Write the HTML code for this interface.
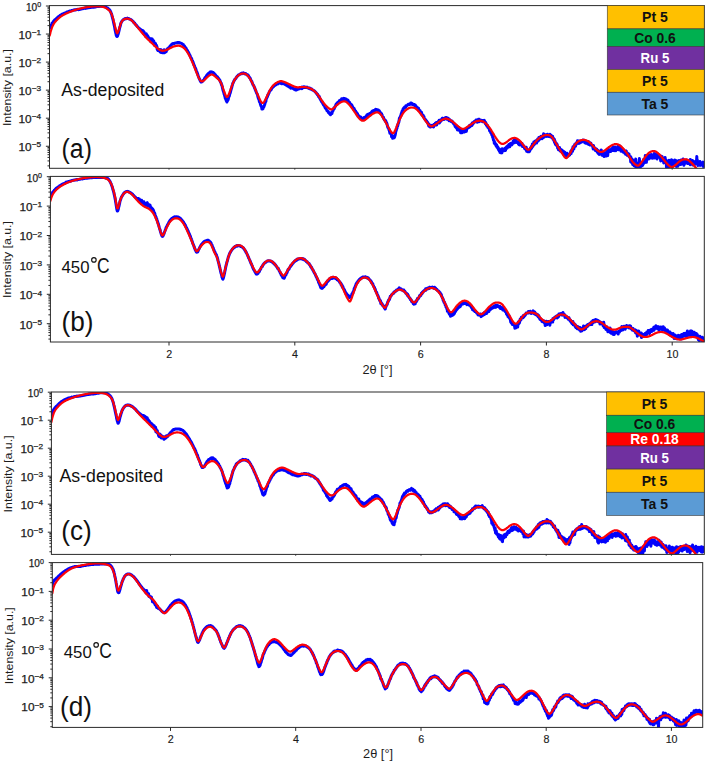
<!DOCTYPE html>
<html><head><meta charset="utf-8"><title>XRR</title>
<style>html,body{margin:0;padding:0;background:#fff;}svg{display:block;}text{font-family:"Liberation Sans",sans-serif;}</style></head>
<body>
<svg width="708" height="761" viewBox="0 0 708 761">
<rect x="0" y="0" width="708" height="761" fill="#ffffff"/>
<defs>
<clipPath id="cpa"><rect x="49.50" y="5.60" width="654.80" height="162.70"/></clipPath>
<clipPath id="cpb"><rect x="50.40" y="176.40" width="653.90" height="165.60"/></clipPath>
<clipPath id="cpc"><rect x="51.40" y="392.00" width="652.90" height="162.40"/></clipPath>
<clipPath id="cpd"><rect x="52.30" y="562.60" width="650.40" height="164.80"/></clipPath>
</defs>
<g clip-path="url(#cpa)" fill="none" stroke-linejoin="round" stroke-linecap="round">
<polyline points="49.7,28.0 50.0,27.4 50.3,26.7 50.5,26.1 50.8,25.7 51.1,25.2 51.4,24.7 51.7,24.2 51.9,23.5 52.2,23.1 52.5,22.8 52.8,22.5 53.1,22.1 53.3,21.6 53.6,21.3 53.9,21.1 54.2,20.5 54.5,20.3 54.7,19.9 55.0,19.8 55.3,19.5 55.6,19.4 55.9,19.0 56.1,18.9 56.4,18.6 56.7,18.3 57.0,17.8 57.3,17.7 57.5,17.5 57.8,17.3 58.1,16.9 58.4,16.7 58.7,16.4 58.9,16.2 59.2,16.2 59.5,15.8 59.8,15.7 60.1,15.6 60.3,15.2 60.6,15.1 60.9,14.9 61.2,14.8 61.5,14.5 61.7,14.4 62.0,14.4 62.3,14.0 62.6,14.1 62.9,13.9 63.1,13.7 63.4,13.8 63.7,13.5 64.0,13.2 64.3,13.2 64.5,13.1 64.8,12.9 65.1,12.9 65.4,12.7 65.7,12.7 65.9,12.6 66.2,12.3 66.5,12.3 66.8,12.1 67.1,12.1 67.3,11.9 67.6,11.8 67.9,11.8 68.2,11.8 68.5,11.7 68.7,11.4 69.0,11.3 69.3,11.4 69.6,11.0 69.9,11.1 70.1,11.1 70.4,11.1 70.7,11.0 71.0,10.8 71.3,10.7 71.5,10.6 71.8,10.7 72.1,10.5 72.4,10.4 72.7,10.4 72.9,10.3 73.2,10.2 73.5,10.0 73.8,10.1 74.1,10.0 74.3,10.1 74.6,9.9 74.9,9.8 75.2,9.9 75.5,9.7 75.7,9.8 76.0,9.7 76.3,9.7 76.6,9.5 76.9,9.6 77.1,9.4 77.4,9.3 77.7,9.5 78.0,9.4 78.3,9.5 78.5,9.6 78.8,9.3 79.1,9.3 79.4,9.4 79.7,9.4 79.9,9.3 80.2,9.2 80.5,9.3 80.8,9.2 81.1,9.0 81.3,9.0 81.6,8.9 81.9,8.8 82.2,8.8 82.5,8.7 82.7,8.8 83.0,8.6 83.3,8.6 83.6,8.4 83.9,8.4 84.1,8.2 84.4,8.2 84.7,8.3 85.0,8.0 85.3,8.3 85.5,7.9 85.8,8.2 86.1,7.9 86.4,8.1 86.7,7.9 86.9,7.7 87.2,8.0 87.5,7.9 87.8,7.7 88.1,7.7 88.3,7.6 88.6,7.5 88.9,7.7 89.2,7.5 89.5,7.5 89.7,7.4 90.0,7.4 90.3,7.3 90.6,7.5 90.9,7.3 91.1,7.4 91.4,7.3 91.7,7.2 92.0,7.2 92.3,7.2 92.5,7.2 92.8,7.1 93.1,7.2 93.4,7.0 93.7,7.0 93.9,7.2 94.2,7.0 94.5,6.9 94.8,7.1 95.1,7.1 95.3,6.8 95.6,6.9 95.9,6.8 96.2,6.6 96.5,6.8 96.7,6.6 97.0,6.6 97.3,6.5 97.6,6.5 97.9,6.4 98.1,6.4 98.4,6.3 98.7,6.2 99.0,6.4 99.3,6.2 99.5,6.2 99.8,6.2 100.1,6.1 100.4,6.1 100.7,6.2 100.9,6.1 101.2,6.1 101.5,6.1 101.8,6.2 102.1,6.1 102.3,6.1 102.6,6.0 102.9,6.0 103.2,6.2 103.5,6.3 103.7,6.2 104.0,6.3 104.3,6.4 104.6,6.5 104.9,6.6 105.1,6.6 105.4,6.9 105.7,6.8 106.0,7.2 106.3,7.3 106.5,7.5 106.8,7.8 107.1,8.0 107.4,7.9 107.7,8.1 107.9,8.5 108.2,8.6 108.5,8.9 108.8,9.3 109.1,9.3 109.3,9.5 109.6,10.0 109.9,10.3 110.2,10.8 110.5,11.4 110.7,12.0 111.0,12.6 111.3,13.6 111.6,14.3 111.9,15.2 112.1,16.4 112.4,17.4 112.7,18.5 113.0,19.6 113.3,20.8 113.5,22.0 113.8,23.4 114.1,24.8 114.4,26.0 114.7,27.5 114.9,28.9 115.2,30.5 115.5,31.6 115.8,33.2 116.1,34.4 116.3,35.5 116.6,36.0 116.9,36.6 117.2,36.6 117.5,36.1 117.7,35.4 118.0,34.5 118.3,33.7 118.6,32.5 118.9,31.2 119.1,30.3 119.4,29.0 119.7,27.7 120.0,26.8 120.3,25.9 120.5,24.8 120.8,23.5 121.1,22.7 121.4,22.3 121.7,21.7 121.9,21.2 122.2,20.8 122.5,20.5 122.8,20.2 123.1,20.0 123.3,19.7 123.6,19.4 123.9,19.4 124.2,19.1 124.5,19.2 124.7,18.8 125.0,18.9 125.3,18.8 125.6,18.6 125.9,18.8 126.1,18.7 126.4,18.5 126.7,18.6 127.0,18.5 127.3,18.2 127.5,18.5 127.8,18.5 128.1,18.6 128.4,18.5 128.7,18.7 128.9,18.5 129.2,19.0 129.5,19.0 129.8,19.0 130.1,19.3 130.3,19.2 130.6,19.4 130.9,19.4 131.2,19.9 131.5,20.1 131.7,20.3 132.0,20.5 132.3,20.7 132.6,21.0 132.9,21.3 133.1,21.6 133.4,21.9 133.7,22.4 134.0,22.6 134.3,22.8 134.5,23.1 134.8,23.4 135.1,24.0 135.4,24.2 135.7,24.5 135.9,24.8 136.2,25.0 136.5,25.5 136.8,25.9 137.1,26.1 137.3,26.5 137.6,26.8 137.9,27.2 138.2,27.3 138.5,27.7 138.7,27.9 139.0,28.3 139.3,28.3 139.6,28.7 139.9,29.0 140.1,29.1 140.4,29.3 140.7,29.6 141.0,29.8 141.3,29.9 141.5,30.4 141.8,31.1 142.1,30.6 142.4,30.9 142.7,30.7 142.9,31.5 143.2,30.9 143.5,31.3 143.8,33.3 144.1,31.9 144.3,33.9 144.6,34.7 144.9,33.9 145.2,34.5 145.5,36.2 145.7,34.4 146.0,34.3 146.3,33.8 146.6,35.5 146.9,37.3 147.1,37.0 147.4,35.4 147.7,35.8 148.0,36.4 148.3,37.5 148.5,37.3 148.8,37.9 149.1,38.3 149.4,38.0 149.7,38.5 149.9,39.0 150.2,39.0 150.5,40.4 150.8,41.5 151.1,40.5 151.3,40.2 151.6,38.7 151.9,41.1 152.2,39.0 152.5,39.8 152.7,42.8 153.0,42.5 153.3,41.9 153.6,40.6 153.9,42.2 154.1,42.1 154.4,43.7 154.7,45.6 155.0,43.8 155.3,43.4 155.5,43.6 155.8,45.3 156.1,45.7 156.4,45.3 156.7,47.1 156.9,46.4 157.2,49.3 157.5,49.8 157.8,50.4 158.1,49.2 158.3,50.5 158.6,50.0 158.9,50.0 159.2,50.2 159.5,49.4 159.7,49.4 160.0,51.9 160.3,51.0 160.6,51.5 160.9,52.4 161.1,49.7 161.4,50.8 161.7,51.8 162.0,52.1 162.3,51.3 162.5,52.8 162.8,52.0 163.1,50.5 163.4,52.3 163.7,52.5 163.9,52.1 164.2,49.8 164.5,52.8 164.8,52.0 165.1,52.4 165.3,50.9 165.6,50.2 165.9,50.0 166.2,51.7 166.5,50.0 166.7,50.5 167.0,49.3 167.3,49.3 167.6,48.6 167.9,48.6 168.1,48.5 168.4,48.0 168.7,47.9 169.0,47.5 169.3,47.1 169.5,46.8 169.8,46.5 170.1,46.3 170.4,45.9 170.7,45.6 170.9,45.3 171.2,44.9 171.5,44.6 171.8,44.4 172.1,44.3 172.3,43.9 172.6,44.0 172.9,43.8 173.2,43.6 173.5,43.7 173.7,43.5 174.0,43.6 174.3,43.3 174.6,43.3 174.9,43.2 175.1,43.0 175.4,43.1 175.7,43.0 176.0,43.0 176.3,42.9 176.5,42.7 176.8,42.8 177.1,42.8 177.4,42.9 177.7,42.6 177.9,42.7 178.2,42.5 178.5,42.8 178.8,42.6 179.1,42.6 179.3,42.8 179.6,43.0 179.9,42.7 180.2,42.9 180.5,43.0 180.7,43.0 181.0,43.3 181.3,43.3 181.6,43.4 181.9,43.7 182.1,43.7 182.4,44.1 182.7,44.2 183.0,44.4 183.3,44.6 183.5,45.3 183.8,45.4 184.1,45.8 184.4,46.1 184.7,46.4 184.9,46.8 185.2,47.4 185.5,47.4 185.8,47.8 186.1,48.3 186.3,48.7 186.6,49.4 186.9,49.9 187.2,50.2 187.5,50.6 187.7,51.3 188.0,52.0 188.3,52.0 188.6,52.9 188.9,53.2 189.1,54.0 189.4,54.3 189.7,54.9 190.0,55.3 190.3,56.0 190.5,56.9 190.8,57.4 191.1,57.8 191.4,58.3 191.7,58.8 191.9,59.7 192.2,60.3 192.5,61.0 192.8,61.6 193.1,62.2 193.3,63.0 193.6,63.7 193.9,64.6 194.2,65.4 194.5,65.8 194.7,66.4 195.0,67.3 195.3,67.9 195.6,68.6 195.9,69.4 196.1,70.0 196.4,71.0 196.7,71.5 197.0,72.3 197.3,73.1 197.5,73.8 197.8,74.6 198.1,75.5 198.4,76.3 198.7,77.2 198.9,77.9 199.2,78.3 199.5,79.3 199.8,79.6 200.1,80.4 200.3,81.0 200.6,81.1 200.9,82.0 201.2,82.1 201.5,82.0 201.7,81.9 202.0,81.7 202.3,81.4 202.6,81.3 202.9,80.9 203.1,80.7 203.4,80.1 203.7,80.0 204.0,79.6 204.3,79.1 204.5,78.5 204.8,78.1 205.1,77.6 205.4,77.6 205.7,77.1 205.9,76.7 206.2,76.2 206.5,75.6 206.8,75.2 207.1,75.0 207.3,74.7 207.6,74.4 207.9,73.9 208.2,74.0 208.5,73.9 208.7,73.6 209.0,73.3 209.3,72.7 209.6,73.0 209.9,72.6 210.1,72.0 210.4,72.4 210.7,71.9 211.0,71.9 211.3,71.9 211.5,72.2 211.8,71.9 212.1,72.1 212.4,72.5 212.7,72.6 212.9,72.3 213.2,72.7 213.5,72.7 213.8,73.1 214.1,73.5 214.3,73.8 214.6,74.1 214.9,74.5 215.2,74.5 215.5,75.0 215.7,75.4 216.0,75.7 216.3,76.1 216.6,76.3 216.9,76.4 217.1,76.9 217.4,76.9 217.7,77.2 218.0,78.0 218.3,78.2 218.5,78.7 218.8,78.6 219.1,79.3 219.4,79.9 219.7,80.1 219.9,80.3 220.2,81.2 220.5,82.1 220.8,82.6 221.1,83.0 221.3,84.0 221.6,85.0 221.9,85.1 222.2,86.7 222.5,87.9 222.7,88.9 223.0,90.2 223.3,91.1 223.6,91.9 223.9,93.0 224.1,94.1 224.4,94.7 224.7,95.8 225.0,97.0 225.3,98.3 225.5,98.5 225.8,99.3 226.1,100.1 226.4,101.1 226.7,101.1 226.9,102.0 227.2,100.9 227.5,100.8 227.8,100.2 228.1,99.9 228.3,99.2 228.6,97.5 228.9,96.8 229.2,96.3 229.5,95.1 229.7,93.9 230.0,93.6 230.3,92.5 230.6,91.5 230.9,90.2 231.1,89.6 231.4,88.3 231.7,87.6 232.0,86.2 232.3,85.2 232.5,84.6 232.8,83.4 233.1,83.0 233.4,82.3 233.7,81.4 233.9,81.1 234.2,80.5 234.5,80.2 234.8,79.4 235.1,79.0 235.3,78.9 235.6,78.7 235.9,78.3 236.2,77.5 236.5,77.2 236.7,77.1 237.0,76.5 237.3,76.0 237.6,76.0 237.9,75.8 238.1,75.3 238.4,74.9 238.7,74.7 239.0,74.9 239.3,74.4 239.5,74.4 239.8,74.3 240.1,74.2 240.4,73.9 240.7,73.9 240.9,73.5 241.2,73.5 241.5,73.3 241.8,73.6 242.1,73.3 242.3,73.1 242.6,73.2 242.9,73.2 243.2,73.3 243.5,72.9 243.7,73.0 244.0,73.2 244.3,73.7 244.6,73.5 244.9,73.4 245.1,73.6 245.4,74.0 245.7,73.6 246.0,73.8 246.3,74.2 246.5,74.3 246.8,74.5 247.1,74.5 247.4,75.2 247.7,75.5 247.9,75.0 248.2,75.9 248.5,75.7 248.8,76.6 249.1,76.8 249.3,77.4 249.6,77.8 249.9,78.1 250.2,78.3 250.5,79.2 250.7,79.5 251.0,80.2 251.3,80.7 251.6,81.3 251.9,81.4 252.1,82.6 252.4,83.2 252.7,84.0 253.0,84.8 253.3,85.0 253.5,85.2 253.8,86.1 254.1,86.6 254.4,87.4 254.7,88.2 254.9,88.4 255.2,89.6 255.5,89.8 255.8,91.0 256.1,91.6 256.3,92.2 256.6,93.0 256.9,93.5 257.2,94.2 257.5,94.6 257.7,95.8 258.0,97.1 258.3,98.1 258.6,98.8 258.9,99.5 259.1,100.0 259.4,101.7 259.7,102.0 260.0,102.1 260.3,103.7 260.5,104.7 260.8,105.3 261.1,106.2 261.4,106.5 261.7,107.5 261.9,109.1 262.2,108.6 262.5,108.9 262.8,108.9 263.1,108.5 263.3,107.2 263.6,107.0 263.9,106.8 264.2,105.8 264.5,105.0 264.7,104.7 265.0,103.1 265.3,102.5 265.6,101.5 265.9,101.3 266.1,99.3 266.4,98.8 266.7,98.0 267.0,97.5 267.3,96.8 267.5,96.5 267.8,95.0 268.1,95.1 268.4,94.2 268.7,93.5 268.9,93.3 269.2,92.4 269.5,91.5 269.8,91.5 270.1,90.7 270.3,90.4 270.6,90.2 270.9,89.8 271.2,89.7 271.5,88.9 271.7,88.1 272.0,88.0 272.3,87.6 272.6,87.2 272.9,87.3 273.1,86.7 273.4,86.1 273.7,86.5 274.0,86.0 274.3,85.9 274.5,85.6 274.8,85.5 275.1,85.2 275.4,85.2 275.7,84.9 275.9,84.7 276.2,84.5 276.5,83.9 276.8,84.1 277.1,83.9 277.3,83.9 277.6,83.4 277.9,84.0 278.2,83.5 278.5,83.1 278.7,82.9 279.0,83.2 279.3,83.1 279.6,82.9 279.9,83.1 280.1,82.9 280.4,83.1 280.7,82.8 281.0,83.0 281.3,83.2 281.5,83.6 281.8,82.9 282.1,83.1 282.4,83.1 282.7,83.6 282.9,83.2 283.2,83.5 283.5,83.7 283.8,83.6 284.1,83.7 284.3,84.0 284.6,83.7 284.9,84.0 285.2,84.5 285.5,84.6 285.7,84.7 286.0,84.5 286.3,84.9 286.6,85.4 286.9,85.5 287.1,85.5 287.4,85.4 287.7,86.0 288.0,85.8 288.3,85.8 288.5,85.8 288.8,86.8 289.1,86.7 289.4,87.1 289.7,86.8 289.9,87.3 290.2,87.1 290.5,87.3 290.8,88.1 291.1,87.8 291.3,87.6 291.6,87.9 291.9,88.1 292.2,87.9 292.5,88.2 292.7,87.9 293.0,88.4 293.3,88.6 293.6,88.8 293.9,89.2 294.1,89.1 294.4,89.3 294.7,88.9 295.0,89.5 295.3,89.9 295.5,89.6 295.8,89.6 296.1,89.6 296.4,90.0 296.7,89.2 296.9,89.4 297.2,89.4 297.5,89.4 297.8,89.0 298.1,89.2 298.3,88.9 298.6,88.9 298.9,88.7 299.2,88.3 299.5,88.5 299.7,88.6 300.0,88.0 300.3,88.0 300.6,88.1 300.9,87.6 301.1,87.8 301.4,87.3 301.7,87.8 302.0,88.6 302.3,87.8 302.5,87.1 302.8,87.2 303.1,87.0 303.4,87.0 303.7,87.4 303.9,86.7 304.2,87.3 304.5,87.1 304.8,87.5 305.1,87.2 305.3,87.0 305.6,87.3 305.9,87.5 306.2,87.4 306.5,87.5 306.7,87.3 307.0,87.0 307.3,87.8 307.6,87.8 307.9,87.8 308.1,87.8 308.4,88.2 308.7,87.9 309.0,87.9 309.3,88.1 309.5,88.6 309.8,88.0 310.1,88.8 310.4,88.4 310.7,88.4 310.9,89.2 311.2,88.9 311.5,88.8 311.8,89.2 312.1,89.7 312.3,89.9 312.6,89.7 312.9,90.1 313.2,90.3 313.5,90.2 313.7,90.7 314.0,90.8 314.3,90.9 314.6,91.1 314.9,91.5 315.1,91.8 315.4,91.9 315.7,92.2 316.0,92.9 316.3,93.0 316.5,93.5 316.8,93.9 317.1,94.0 317.4,94.9 317.7,94.3 317.9,95.2 318.2,95.3 318.5,96.4 318.8,96.9 319.1,96.2 319.3,97.0 319.6,98.0 319.9,98.6 320.2,99.1 320.5,99.3 320.7,100.0 321.0,100.6 321.3,100.8 321.6,101.7 321.9,101.1 322.1,102.6 322.4,102.5 322.7,103.7 323.0,103.7 323.3,103.9 323.5,104.9 323.8,104.8 324.1,105.3 324.4,105.5 324.7,106.6 324.9,107.2 325.2,107.9 325.5,107.9 325.8,108.8 326.1,108.8 326.3,109.2 326.6,109.9 326.9,110.5 327.2,110.4 327.5,110.8 327.7,111.2 328.0,111.7 328.3,111.6 328.6,112.8 328.9,112.6 329.1,113.3 329.4,113.0 329.7,113.9 330.0,114.2 330.3,113.7 330.5,114.7 330.8,113.7 331.1,114.1 331.4,113.5 331.7,112.4 331.9,113.6 332.2,112.1 332.5,111.5 332.8,111.1 333.1,110.4 333.3,109.3 333.6,109.5 333.9,108.1 334.2,108.7 334.5,107.7 334.7,107.1 335.0,106.8 335.3,106.4 335.6,106.0 335.9,104.5 336.1,104.4 336.4,103.7 336.7,103.7 337.0,104.4 337.3,103.1 337.5,103.4 337.8,102.4 338.1,102.7 338.4,102.2 338.7,102.0 338.9,101.9 339.2,102.1 339.5,100.5 339.8,101.0 340.1,100.4 340.3,100.7 340.6,100.2 340.9,100.3 341.2,99.8 341.5,100.2 341.7,98.8 342.0,99.1 342.3,99.4 342.6,98.9 342.9,98.7 343.1,98.8 343.4,98.4 343.7,98.9 344.0,99.6 344.3,99.2 344.5,98.5 344.8,98.6 345.1,98.8 345.4,99.4 345.7,98.9 345.9,99.1 346.2,99.7 346.5,99.9 346.8,99.7 347.1,99.7 347.3,99.8 347.6,100.4 347.9,100.1 348.2,101.4 348.5,101.3 348.7,102.0 349.0,102.8 349.3,102.9 349.6,102.4 349.9,103.5 350.1,104.0 350.4,103.7 350.7,104.0 351.0,105.0 351.3,104.5 351.5,106.1 351.8,105.0 352.1,105.9 352.4,106.6 352.7,107.0 352.9,107.6 353.2,108.1 353.5,108.3 353.8,109.2 354.1,108.3 354.3,109.6 354.6,109.7 354.9,110.5 355.2,110.9 355.5,110.9 355.7,111.4 356.0,112.4 356.3,112.7 356.6,112.6 356.9,114.2 357.1,114.8 357.4,113.4 357.7,114.6 358.0,116.1 358.3,115.6 358.5,115.7 358.8,115.9 359.1,116.0 359.4,116.5 359.7,116.7 359.9,117.8 360.2,117.2 360.5,117.4 360.8,117.2 361.1,118.0 361.3,117.7 361.6,118.1 361.9,118.8 362.2,118.6 362.5,118.6 362.7,118.6 363.0,118.4 363.3,118.2 363.6,118.0 363.9,118.5 364.1,117.4 364.4,118.5 364.7,117.7 365.0,117.1 365.3,117.0 365.5,116.8 365.8,117.0 366.1,116.3 366.4,117.0 366.7,115.8 366.9,114.9 367.2,115.4 367.5,114.5 367.8,115.2 368.1,115.5 368.3,115.0 368.6,113.9 368.9,113.9 369.2,114.8 369.5,113.9 369.7,113.6 370.0,113.8 370.3,115.1 370.6,113.5 370.9,112.8 371.1,112.6 371.4,112.6 371.7,111.8 372.0,111.4 372.3,111.7 372.5,111.1 372.8,111.3 373.1,111.2 373.4,112.1 373.7,110.5 373.9,110.7 374.2,110.5 374.5,110.7 374.8,110.8 375.1,110.0 375.3,109.8 375.6,109.3 375.9,109.6 376.2,110.2 376.5,110.0 376.7,109.6 377.0,109.9 377.3,110.2 377.6,110.5 377.9,110.2 378.1,110.5 378.4,110.0 378.7,110.5 379.0,112.0 379.3,110.6 379.5,111.7 379.8,112.2 380.1,112.3 380.4,112.5 380.7,113.3 380.9,113.7 381.2,114.1 381.5,113.6 381.8,114.8 382.1,114.9 382.3,115.5 382.6,116.3 382.9,116.9 383.2,117.5 383.5,117.3 383.7,118.4 384.0,119.1 384.3,119.5 384.6,120.1 384.9,119.8 385.1,120.3 385.4,121.4 385.7,120.7 386.0,122.0 386.3,122.3 386.5,123.2 386.8,123.1 387.1,124.3 387.4,125.6 387.7,126.9 387.9,127.7 388.2,127.7 388.5,128.4 388.8,128.7 389.1,130.2 389.3,130.5 389.6,131.8 389.9,133.3 390.2,132.7 390.5,132.3 390.7,133.4 391.0,133.6 391.3,134.3 391.6,136.8 391.9,136.4 392.1,135.5 392.4,137.6 392.7,138.3 393.0,137.2 393.3,137.1 393.5,137.4 393.8,137.8 394.1,137.8 394.4,137.4 394.7,136.7 394.9,135.8 395.2,135.0 395.5,133.5 395.8,131.0 396.1,130.9 396.3,130.2 396.6,128.8 396.9,128.6 397.2,126.8 397.5,125.4 397.7,125.9 398.0,124.5 398.3,123.3 398.6,122.8 398.9,121.9 399.1,120.6 399.4,118.2 399.7,118.3 400.0,117.6 400.3,116.5 400.5,116.2 400.8,115.9 401.1,114.3 401.4,113.2 401.7,113.8 401.9,111.9 402.2,110.8 402.5,110.7 402.8,110.1 403.1,109.0 403.3,109.2 403.6,108.3 403.9,107.8 404.2,107.9 404.5,107.8 404.7,106.9 405.0,107.0 405.3,106.6 405.6,107.4 405.9,105.8 406.1,106.4 406.4,105.6 406.7,105.4 407.0,105.5 407.3,105.4 407.5,105.4 407.8,104.8 408.1,104.3 408.4,104.2 408.7,104.5 408.9,104.4 409.2,104.5 409.5,104.1 409.8,104.2 410.1,104.3 410.3,103.7 410.6,103.1 410.9,103.1 411.2,103.0 411.5,104.1 411.7,103.2 412.0,104.0 412.3,103.8 412.6,104.4 412.9,104.3 413.1,104.0 413.4,104.2 413.7,104.4 414.0,104.7 414.3,104.6 414.5,105.0 414.8,105.9 415.1,104.9 415.4,105.9 415.7,105.7 415.9,106.5 416.2,107.0 416.5,107.0 416.8,107.7 417.1,107.1 417.3,108.5 417.6,108.1 417.9,108.8 418.2,109.0 418.5,108.1 418.7,109.2 419.0,109.9 419.3,110.8 419.6,110.6 419.9,111.0 420.1,110.6 420.4,112.2 420.7,112.7 421.0,112.3 421.3,112.6 421.5,112.3 421.8,113.8 422.1,115.1 422.4,114.7 422.7,115.4 422.9,115.6 423.2,115.4 423.5,117.0 423.8,116.3 424.1,117.3 424.3,118.0 424.6,118.8 424.9,119.1 425.2,119.5 425.5,119.5 425.7,119.7 426.0,120.9 426.3,120.9 426.6,121.1 426.9,121.6 427.1,122.4 427.4,122.1 427.7,122.8 428.0,123.1 428.3,124.4 428.5,124.9 428.8,126.1 429.1,124.3 429.4,125.0 429.7,126.1 429.9,125.7 430.2,125.7 430.5,127.1 430.8,126.0 431.1,125.5 431.3,125.5 431.6,126.5 431.9,126.5 432.2,125.4 432.5,125.5 432.7,126.3 433.0,126.2 433.3,125.4 433.6,127.0 433.9,125.8 434.1,124.2 434.4,124.9 434.7,125.2 435.0,124.4 435.3,123.3 435.5,124.2 435.8,124.6 436.1,124.8 436.4,122.4 436.7,125.0 436.9,122.6 437.2,123.6 437.5,123.5 437.8,123.2 438.1,122.5 438.3,121.5 438.6,122.3 438.9,121.4 439.2,120.2 439.5,122.9 439.7,121.5 440.0,121.9 440.3,120.2 440.6,121.3 440.9,121.2 441.1,121.0 441.4,119.9 441.7,119.1 442.0,119.5 442.3,118.3 442.5,118.4 442.8,119.2 443.1,118.4 443.4,118.7 443.7,118.6 443.9,119.6 444.2,119.2 444.5,118.4 444.8,119.0 445.1,117.9 445.3,118.1 445.6,118.7 445.9,117.6 446.2,118.0 446.5,117.5 446.7,118.3 447.0,119.1 447.3,118.0 447.6,118.6 447.9,118.2 448.1,118.3 448.4,118.4 448.7,120.0 449.0,120.6 449.3,119.8 449.5,119.4 449.8,120.4 450.1,120.1 450.4,120.9 450.7,120.9 450.9,121.1 451.2,121.5 451.5,121.2 451.8,121.5 452.1,121.0 452.3,122.0 452.6,121.8 452.9,122.8 453.2,122.6 453.5,123.5 453.7,124.0 454.0,123.3 454.3,124.0 454.6,124.2 454.9,125.6 455.1,126.5 455.4,126.3 455.7,125.9 456.0,127.4 456.3,125.9 456.5,128.1 456.8,127.1 457.1,126.1 457.4,129.9 457.7,129.5 457.9,128.2 458.2,129.3 458.5,129.3 458.8,129.8 459.1,129.0 459.3,129.8 459.6,130.8 459.9,130.8 460.2,131.6 460.5,131.0 460.7,132.8 461.0,130.8 461.3,131.6 461.6,130.2 461.9,130.8 462.1,132.7 462.4,131.2 462.7,132.3 463.0,131.9 463.3,131.2 463.5,131.6 463.8,131.4 464.1,131.3 464.4,132.0 464.7,131.7 464.9,130.6 465.2,130.1 465.5,130.7 465.8,130.1 466.1,130.6 466.3,131.4 466.6,129.9 466.9,129.0 467.2,128.6 467.5,127.9 467.7,127.6 468.0,127.2 468.3,127.3 468.6,126.9 468.9,127.4 469.1,126.4 469.4,126.2 469.7,125.3 470.0,126.8 470.3,125.9 470.5,126.4 470.8,125.5 471.1,125.7 471.4,124.4 471.7,124.7 471.9,125.6 472.2,123.0 472.5,124.2 472.8,124.2 473.1,123.2 473.3,123.2 473.6,123.2 473.9,121.9 474.2,122.3 474.5,121.3 474.7,121.2 475.0,121.0 475.3,121.1 475.6,121.2 475.9,121.2 476.1,120.1 476.4,121.8 476.7,121.3 477.0,120.2 477.3,122.2 477.5,120.4 477.8,120.7 478.1,120.5 478.4,119.4 478.7,119.8 478.9,121.8 479.2,119.2 479.5,120.8 479.8,120.4 480.1,120.2 480.3,121.0 480.6,120.3 480.9,120.4 481.2,121.2 481.5,120.3 481.7,120.3 482.0,120.7 482.3,120.5 482.6,121.7 482.9,120.4 483.1,121.6 483.4,120.5 483.7,121.8 484.0,121.0 484.3,120.3 484.5,121.9 484.8,121.5 485.1,122.2 485.4,123.7 485.7,122.5 485.9,123.0 486.2,124.8 486.5,124.5 486.8,125.8 487.1,125.5 487.3,125.2 487.6,126.1 487.9,127.4 488.2,127.7 488.5,127.6 488.7,128.1 489.0,128.5 489.3,128.7 489.6,130.9 489.9,130.1 490.1,129.9 490.4,131.0 490.7,132.6 491.0,133.2 491.3,133.3 491.5,133.6 491.8,134.9 492.1,134.2 492.4,135.2 492.7,137.6 492.9,137.3 493.2,138.8 493.5,140.2 493.8,140.5 494.1,140.6 494.3,143.3 494.6,142.7 494.9,142.4 495.2,144.2 495.5,144.6 495.7,144.0 496.0,145.7 496.3,146.1 496.6,144.7 496.9,147.1 497.1,147.3 497.4,147.6 497.7,146.6 498.0,148.4 498.3,149.1 498.5,149.6 498.8,148.4 499.1,150.8 499.4,148.9 499.7,150.3 499.9,152.4 500.2,150.2 500.5,150.6 500.8,152.7 501.1,151.1 501.3,151.3 501.6,152.0 501.9,152.9 502.2,148.8 502.5,150.4 502.7,150.0 503.0,149.7 503.3,149.8 503.6,149.6 503.9,150.7 504.1,149.0 504.4,149.9 504.7,149.9 505.0,148.3 505.3,149.1 505.5,150.6 505.8,148.8 506.1,147.5 506.4,147.9 506.7,146.7 506.9,147.7 507.2,148.1 507.5,146.0 507.8,146.3 508.1,147.4 508.3,145.5 508.6,145.9 508.9,144.4 509.2,144.3 509.5,144.4 509.7,146.8 510.0,144.0 510.3,143.6 510.6,143.4 510.9,143.6 511.1,144.2 511.4,143.5 511.7,145.1 512.0,143.2 512.3,144.2 512.5,143.0 512.8,143.1 513.1,141.1 513.4,142.2 513.7,142.2 513.9,141.9 514.2,140.1 514.5,142.8 514.8,141.6 515.1,141.6 515.3,141.6 515.6,141.7 515.9,139.4 516.2,140.9 516.5,141.2 516.7,142.4 517.0,142.4 517.3,142.0 517.6,141.9 517.9,141.8 518.1,142.7 518.4,144.0 518.7,142.1 519.0,144.7 519.3,144.2 519.5,143.2 519.8,144.9 520.1,142.6 520.4,142.5 520.7,143.2 520.9,144.2 521.2,144.5 521.5,144.6 521.8,145.4 522.1,143.4 522.3,146.4 522.6,144.7 522.9,145.7 523.2,146.2 523.5,145.7 523.7,145.7 524.0,146.3 524.3,147.6 524.6,148.5 524.9,148.7 525.1,147.3 525.4,147.8 525.7,147.9 526.0,149.7 526.3,147.2 526.5,151.2 526.8,149.4 527.1,149.2 527.4,150.7 527.7,151.8 527.9,150.9 528.2,151.8 528.5,150.6 528.8,151.4 529.1,151.7 529.3,149.9 529.6,151.4 529.9,149.7 530.2,149.3 530.5,147.9 530.7,148.2 531.0,149.0 531.3,146.4 531.6,148.2 531.9,147.5 532.1,147.0 532.4,144.0 532.7,145.8 533.0,146.2 533.3,144.4 533.5,144.9 533.8,142.1 534.1,144.7 534.4,143.1 534.7,144.2 534.9,141.3 535.2,143.3 535.5,142.1 535.8,142.7 536.1,140.8 536.3,140.8 536.6,143.1 536.9,140.0 537.2,139.9 537.5,140.0 537.7,139.1 538.0,140.7 538.3,140.9 538.6,138.6 538.9,137.5 539.1,139.8 539.4,139.5 539.7,139.0 540.0,139.1 540.3,137.3 540.5,137.6 540.8,136.5 541.1,136.3 541.4,138.0 541.7,136.5 541.9,138.7 542.2,136.8 542.5,136.1 542.8,137.1 543.1,137.8 543.3,136.6 543.6,133.8 543.9,136.3 544.2,137.0 544.5,135.5 544.7,135.2 545.0,136.5 545.3,135.8 545.6,134.8 545.9,135.3 546.1,135.0 546.4,135.7 546.7,135.6 547.0,136.4 547.3,136.0 547.5,134.3 547.8,135.8 548.1,136.2 548.4,135.9 548.7,136.4 548.9,135.2 549.2,135.0 549.5,136.5 549.8,135.0 550.1,134.3 550.3,136.9 550.6,135.7 550.9,136.2 551.2,135.5 551.5,135.8 551.7,136.2 552.0,137.1 552.3,138.0 552.6,136.2 552.9,139.1 553.1,137.8 553.4,138.3 553.7,140.2 554.0,139.9 554.3,139.1 554.5,142.5 554.8,140.6 555.1,142.0 555.4,144.4 555.7,144.0 555.9,142.7 556.2,144.6 556.5,143.4 556.8,145.7 557.1,144.3 557.3,145.2 557.6,148.0 557.9,146.8 558.2,147.1 558.5,149.8 558.7,148.3 559.0,147.5 559.3,149.5 559.6,147.6 559.9,150.5 560.1,150.9 560.4,149.2 560.7,149.4 561.0,150.6 561.3,150.7 561.5,149.8 561.8,151.9 562.1,150.5 562.4,151.2 562.7,151.5 562.9,151.9 563.2,152.9 563.5,151.3 563.8,153.8 564.1,153.1 564.3,152.8 564.6,152.1 564.9,152.4 565.2,154.9 565.5,153.2 565.7,154.7 566.0,156.1 566.3,154.8 566.6,156.6 566.9,154.3 567.1,153.3 567.4,156.1 567.7,155.1 568.0,156.1 568.3,154.5 568.5,155.9 568.8,155.3 569.1,154.9 569.4,154.4 569.7,155.0 569.9,153.7 570.2,153.2 570.5,153.7 570.8,151.3 571.1,153.6 571.3,150.8 571.6,151.6 571.9,149.9 572.2,149.2 572.5,151.3 572.7,148.2 573.0,146.7 573.3,146.8 573.6,146.8 573.9,149.0 574.1,146.5 574.4,146.9 574.7,144.5 575.0,145.5 575.3,145.5 575.5,146.3 575.8,143.6 576.1,144.6 576.4,144.0 576.7,142.5 576.9,143.2 577.2,142.8 577.5,140.7 577.8,143.2 578.1,143.0 578.3,141.9 578.6,141.0 578.9,143.4 579.2,142.2 579.5,142.8 579.7,143.0 580.0,141.2 580.3,142.3 580.6,141.2 580.9,141.3 581.1,141.2 581.4,141.2 581.7,142.1 582.0,141.1 582.3,140.8 582.5,140.7 582.8,141.2 583.1,140.1 583.4,140.4 583.7,140.8 583.9,140.4 584.2,140.8 584.5,140.4 584.8,142.8 585.1,142.2 585.3,141.5 585.6,141.1 585.9,143.2 586.2,141.7 586.5,141.4 586.7,141.9 587.0,142.0 587.3,143.1 587.6,142.0 587.9,144.1 588.1,141.5 588.4,143.1 588.7,141.7 589.0,144.6 589.3,142.8 589.5,143.3 589.8,144.4 590.1,145.0 590.4,143.0 590.7,144.0 590.9,143.3 591.2,145.1 591.5,145.2 591.8,145.3 592.1,145.2 592.3,145.9 592.6,145.8 592.9,147.5 593.2,148.9 593.5,145.5 593.7,147.8 594.0,147.8 594.3,149.1 594.6,147.8 594.9,148.9 595.1,148.2 595.4,150.5 595.7,150.1 596.0,150.0 596.3,150.9 596.5,150.4 596.8,149.1 597.1,151.9 597.4,151.7 597.7,151.4 597.9,153.0 598.2,153.5 598.5,150.8 598.8,151.3 599.1,154.4 599.3,154.4 599.6,151.8 599.9,152.0 600.2,152.2 600.5,152.6 600.7,151.4 601.0,153.6 601.3,149.9 601.6,152.3 601.9,155.2 602.1,153.2 602.4,154.1 602.7,155.1 603.0,155.4 603.3,153.9 603.5,154.4 603.8,153.3 604.1,156.6 604.4,155.2 604.7,152.8 604.9,154.3 605.2,155.0 605.5,154.5 605.8,156.1 606.1,155.3 606.3,152.6 606.6,153.0 606.9,151.3 607.2,153.1 607.5,152.7 607.7,155.7 608.0,152.3 608.3,149.4 608.6,151.0 608.9,151.8 609.1,149.9 609.4,150.2 609.7,150.7 610.0,151.4 610.3,150.6 610.5,149.6 610.8,151.4 611.1,149.7 611.4,149.6 611.7,148.5 611.9,149.0 612.2,150.6 612.5,147.9 612.8,149.5 613.1,150.3 613.3,147.0 613.6,149.6 613.9,148.0 614.2,150.7 614.5,150.4 614.7,149.4 615.0,147.1 615.3,147.8 615.6,149.9 615.9,150.6 616.1,148.9 616.4,149.9 616.7,147.8 617.0,148.2 617.3,148.3 617.5,148.8 617.8,146.6 618.1,149.3 618.4,149.7 618.7,147.0 618.9,146.8 619.2,148.8 619.5,147.7 619.8,145.9 620.1,149.5 620.3,148.8 620.6,148.2 620.9,151.2 621.2,149.1 621.5,148.3 621.7,149.4 622.0,148.2 622.3,148.7 622.6,150.2 622.9,149.3 623.1,149.6 623.4,152.3 623.7,151.5 624.0,151.7 624.3,151.6 624.5,151.8 624.8,153.2 625.1,151.6 625.4,154.2 625.7,151.0 625.9,152.1 626.2,150.9 626.5,152.5 626.8,153.8 627.1,155.3 627.3,153.0 627.6,154.3 627.9,154.2 628.2,154.1 628.5,153.9 628.7,156.1 629.0,154.0 629.3,157.0 629.6,157.3 629.9,156.7 630.1,156.6 630.4,156.5 630.7,161.9 631.0,157.3 631.3,162.3 631.5,161.2 631.8,160.1 632.1,159.1 632.4,163.0 632.7,164.4 632.9,160.1 633.2,161.3 633.5,163.8 633.8,162.8 634.1,165.8 634.3,161.5 634.6,163.5 634.9,160.5 635.2,166.5 635.5,161.6 635.7,159.0 636.0,162.8 636.3,163.0 636.6,166.9 636.9,162.9 637.1,163.6 637.4,164.8 637.7,166.7 638.0,163.6 638.3,165.9 638.5,165.1 638.8,163.7 639.1,164.6 639.4,158.5 639.7,162.9 639.9,167.0 640.2,162.0 640.5,166.9 640.8,166.5 641.1,164.5 641.3,163.2 641.6,164.2 641.9,165.5 642.2,165.7 642.5,164.5 642.7,165.4 643.0,162.2 643.3,163.2 643.6,159.6 643.9,163.3 644.1,161.8 644.4,160.5 644.7,162.7 645.0,161.5 645.3,155.5 645.5,159.7 645.8,157.0 646.1,160.5 646.4,162.3 646.7,157.4 646.9,158.0 647.2,157.3 647.5,157.9 647.8,158.2 648.1,158.9 648.3,155.5 648.6,159.1 648.9,155.3 649.2,157.0 649.5,158.1 649.7,157.4 650.0,155.0 650.3,155.3 650.6,155.6 650.9,156.2 651.1,157.9 651.4,154.4 651.7,156.9 652.0,157.2 652.3,157.0 652.5,156.8 652.8,158.3 653.1,156.8 653.4,157.3 653.7,156.9 653.9,157.5 654.2,153.5 654.5,158.0 654.8,155.9 655.1,155.9 655.3,155.0 655.6,153.9 655.9,156.1 656.2,155.8 656.5,157.5 656.7,154.7 657.0,158.9 657.3,157.2 657.6,156.5 657.9,155.9 658.1,155.9 658.4,155.5 658.7,156.4 659.0,157.3 659.3,157.1 659.5,155.4 659.8,157.2 660.1,156.4 660.4,158.2 660.7,160.9 660.9,159.2 661.2,157.9 661.5,156.2 661.8,156.7 662.1,156.5 662.3,160.5 662.6,158.4 662.9,159.9 663.2,159.1 663.5,160.5 663.7,162.9 664.0,159.7 664.3,160.5 664.6,160.0 664.9,161.9 665.1,157.5 665.4,160.1 665.7,159.8 666.0,160.0 666.3,163.5 666.5,167.3 666.8,161.1 667.1,164.7 667.4,163.6 667.7,161.3 667.9,162.8 668.2,163.0 668.5,162.3 668.8,167.1 669.1,160.2 669.3,164.4 669.6,164.3 669.9,162.7 670.2,164.0 670.5,165.4 670.7,164.0 671.0,164.4 671.3,164.8 671.6,159.7 671.9,165.8 672.1,167.2 672.4,165.0 672.7,165.2 673.0,160.8 673.3,163.2 673.5,162.0 673.8,162.4 674.1,165.3 674.4,162.0 674.7,163.2 674.9,159.9 675.2,163.1 675.5,163.5 675.8,162.0 676.1,161.9 676.3,166.5 676.6,160.8 676.9,161.0 677.2,161.4 677.5,164.8 677.7,166.3 678.0,163.1 678.3,161.2 678.6,161.6 678.9,164.1 679.1,160.6 679.4,164.7 679.7,164.6 680.0,162.2 680.3,163.1 680.5,163.2 680.8,164.5 681.1,160.0 681.4,163.8 681.7,160.2 681.9,160.4 682.2,161.9 682.5,161.3 682.8,160.0 683.1,159.0 683.3,160.2 683.6,164.3 683.9,165.3 684.2,163.1 684.5,164.1 684.7,161.2 685.0,162.1 685.3,162.6 685.6,160.2 685.9,160.3 686.1,162.1 686.4,161.3 686.7,160.0 687.0,162.5 687.3,161.4 687.5,163.6 687.8,161.8 688.1,161.4 688.4,162.1 688.7,161.7 688.9,160.9 689.2,161.4 689.5,163.6 689.8,163.5 690.1,164.7 690.3,159.5 690.6,161.8 690.9,161.7 691.2,162.8 691.5,161.7 691.7,161.6 692.0,163.9 692.3,162.9 692.6,160.6 692.9,165.1 693.1,164.5 693.4,161.8 693.7,164.4 694.0,161.6 694.3,165.0 694.5,162.7 694.8,161.7 695.1,162.6 695.4,161.9 695.7,163.6 695.9,163.6 696.2,163.3 696.5,162.2 696.8,156.6 697.1,163.3 697.3,159.8 697.6,163.7 697.9,165.4 698.2,163.8 698.5,162.6 698.7,163.0 699.0,163.1 699.3,162.3 699.6,162.2 699.9,161.5 700.1,165.4 700.4,163.3 700.7,165.1 701.0,163.0 701.3,163.6 701.5,163.2 701.8,164.3 702.1,165.0 702.4,163.9 702.7,162.2 702.9,162.0 703.2,166.4 703.5,162.9 703.8,162.8 704.1,165.9 704.3,165.2 704.6,164.1 704.9,162.3" stroke="#0303fc" stroke-width="3.0"/>
<polyline points="49.7,35.6 50.0,34.4 50.3,33.2 50.5,32.1 50.8,31.1 51.1,30.2 51.4,29.3 51.7,28.4 51.9,27.7 52.2,26.9 52.5,26.3 52.8,25.6 53.1,25.1 53.3,24.6 53.6,24.1 53.9,23.6 54.2,23.2 54.5,22.8 54.7,22.4 55.0,22.0 55.3,21.7 55.6,21.4 55.9,21.1 56.1,20.8 56.4,20.5 56.7,20.2 57.0,19.9 57.3,19.6 57.5,19.3 57.8,19.1 58.1,18.8 58.4,18.5 58.7,18.3 58.9,18.0 59.2,17.8 59.5,17.6 59.8,17.3 60.1,17.1 60.3,16.9 60.6,16.7 60.9,16.5 61.2,16.3 61.5,16.1 61.7,15.9 62.0,15.8 62.3,15.6 62.6,15.4 62.9,15.3 63.1,15.1 63.4,15.0 63.7,14.8 64.0,14.7 64.3,14.5 64.5,14.4 64.8,14.2 65.1,14.1 65.4,13.9 65.7,13.8 65.9,13.7 66.2,13.5 66.5,13.4 66.8,13.3 67.1,13.2 67.3,13.0 67.6,12.9 67.9,12.8 68.2,12.7 68.5,12.5 68.7,12.4 69.0,12.3 69.3,12.2 69.6,12.1 69.9,12.0 70.1,11.8 70.4,11.7 70.7,11.6 71.0,11.5 71.3,11.4 71.5,11.3 71.8,11.2 72.1,11.1 72.4,11.0 72.7,10.9 72.9,10.7 73.2,10.6 73.5,10.5 73.8,10.4 74.1,10.3 74.3,10.3 74.6,10.2 74.9,10.1 75.2,10.0 75.5,9.9 75.7,9.8 76.0,9.7 76.3,9.6 76.6,9.5 76.9,9.5 77.1,9.4 77.4,9.3 77.7,9.2 78.0,9.1 78.3,9.1 78.5,9.0 78.8,8.9 79.1,8.8 79.4,8.8 79.7,8.7 79.9,8.6 80.2,8.6 80.5,8.5 80.8,8.4 81.1,8.4 81.3,8.3 81.6,8.2 81.9,8.2 82.2,8.1 82.5,8.0 82.7,8.0 83.0,7.9 83.3,7.9 83.6,7.8 83.9,7.7 84.1,7.7 84.4,7.6 84.7,7.6 85.0,7.5 85.3,7.5 85.5,7.4 85.8,7.4 86.1,7.3 86.4,7.3 86.7,7.2 86.9,7.2 87.2,7.1 87.5,7.1 87.8,7.1 88.1,7.0 88.3,7.0 88.6,6.9 88.9,6.9 89.2,6.9 89.5,6.8 89.7,6.8 90.0,6.7 90.3,6.7 90.6,6.7 90.9,6.7 91.1,6.6 91.4,6.6 91.7,6.6 92.0,6.5 92.3,6.5 92.5,6.5 92.8,6.5 93.1,6.4 93.4,6.4 93.7,6.4 93.9,6.4 94.2,6.4 94.5,6.3 94.8,6.3 95.1,6.3 95.3,6.3 95.6,6.3 95.9,6.3 96.2,6.3 96.5,6.3 96.7,6.3 97.0,6.3 97.3,6.3 97.6,6.3 97.9,6.3 98.1,6.3 98.4,6.3 98.7,6.3 99.0,6.3 99.3,6.4 99.5,6.4 99.8,6.4 100.1,6.4 100.4,6.4 100.7,6.5 100.9,6.5 101.2,6.6 101.5,6.6 101.8,6.6 102.1,6.7 102.3,6.8 102.6,6.8 102.9,6.9 103.2,7.0 103.5,7.1 103.7,7.2 104.0,7.2 104.3,7.3 104.6,7.4 104.9,7.5 105.1,7.7 105.4,7.8 105.7,7.9 106.0,8.1 106.3,8.2 106.5,8.4 106.8,8.6 107.1,8.8 107.4,9.0 107.7,9.2 107.9,9.5 108.2,9.7 108.5,9.9 108.8,10.2 109.1,10.4 109.3,10.7 109.6,11.0 109.9,11.3 110.2,11.7 110.5,12.1 110.7,12.5 111.0,13.0 111.3,13.5 111.6,14.1 111.9,14.8 112.1,15.6 112.4,16.4 112.7,17.3 113.0,18.3 113.3,19.3 113.5,20.3 113.8,21.4 114.1,22.5 114.4,23.6 114.7,24.8 114.9,25.9 115.2,27.1 115.5,28.3 115.8,29.4 116.1,30.6 116.3,31.6 116.6,32.5 116.9,33.1 117.2,33.3 117.5,33.1 117.7,32.7 118.0,32.1 118.3,31.3 118.6,30.5 118.9,29.6 119.1,28.8 119.4,27.9 119.7,26.9 120.0,26.0 120.3,25.1 120.5,24.3 120.8,23.5 121.1,22.8 121.4,22.2 121.7,21.7 121.9,21.3 122.2,20.9 122.5,20.5 122.8,20.2 123.1,20.0 123.3,19.7 123.6,19.6 123.9,19.4 124.2,19.3 124.5,19.2 124.7,19.1 125.0,19.0 125.3,18.9 125.6,18.9 125.9,18.8 126.1,18.7 126.4,18.7 126.7,18.7 127.0,18.7 127.3,18.7 127.5,18.7 127.8,18.7 128.1,18.8 128.4,18.8 128.7,18.9 128.9,19.0 129.2,19.1 129.5,19.2 129.8,19.3 130.1,19.4 130.3,19.6 130.6,19.7 130.9,19.9 131.2,20.1 131.5,20.3 131.7,20.5 132.0,20.8 132.3,21.0 132.6,21.3 132.9,21.6 133.1,21.9 133.4,22.3 133.7,22.6 134.0,22.9 134.3,23.2 134.5,23.5 134.8,23.9 135.1,24.2 135.4,24.6 135.7,24.9 135.9,25.2 136.2,25.6 136.5,25.9 136.8,26.3 137.1,26.6 137.3,27.0 137.6,27.3 137.9,27.7 138.2,28.0 138.5,28.4 138.7,28.7 139.0,29.1 139.3,29.4 139.6,29.8 139.9,30.1 140.1,30.5 140.4,30.8 140.7,31.2 141.0,31.5 141.3,31.8 141.5,32.2 141.8,32.5 142.1,32.9 142.4,33.2 142.7,33.5 142.9,33.9 143.2,34.2 143.5,34.5 143.8,34.8 144.1,35.2 144.3,35.5 144.6,35.8 144.9,36.1 145.2,36.5 145.5,36.8 145.7,37.1 146.0,37.4 146.3,37.7 146.6,38.0 146.9,38.3 147.1,38.6 147.4,38.8 147.7,39.1 148.0,39.4 148.3,39.7 148.5,40.0 148.8,40.2 149.1,40.5 149.4,40.8 149.7,41.0 149.9,41.3 150.2,41.6 150.5,41.8 150.8,42.1 151.1,42.4 151.3,42.6 151.6,42.9 151.9,43.2 152.2,43.4 152.5,43.7 152.7,44.0 153.0,44.3 153.3,44.5 153.6,44.8 153.9,45.1 154.1,45.3 154.4,45.6 154.7,45.8 155.0,46.1 155.3,46.4 155.5,46.6 155.8,46.9 156.1,47.1 156.4,47.4 156.7,47.6 156.9,47.8 157.2,48.1 157.5,48.3 157.8,48.5 158.1,48.7 158.3,48.9 158.6,49.2 158.9,49.4 159.2,49.5 159.5,49.7 159.7,49.9 160.0,50.0 160.3,50.2 160.6,50.3 160.9,50.4 161.1,50.5 161.4,50.6 161.7,50.7 162.0,50.7 162.3,50.7 162.5,50.8 162.8,50.8 163.1,50.7 163.4,50.7 163.7,50.7 163.9,50.7 164.2,50.6 164.5,50.6 164.8,50.5 165.1,50.4 165.3,50.3 165.6,50.2 165.9,50.2 166.2,50.0 166.5,49.9 166.7,49.8 167.0,49.7 167.3,49.6 167.6,49.5 167.9,49.3 168.1,49.2 168.4,49.1 168.7,48.9 169.0,48.8 169.3,48.6 169.5,48.5 169.8,48.3 170.1,48.2 170.4,48.0 170.7,47.9 170.9,47.7 171.2,47.6 171.5,47.5 171.8,47.3 172.1,47.2 172.3,47.1 172.6,46.9 172.9,46.8 173.2,46.7 173.5,46.6 173.7,46.5 174.0,46.4 174.3,46.4 174.6,46.3 174.9,46.2 175.1,46.1 175.4,46.1 175.7,46.0 176.0,46.0 176.3,45.9 176.5,45.9 176.8,45.8 177.1,45.8 177.4,45.8 177.7,45.7 177.9,45.7 178.2,45.7 178.5,45.7 178.8,45.7 179.1,45.8 179.3,45.8 179.6,45.9 179.9,45.9 180.2,46.0 180.5,46.1 180.7,46.2 181.0,46.3 181.3,46.4 181.6,46.5 181.9,46.6 182.1,46.8 182.4,47.0 182.7,47.1 183.0,47.3 183.3,47.5 183.5,47.7 183.8,48.0 184.1,48.2 184.4,48.5 184.7,48.7 184.9,49.0 185.2,49.4 185.5,49.7 185.8,50.0 186.1,50.4 186.3,50.8 186.6,51.2 186.9,51.6 187.2,52.0 187.5,52.4 187.7,52.9 188.0,53.4 188.3,53.8 188.6,54.3 188.9,54.9 189.1,55.4 189.4,55.9 189.7,56.5 190.0,57.0 190.3,57.6 190.5,58.2 190.8,58.8 191.1,59.4 191.4,60.0 191.7,60.6 191.9,61.2 192.2,61.9 192.5,62.5 192.8,63.2 193.1,63.8 193.3,64.5 193.6,65.2 193.9,65.9 194.2,66.6 194.5,67.3 194.7,68.1 195.0,68.8 195.3,69.5 195.6,70.2 195.9,70.9 196.1,71.7 196.4,72.4 196.7,73.1 197.0,73.8 197.3,74.4 197.5,75.1 197.8,75.7 198.1,76.4 198.4,77.0 198.7,77.6 198.9,78.2 199.2,78.7 199.5,79.2 199.8,79.7 200.1,80.1 200.3,80.4 200.6,80.8 200.9,81.0 201.2,81.2 201.5,81.3 201.7,81.4 202.0,81.4 202.3,81.4 202.6,81.3 202.9,81.1 203.1,81.0 203.4,80.8 203.7,80.5 204.0,80.3 204.3,80.1 204.5,79.8 204.8,79.6 205.1,79.3 205.4,79.0 205.7,78.8 205.9,78.5 206.2,78.2 206.5,77.9 206.8,77.7 207.1,77.4 207.3,77.1 207.6,76.9 207.9,76.6 208.2,76.4 208.5,76.2 208.7,75.9 209.0,75.7 209.3,75.5 209.6,75.3 209.9,75.1 210.1,75.0 210.4,74.8 210.7,74.7 211.0,74.6 211.3,74.5 211.5,74.5 211.8,74.5 212.1,74.5 212.4,74.6 212.7,74.7 212.9,74.8 213.2,75.0 213.5,75.1 213.8,75.3 214.1,75.5 214.3,75.8 214.6,76.0 214.9,76.3 215.2,76.5 215.5,76.8 215.7,77.0 216.0,77.3 216.3,77.5 216.6,77.8 216.9,78.0 217.1,78.2 217.4,78.5 217.7,78.7 218.0,79.0 218.3,79.2 218.5,79.5 218.8,79.8 219.1,80.1 219.4,80.5 219.7,80.8 219.9,81.2 220.2,81.6 220.5,82.1 220.8,82.6 221.1,83.1 221.3,83.7 221.6,84.4 221.9,85.1 222.2,85.9 222.5,86.6 222.7,87.4 223.0,88.3 223.3,89.1 223.6,89.9 223.9,90.7 224.1,91.5 224.4,92.3 224.7,93.0 225.0,93.8 225.3,94.5 225.5,95.1 225.8,95.7 226.1,96.2 226.4,96.6 226.7,96.9 226.9,97.0 227.2,96.9 227.5,96.7 227.8,96.4 228.1,95.9 228.3,95.4 228.6,94.7 228.9,94.1 229.2,93.3 229.5,92.6 229.7,91.9 230.0,91.1 230.3,90.3 230.6,89.5 230.9,88.7 231.1,87.9 231.4,87.2 231.7,86.4 232.0,85.6 232.3,84.9 232.5,84.2 232.8,83.5 233.1,82.8 233.4,82.2 233.7,81.6 233.9,81.1 234.2,80.6 234.5,80.1 234.8,79.6 235.1,79.2 235.3,78.7 235.6,78.3 235.9,78.0 236.2,77.6 236.5,77.3 236.7,76.9 237.0,76.6 237.3,76.4 237.6,76.1 237.9,75.8 238.1,75.6 238.4,75.4 238.7,75.2 239.0,74.9 239.3,74.8 239.5,74.6 239.8,74.4 240.1,74.3 240.4,74.1 240.7,74.0 240.9,73.9 241.2,73.8 241.5,73.7 241.8,73.7 242.1,73.6 242.3,73.6 242.6,73.5 242.9,73.5 243.2,73.5 243.5,73.5 243.7,73.5 244.0,73.6 244.3,73.6 244.6,73.7 244.9,73.7 245.1,73.8 245.4,73.9 245.7,74.1 246.0,74.2 246.3,74.4 246.5,74.6 246.8,74.8 247.1,75.0 247.4,75.3 247.7,75.6 247.9,75.9 248.2,76.2 248.5,76.6 248.8,77.0 249.1,77.4 249.3,77.8 249.6,78.2 249.9,78.6 250.2,79.1 250.5,79.6 250.7,80.1 251.0,80.6 251.3,81.1 251.6,81.6 251.9,82.1 252.1,82.6 252.4,83.2 252.7,83.8 253.0,84.3 253.3,84.9 253.5,85.5 253.8,86.1 254.1,86.6 254.4,87.2 254.7,87.8 254.9,88.5 255.2,89.1 255.5,89.7 255.8,90.3 256.1,91.0 256.3,91.6 256.6,92.3 256.9,92.9 257.2,93.5 257.5,94.2 257.7,94.8 258.0,95.5 258.3,96.1 258.6,96.7 258.9,97.4 259.1,98.0 259.4,98.6 259.7,99.2 260.0,99.8 260.3,100.3 260.5,100.9 260.8,101.4 261.1,101.8 261.4,102.2 261.7,102.5 261.9,102.8 262.2,102.9 262.5,103.0 262.8,103.0 263.1,102.8 263.3,102.6 263.6,102.3 263.9,102.0 264.2,101.6 264.5,101.1 264.7,100.7 265.0,100.2 265.3,99.6 265.6,99.1 265.9,98.5 266.1,98.0 266.4,97.4 266.7,96.8 267.0,96.2 267.3,95.6 267.5,95.0 267.8,94.4 268.1,93.8 268.4,93.2 268.7,92.7 268.9,92.1 269.2,91.5 269.5,91.0 269.8,90.4 270.1,89.9 270.3,89.4 270.6,89.0 270.9,88.5 271.2,88.1 271.5,87.7 271.7,87.3 272.0,86.9 272.3,86.6 272.6,86.2 272.9,85.9 273.1,85.6 273.4,85.3 273.7,85.0 274.0,84.7 274.3,84.5 274.5,84.2 274.8,84.0 275.1,83.7 275.4,83.5 275.7,83.3 275.9,83.1 276.2,83.0 276.5,82.8 276.8,82.6 277.1,82.5 277.3,82.3 277.6,82.2 277.9,82.0 278.2,81.9 278.5,81.8 278.7,81.7 279.0,81.6 279.3,81.5 279.6,81.4 279.9,81.3 280.1,81.2 280.4,81.2 280.7,81.2 281.0,81.1 281.3,81.2 281.5,81.2 281.8,81.2 282.1,81.3 282.4,81.3 282.7,81.4 282.9,81.5 283.2,81.6 283.5,81.7 283.8,81.8 284.1,81.9 284.3,82.0 284.6,82.1 284.9,82.2 285.2,82.3 285.5,82.4 285.7,82.6 286.0,82.7 286.3,82.8 286.6,82.9 286.9,83.1 287.1,83.2 287.4,83.3 287.7,83.5 288.0,83.6 288.3,83.8 288.5,83.9 288.8,84.0 289.1,84.2 289.4,84.3 289.7,84.4 289.9,84.6 290.2,84.7 290.5,84.9 290.8,85.0 291.1,85.1 291.3,85.3 291.6,85.4 291.9,85.5 292.2,85.7 292.5,85.8 292.7,85.9 293.0,86.0 293.3,86.1 293.6,86.3 293.9,86.4 294.1,86.5 294.4,86.6 294.7,86.7 295.0,86.8 295.3,86.9 295.5,86.9 295.8,87.0 296.1,87.1 296.4,87.1 296.7,87.2 296.9,87.2 297.2,87.3 297.5,87.3 297.8,87.3 298.1,87.3 298.3,87.3 298.6,87.3 298.9,87.3 299.2,87.2 299.5,87.2 299.7,87.2 300.0,87.2 300.3,87.1 300.6,87.1 300.9,87.1 301.1,87.1 301.4,87.0 301.7,87.0 302.0,87.0 302.3,87.0 302.5,87.0 302.8,87.0 303.1,87.0 303.4,87.0 303.7,87.0 303.9,87.0 304.2,87.1 304.5,87.1 304.8,87.1 305.1,87.2 305.3,87.2 305.6,87.2 305.9,87.3 306.2,87.3 306.5,87.4 306.7,87.5 307.0,87.5 307.3,87.6 307.6,87.7 307.9,87.7 308.1,87.8 308.4,87.9 308.7,88.0 309.0,88.1 309.3,88.2 309.5,88.3 309.8,88.4 310.1,88.5 310.4,88.6 310.7,88.7 310.9,88.8 311.2,89.0 311.5,89.1 311.8,89.3 312.1,89.4 312.3,89.6 312.6,89.8 312.9,90.0 313.2,90.2 313.5,90.4 313.7,90.6 314.0,90.8 314.3,91.0 314.6,91.3 314.9,91.5 315.1,91.8 315.4,92.1 315.7,92.3 316.0,92.6 316.3,92.9 316.5,93.2 316.8,93.5 317.1,93.9 317.4,94.2 317.7,94.6 317.9,94.9 318.2,95.3 318.5,95.7 318.8,96.1 319.1,96.5 319.3,96.9 319.6,97.3 319.9,97.7 320.2,98.1 320.5,98.5 320.7,98.9 321.0,99.4 321.3,99.8 321.6,100.2 321.9,100.6 322.1,101.0 322.4,101.4 322.7,101.8 323.0,102.1 323.3,102.5 323.5,102.9 323.8,103.2 324.1,103.6 324.4,103.9 324.7,104.2 324.9,104.6 325.2,104.9 325.5,105.2 325.8,105.5 326.1,105.8 326.3,106.1 326.6,106.4 326.9,106.6 327.2,106.9 327.5,107.2 327.7,107.4 328.0,107.6 328.3,107.9 328.6,108.1 328.9,108.3 329.1,108.5 329.4,108.7 329.7,108.9 330.0,109.0 330.3,109.2 330.5,109.3 330.8,109.4 331.1,109.4 331.4,109.4 331.7,109.4 331.9,109.3 332.2,109.1 332.5,109.0 332.8,108.8 333.1,108.6 333.3,108.4 333.6,108.2 333.9,107.9 334.2,107.7 334.5,107.4 334.7,107.2 335.0,106.9 335.3,106.6 335.6,106.3 335.9,106.1 336.1,105.8 336.4,105.5 336.7,105.3 337.0,105.0 337.3,104.8 337.5,104.5 337.8,104.3 338.1,104.1 338.4,103.9 338.7,103.7 338.9,103.5 339.2,103.3 339.5,103.1 339.8,102.9 340.1,102.7 340.3,102.6 340.6,102.4 340.9,102.3 341.2,102.1 341.5,102.0 341.7,101.9 342.0,101.7 342.3,101.6 342.6,101.5 342.9,101.5 343.1,101.4 343.4,101.4 343.7,101.3 344.0,101.3 344.3,101.3 344.5,101.4 344.8,101.4 345.1,101.5 345.4,101.6 345.7,101.7 345.9,101.8 346.2,101.9 346.5,102.1 346.8,102.3 347.1,102.5 347.3,102.8 347.6,103.0 347.9,103.3 348.2,103.6 348.5,103.9 348.7,104.2 349.0,104.5 349.3,104.8 349.6,105.1 349.9,105.5 350.1,105.8 350.4,106.2 350.7,106.5 351.0,106.9 351.3,107.2 351.5,107.6 351.8,108.0 352.1,108.4 352.4,108.8 352.7,109.2 352.9,109.6 353.2,110.0 353.5,110.4 353.8,110.8 354.1,111.2 354.3,111.6 354.6,112.0 354.9,112.4 355.2,112.8 355.5,113.3 355.7,113.7 356.0,114.1 356.3,114.5 356.6,114.9 356.9,115.3 357.1,115.7 357.4,116.1 357.7,116.5 358.0,116.9 358.3,117.2 358.5,117.6 358.8,118.0 359.1,118.3 359.4,118.6 359.7,118.9 359.9,119.2 360.2,119.5 360.5,119.7 360.8,119.9 361.1,120.1 361.3,120.3 361.6,120.4 361.9,120.6 362.2,120.6 362.5,120.7 362.7,120.7 363.0,120.7 363.3,120.7 363.6,120.6 363.9,120.6 364.1,120.4 364.4,120.3 364.7,120.1 365.0,120.0 365.3,119.8 365.5,119.6 365.8,119.4 366.1,119.2 366.4,118.9 366.7,118.7 366.9,118.5 367.2,118.2 367.5,118.0 367.8,117.7 368.1,117.5 368.3,117.2 368.6,117.0 368.9,116.7 369.2,116.5 369.5,116.3 369.7,116.1 370.0,115.8 370.3,115.6 370.6,115.4 370.9,115.2 371.1,115.0 371.4,114.8 371.7,114.6 372.0,114.4 372.3,114.2 372.5,114.0 372.8,113.9 373.1,113.7 373.4,113.5 373.7,113.4 373.9,113.2 374.2,113.1 374.5,113.0 374.8,112.9 375.1,112.7 375.3,112.6 375.6,112.5 375.9,112.5 376.2,112.4 376.5,112.3 376.7,112.3 377.0,112.3 377.3,112.3 377.6,112.3 377.9,112.4 378.1,112.5 378.4,112.6 378.7,112.7 379.0,112.9 379.3,113.1 379.5,113.3 379.8,113.5 380.1,113.8 380.4,114.1 380.7,114.4 380.9,114.7 381.2,115.1 381.5,115.5 381.8,115.9 382.1,116.3 382.3,116.7 382.6,117.2 382.9,117.6 383.2,118.0 383.5,118.5 383.7,119.0 384.0,119.5 384.3,119.9 384.6,120.4 384.9,120.9 385.1,121.4 385.4,121.9 385.7,122.4 386.0,122.9 386.3,123.4 386.5,123.9 386.8,124.4 387.1,125.0 387.4,125.5 387.7,126.0 387.9,126.5 388.2,127.0 388.5,127.5 388.8,128.0 389.1,128.5 389.3,129.0 389.6,129.4 389.9,129.9 390.2,130.4 390.5,130.8 390.7,131.2 391.0,131.6 391.3,132.0 391.6,132.4 391.9,132.7 392.1,132.9 392.4,133.1 392.7,133.2 393.0,133.2 393.3,133.2 393.5,133.0 393.8,132.7 394.1,132.4 394.4,131.9 394.7,131.4 394.9,130.8 395.2,130.2 395.5,129.5 395.8,128.8 396.1,128.1 396.3,127.4 396.6,126.6 396.9,125.9 397.2,125.2 397.5,124.5 397.7,123.8 398.0,123.1 398.3,122.5 398.6,121.8 398.9,121.2 399.1,120.6 399.4,120.0 399.7,119.4 400.0,118.8 400.3,118.2 400.5,117.7 400.8,117.1 401.1,116.6 401.4,116.1 401.7,115.6 401.9,115.1 402.2,114.6 402.5,114.1 402.8,113.7 403.1,113.3 403.3,112.9 403.6,112.5 403.9,112.1 404.2,111.8 404.5,111.5 404.7,111.2 405.0,110.9 405.3,110.6 405.6,110.3 405.9,110.1 406.1,109.9 406.4,109.6 406.7,109.4 407.0,109.2 407.3,109.1 407.5,108.9 407.8,108.7 408.1,108.6 408.4,108.4 408.7,108.3 408.9,108.1 409.2,108.0 409.5,107.9 409.8,107.8 410.1,107.7 410.3,107.7 410.6,107.6 410.9,107.6 411.2,107.5 411.5,107.5 411.7,107.5 412.0,107.5 412.3,107.5 412.6,107.5 412.9,107.6 413.1,107.6 413.4,107.7 413.7,107.7 414.0,107.8 414.3,107.9 414.5,108.0 414.8,108.1 415.1,108.3 415.4,108.4 415.7,108.6 415.9,108.8 416.2,109.0 416.5,109.3 416.8,109.5 417.1,109.8 417.3,110.0 417.6,110.3 417.9,110.6 418.2,110.9 418.5,111.2 418.7,111.5 419.0,111.8 419.3,112.2 419.6,112.5 419.9,112.9 420.1,113.2 420.4,113.6 420.7,113.9 421.0,114.3 421.3,114.7 421.5,115.1 421.8,115.4 422.1,115.8 422.4,116.2 422.7,116.6 422.9,117.0 423.2,117.4 423.5,117.9 423.8,118.3 424.1,118.7 424.3,119.1 424.6,119.5 424.9,119.9 425.2,120.3 425.5,120.7 425.7,121.1 426.0,121.5 426.3,121.9 426.6,122.3 426.9,122.6 427.1,123.0 427.4,123.4 427.7,123.7 428.0,124.0 428.3,124.3 428.5,124.6 428.8,124.9 429.1,125.1 429.4,125.4 429.7,125.6 429.9,125.8 430.2,125.9 430.5,126.1 430.8,126.2 431.1,126.3 431.3,126.3 431.6,126.3 431.9,126.3 432.2,126.2 432.5,126.1 432.7,126.0 433.0,125.9 433.3,125.8 433.6,125.7 433.9,125.5 434.1,125.3 434.4,125.2 434.7,125.0 435.0,124.8 435.3,124.6 435.5,124.4 435.8,124.2 436.1,124.0 436.4,123.8 436.7,123.6 436.9,123.4 437.2,123.2 437.5,123.0 437.8,122.8 438.1,122.6 438.3,122.4 438.6,122.2 438.9,122.0 439.2,121.8 439.5,121.6 439.7,121.4 440.0,121.2 440.3,121.0 440.6,120.8 440.9,120.6 441.1,120.4 441.4,120.3 441.7,120.1 442.0,119.9 442.3,119.8 442.5,119.6 442.8,119.5 443.1,119.3 443.4,119.2 443.7,119.1 443.9,119.0 444.2,118.9 444.5,118.8 444.8,118.8 445.1,118.7 445.3,118.7 445.6,118.7 445.9,118.6 446.2,118.7 446.5,118.7 446.7,118.7 447.0,118.8 447.3,118.8 447.6,118.9 447.9,119.0 448.1,119.1 448.4,119.2 448.7,119.3 449.0,119.4 449.3,119.5 449.5,119.7 449.8,119.8 450.1,120.0 450.4,120.1 450.7,120.3 450.9,120.5 451.2,120.7 451.5,120.8 451.8,121.0 452.1,121.2 452.3,121.4 452.6,121.7 452.9,121.9 453.2,122.1 453.5,122.3 453.7,122.5 454.0,122.8 454.3,123.0 454.6,123.3 454.9,123.5 455.1,123.7 455.4,124.0 455.7,124.2 456.0,124.5 456.3,124.7 456.5,125.0 456.8,125.2 457.1,125.5 457.4,125.7 457.7,126.0 457.9,126.2 458.2,126.4 458.5,126.6 458.8,126.8 459.1,127.0 459.3,127.2 459.6,127.4 459.9,127.6 460.2,127.8 460.5,128.0 460.7,128.2 461.0,128.3 461.3,128.5 461.6,128.6 461.9,128.7 462.1,128.8 462.4,128.8 462.7,128.9 463.0,128.9 463.3,128.9 463.5,128.9 463.8,128.8 464.1,128.7 464.4,128.6 464.7,128.5 464.9,128.4 465.2,128.2 465.5,128.1 465.8,127.9 466.1,127.7 466.3,127.6 466.6,127.4 466.9,127.2 467.2,127.0 467.5,126.8 467.7,126.6 468.0,126.4 468.3,126.2 468.6,126.0 468.9,125.8 469.1,125.7 469.4,125.5 469.7,125.3 470.0,125.1 470.3,124.9 470.5,124.7 470.8,124.5 471.1,124.3 471.4,124.1 471.7,123.9 471.9,123.7 472.2,123.6 472.5,123.4 472.8,123.2 473.1,123.0 473.3,122.8 473.6,122.7 473.9,122.5 474.2,122.3 474.5,122.2 474.7,122.0 475.0,121.9 475.3,121.7 475.6,121.6 475.9,121.5 476.1,121.3 476.4,121.2 476.7,121.1 477.0,121.1 477.3,121.0 477.5,120.9 477.8,120.9 478.1,120.8 478.4,120.8 478.7,120.8 478.9,120.7 479.2,120.7 479.5,120.7 479.8,120.7 480.1,120.7 480.3,120.8 480.6,120.8 480.9,120.8 481.2,120.9 481.5,120.9 481.7,121.0 482.0,121.1 482.3,121.2 482.6,121.3 482.9,121.4 483.1,121.6 483.4,121.7 483.7,121.9 484.0,122.1 484.3,122.2 484.5,122.4 484.8,122.7 485.1,122.9 485.4,123.1 485.7,123.4 485.9,123.6 486.2,123.9 486.5,124.2 486.8,124.4 487.1,124.7 487.3,125.0 487.6,125.4 487.9,125.7 488.2,126.0 488.5,126.4 488.7,126.7 489.0,127.1 489.3,127.4 489.6,127.8 489.9,128.2 490.1,128.6 490.4,129.0 490.7,129.4 491.0,129.8 491.3,130.3 491.5,130.7 491.8,131.2 492.1,131.6 492.4,132.1 492.7,132.5 492.9,133.0 493.2,133.5 493.5,133.9 493.8,134.4 494.1,134.9 494.3,135.3 494.6,135.8 494.9,136.3 495.2,136.7 495.5,137.2 495.7,137.6 496.0,138.0 496.3,138.5 496.6,138.9 496.9,139.3 497.1,139.7 497.4,140.0 497.7,140.4 498.0,140.8 498.3,141.1 498.5,141.4 498.8,141.8 499.1,142.0 499.4,142.3 499.7,142.6 499.9,142.8 500.2,143.0 500.5,143.2 500.8,143.4 501.1,143.6 501.3,143.7 501.6,143.8 501.9,143.9 502.2,143.9 502.5,143.9 502.7,143.9 503.0,143.9 503.3,143.8 503.6,143.8 503.9,143.7 504.1,143.6 504.4,143.4 504.7,143.3 505.0,143.2 505.3,143.0 505.5,142.8 505.8,142.6 506.1,142.4 506.4,142.2 506.7,142.0 506.9,141.8 507.2,141.6 507.5,141.3 507.8,141.1 508.1,140.9 508.3,140.6 508.6,140.4 508.9,140.2 509.2,140.0 509.5,139.8 509.7,139.6 510.0,139.4 510.3,139.2 510.6,139.1 510.9,138.9 511.1,138.8 511.4,138.6 511.7,138.5 512.0,138.4 512.3,138.3 512.5,138.2 512.8,138.1 513.1,138.1 513.4,138.0 513.7,138.0 513.9,137.9 514.2,137.9 514.5,137.9 514.8,137.9 515.1,138.0 515.3,138.0 515.6,138.1 515.9,138.2 516.2,138.3 516.5,138.4 516.7,138.5 517.0,138.6 517.3,138.8 517.6,139.0 517.9,139.2 518.1,139.4 518.4,139.6 518.7,139.8 519.0,140.0 519.3,140.3 519.5,140.5 519.8,140.8 520.1,141.1 520.4,141.4 520.7,141.7 520.9,142.0 521.2,142.4 521.5,142.7 521.8,143.1 522.1,143.4 522.3,143.8 522.6,144.2 522.9,144.5 523.2,144.9 523.5,145.3 523.7,145.7 524.0,146.0 524.3,146.4 524.6,146.7 524.9,147.1 525.1,147.4 525.4,147.7 525.7,148.0 526.0,148.3 526.3,148.6 526.5,148.8 526.8,149.1 527.1,149.3 527.4,149.5 527.7,149.6 527.9,149.7 528.2,149.7 528.5,149.7 528.8,149.6 529.1,149.5 529.3,149.3 529.6,149.0 529.9,148.8 530.2,148.5 530.5,148.2 530.7,147.9 531.0,147.6 531.3,147.2 531.6,146.9 531.9,146.5 532.1,146.1 532.4,145.8 532.7,145.4 533.0,145.0 533.3,144.7 533.5,144.3 533.8,143.9 534.1,143.6 534.4,143.2 534.7,142.9 534.9,142.5 535.2,142.2 535.5,141.8 535.8,141.5 536.1,141.2 536.3,140.9 536.6,140.6 536.9,140.3 537.2,140.0 537.5,139.7 537.7,139.5 538.0,139.2 538.3,139.0 538.6,138.7 538.9,138.5 539.1,138.3 539.4,138.1 539.7,137.9 540.0,137.7 540.3,137.5 540.5,137.3 540.8,137.1 541.1,136.9 541.4,136.8 541.7,136.6 541.9,136.4 542.2,136.3 542.5,136.1 542.8,136.0 543.1,135.8 543.3,135.7 543.6,135.6 543.9,135.5 544.2,135.4 544.5,135.3 544.7,135.3 545.0,135.2 545.3,135.1 545.6,135.1 545.9,135.1 546.1,135.0 546.4,135.0 546.7,135.0 547.0,135.0 547.3,135.0 547.5,135.0 547.8,135.0 548.1,135.0 548.4,135.1 548.7,135.1 548.9,135.2 549.2,135.2 549.5,135.3 549.8,135.4 550.1,135.6 550.3,135.7 550.6,135.9 550.9,136.1 551.2,136.3 551.5,136.6 551.7,136.9 552.0,137.2 552.3,137.6 552.6,137.9 552.9,138.3 553.1,138.7 553.4,139.2 553.7,139.6 554.0,140.0 554.3,140.4 554.5,140.9 554.8,141.3 555.1,141.8 555.4,142.2 555.7,142.7 555.9,143.2 556.2,143.6 556.5,144.1 556.8,144.6 557.1,145.1 557.3,145.5 557.6,146.0 557.9,146.5 558.2,147.0 558.5,147.4 558.7,147.9 559.0,148.4 559.3,148.8 559.6,149.3 559.9,149.8 560.1,150.2 560.4,150.7 560.7,151.1 561.0,151.6 561.3,152.0 561.5,152.5 561.8,152.9 562.1,153.4 562.4,153.8 562.7,154.2 562.9,154.6 563.2,155.1 563.5,155.5 563.8,155.9 564.1,156.3 564.3,156.7 564.6,157.0 564.9,157.4 565.2,157.6 565.5,157.8 565.7,158.0 566.0,158.0 566.3,158.1 566.6,158.0 566.9,157.8 567.1,157.6 567.4,157.3 567.7,157.0 568.0,156.6 568.3,156.2 568.5,155.8 568.8,155.4 569.1,154.9 569.4,154.4 569.7,153.9 569.9,153.4 570.2,152.9 570.5,152.4 570.8,151.9 571.1,151.4 571.3,150.8 571.6,150.3 571.9,149.8 572.2,149.3 572.5,148.8 572.7,148.3 573.0,147.8 573.3,147.3 573.6,146.8 573.9,146.3 574.1,145.9 574.4,145.5 574.7,145.1 575.0,144.7 575.3,144.3 575.5,144.0 575.8,143.7 576.1,143.4 576.4,143.1 576.7,142.8 576.9,142.6 577.2,142.3 577.5,142.1 577.8,141.9 578.1,141.7 578.3,141.5 578.6,141.3 578.9,141.2 579.2,141.0 579.5,140.9 579.7,140.8 580.0,140.6 580.3,140.5 580.6,140.4 580.9,140.3 581.1,140.2 581.4,140.2 581.7,140.1 582.0,140.0 582.3,140.0 582.5,139.9 582.8,139.9 583.1,139.9 583.4,139.9 583.7,139.9 583.9,139.9 584.2,139.9 584.5,140.0 584.8,140.0 585.1,140.1 585.3,140.1 585.6,140.2 585.9,140.3 586.2,140.4 586.5,140.5 586.7,140.6 587.0,140.7 587.3,140.8 587.6,141.0 587.9,141.1 588.1,141.3 588.4,141.5 588.7,141.7 589.0,141.9 589.3,142.1 589.5,142.3 589.8,142.6 590.1,142.8 590.4,143.1 590.7,143.4 590.9,143.7 591.2,144.0 591.5,144.3 591.8,144.6 592.1,144.9 592.3,145.3 592.6,145.6 592.9,145.9 593.2,146.3 593.5,146.6 593.7,146.9 594.0,147.2 594.3,147.5 594.6,147.8 594.9,148.1 595.1,148.4 595.4,148.7 595.7,148.9 596.0,149.2 596.3,149.5 596.5,149.7 596.8,149.9 597.1,150.2 597.4,150.4 597.7,150.6 597.9,150.8 598.2,151.0 598.5,151.2 598.8,151.3 599.1,151.5 599.3,151.6 599.6,151.7 599.9,151.8 600.2,151.9 600.5,151.9 600.7,152.0 601.0,152.0 601.3,152.0 601.6,151.9 601.9,151.9 602.1,151.8 602.4,151.7 602.7,151.6 603.0,151.5 603.3,151.4 603.5,151.2 603.8,151.1 604.1,150.9 604.4,150.7 604.7,150.5 604.9,150.3 605.2,150.1 605.5,149.9 605.8,149.6 606.1,149.4 606.3,149.2 606.6,149.0 606.9,148.7 607.2,148.5 607.5,148.3 607.7,148.1 608.0,147.9 608.3,147.6 608.6,147.4 608.9,147.2 609.1,147.0 609.4,146.8 609.7,146.6 610.0,146.5 610.3,146.3 610.5,146.1 610.8,145.9 611.1,145.7 611.4,145.6 611.7,145.4 611.9,145.3 612.2,145.1 612.5,145.0 612.8,144.8 613.1,144.7 613.3,144.6 613.6,144.5 613.9,144.3 614.2,144.3 614.5,144.2 614.7,144.1 615.0,144.1 615.3,144.1 615.6,144.0 615.9,144.0 616.1,144.1 616.4,144.1 616.7,144.1 617.0,144.2 617.3,144.3 617.5,144.3 617.8,144.4 618.1,144.5 618.4,144.6 618.7,144.8 618.9,144.9 619.2,145.1 619.5,145.2 619.8,145.4 620.1,145.6 620.3,145.8 620.6,146.0 620.9,146.2 621.2,146.5 621.5,146.7 621.7,147.0 622.0,147.3 622.3,147.6 622.6,147.8 622.9,148.2 623.1,148.5 623.4,148.8 623.7,149.1 624.0,149.4 624.3,149.8 624.5,150.1 624.8,150.5 625.1,150.8 625.4,151.2 625.7,151.6 625.9,151.9 626.2,152.3 626.5,152.7 626.8,153.1 627.1,153.5 627.3,153.9 627.6,154.3 627.9,154.7 628.2,155.1 628.5,155.6 628.7,156.0 629.0,156.4 629.3,156.9 629.6,157.3 629.9,157.7 630.1,158.2 630.4,158.6 630.7,159.0 631.0,159.4 631.3,159.8 631.5,160.3 631.8,160.7 632.1,161.0 632.4,161.4 632.7,161.8 632.9,162.1 633.2,162.5 633.5,162.8 633.8,163.1 634.1,163.4 634.3,163.6 634.6,163.9 634.9,164.1 635.2,164.4 635.5,164.6 635.7,164.8 636.0,165.0 636.3,165.2 636.6,165.4 636.9,165.5 637.1,165.6 637.4,165.7 637.7,165.7 638.0,165.7 638.3,165.6 638.5,165.5 638.8,165.3 639.1,165.1 639.4,164.8 639.7,164.5 639.9,164.2 640.2,163.9 640.5,163.6 640.8,163.2 641.1,162.9 641.3,162.5 641.6,162.1 641.9,161.7 642.2,161.3 642.5,161.0 642.7,160.6 643.0,160.2 643.3,159.8 643.6,159.4 643.9,159.0 644.1,158.6 644.4,158.2 644.7,157.8 645.0,157.4 645.3,157.0 645.5,156.6 645.8,156.3 646.1,155.9 646.4,155.5 646.7,155.2 646.9,154.9 647.2,154.5 647.5,154.2 647.8,153.9 648.1,153.7 648.3,153.4 648.6,153.1 648.9,152.9 649.2,152.7 649.5,152.5 649.7,152.3 650.0,152.2 650.3,152.0 650.6,151.9 650.9,151.7 651.1,151.6 651.4,151.5 651.7,151.4 652.0,151.3 652.3,151.2 652.5,151.2 652.8,151.1 653.1,151.1 653.4,151.1 653.7,151.1 653.9,151.1 654.2,151.1 654.5,151.2 654.8,151.2 655.1,151.3 655.3,151.4 655.6,151.5 655.9,151.7 656.2,151.9 656.5,152.0 656.7,152.2 657.0,152.4 657.3,152.6 657.6,152.8 657.9,153.1 658.1,153.3 658.4,153.6 658.7,153.8 659.0,154.1 659.3,154.4 659.5,154.6 659.8,154.9 660.1,155.2 660.4,155.5 660.7,155.9 660.9,156.2 661.2,156.5 661.5,156.8 661.8,157.2 662.1,157.5 662.3,157.9 662.6,158.2 662.9,158.6 663.2,159.0 663.5,159.3 663.7,159.7 664.0,160.0 664.3,160.4 664.6,160.7 664.9,161.1 665.1,161.5 665.4,161.8 665.7,162.1 666.0,162.5 666.3,162.8 666.5,163.1 666.8,163.4 667.1,163.8 667.4,164.1 667.7,164.4 667.9,164.6 668.2,164.9 668.5,165.2 668.8,165.4 669.1,165.7 669.3,165.9 669.6,166.1 669.9,166.4 670.2,166.5 670.5,166.7 670.7,166.8 671.0,166.9 671.3,167.0 671.6,167.1 671.9,167.1 672.1,167.0 672.4,167.0 672.7,166.9 673.0,166.7 673.3,166.6 673.5,166.4 673.8,166.3 674.1,166.1 674.4,165.9 674.7,165.7 674.9,165.5 675.2,165.2 675.5,165.0 675.8,164.8 676.1,164.5 676.3,164.3 676.6,164.0 676.9,163.8 677.2,163.5 677.5,163.2 677.7,163.0 678.0,162.7 678.3,162.5 678.6,162.2 678.9,162.0 679.1,161.7 679.4,161.5 679.7,161.3 680.0,161.1 680.3,160.9 680.5,160.7 680.8,160.5 681.1,160.4 681.4,160.2 681.7,160.1 681.9,159.9 682.2,159.8 682.5,159.7 682.8,159.6 683.1,159.5 683.3,159.4 683.6,159.4 683.9,159.3 684.2,159.3 684.5,159.3 684.7,159.3 685.0,159.2 685.3,159.3 685.6,159.3 685.9,159.3 686.1,159.4 686.4,159.4 686.7,159.5 687.0,159.6 687.3,159.7 687.5,159.8 687.8,160.0 688.1,160.1 688.4,160.3 688.7,160.4 688.9,160.6 689.2,160.8 689.5,161.0 689.8,161.3 690.1,161.5 690.3,161.8 690.6,162.0 690.9,162.3 691.2,162.5 691.5,162.8 691.7,163.1 692.0,163.4 692.3,163.7 692.6,164.0 692.9,164.3 693.1,164.6 693.4,164.9 693.7,165.2 694.0,165.5 694.3,165.9 694.5,166.2 694.8,166.5 695.1,166.9 695.4,167.2 695.7,167.6 695.9,167.9 696.2,168.3 696.5,168.6 696.8,168.9 697.1,169.2 697.3,169.5 697.6,169.8 697.9,170.1 698.2,170.3 698.5,170.6 698.7,170.8 699.0,171.0 699.3,171.2 699.6,171.4 699.9,171.6 700.1,171.8 700.4,171.9 700.7,172.1 701.0,172.2 701.3,172.3 701.5,172.4 701.8,172.5 702.1,172.6 702.4,172.7 702.7,172.8 702.9,172.8 703.2,172.9 703.5,172.9 703.8,173.0 704.1,173.0 704.3,173.0 704.6,173.0 704.9,173.0" stroke="#fc0208" stroke-width="2.2"/>
</g>
<rect x="49.50" y="5.60" width="654.80" height="162.70" fill="none" stroke="#2a2a2a" stroke-width="1"/>
<text x="25.90" y="10.80" textLength="15.2" lengthAdjust="spacingAndGlyphs" font-size="10.9" fill="#1c1c1c" stroke="#1c1c1c" stroke-width="0.25" font-family='"Liberation Sans", sans-serif'>10<tspan dy="-3.6" font-size="7.6">0</tspan></text>
<text x="18.50" y="38.85" textLength="22.6" lengthAdjust="spacingAndGlyphs" font-size="10.9" fill="#1c1c1c" stroke="#1c1c1c" stroke-width="0.25" font-family='"Liberation Sans", sans-serif'>10<tspan dy="-3.6" font-size="7.6">−1</tspan></text>
<text x="18.50" y="66.90" textLength="22.6" lengthAdjust="spacingAndGlyphs" font-size="10.9" fill="#1c1c1c" stroke="#1c1c1c" stroke-width="0.25" font-family='"Liberation Sans", sans-serif'>10<tspan dy="-3.6" font-size="7.6">−2</tspan></text>
<text x="18.50" y="94.95" textLength="22.6" lengthAdjust="spacingAndGlyphs" font-size="10.9" fill="#1c1c1c" stroke="#1c1c1c" stroke-width="0.25" font-family='"Liberation Sans", sans-serif'>10<tspan dy="-3.6" font-size="7.6">−3</tspan></text>
<text x="18.50" y="123.00" textLength="22.6" lengthAdjust="spacingAndGlyphs" font-size="10.9" fill="#1c1c1c" stroke="#1c1c1c" stroke-width="0.25" font-family='"Liberation Sans", sans-serif'>10<tspan dy="-3.6" font-size="7.6">−4</tspan></text>
<text x="18.50" y="151.05" textLength="22.6" lengthAdjust="spacingAndGlyphs" font-size="10.9" fill="#1c1c1c" stroke="#1c1c1c" stroke-width="0.25" font-family='"Liberation Sans", sans-serif'>10<tspan dy="-3.6" font-size="7.6">−5</tspan></text>
<path d="M49.50 6.00h-3.6 M49.50 25.61h-2 M49.50 20.67h-2 M49.50 17.16h-2 M49.50 14.44h-2 M49.50 12.22h-2 M49.50 10.34h-2 M49.50 8.72h-2 M49.50 7.28h-2 M49.50 34.05h-3.6 M49.50 53.66h-2 M49.50 48.72h-2 M49.50 45.21h-2 M49.50 42.49h-2 M49.50 40.27h-2 M49.50 38.39h-2 M49.50 36.77h-2 M49.50 35.33h-2 M49.50 62.10h-3.6 M49.50 81.71h-2 M49.50 76.77h-2 M49.50 73.26h-2 M49.50 70.54h-2 M49.50 68.32h-2 M49.50 66.44h-2 M49.50 64.82h-2 M49.50 63.38h-2 M49.50 90.15h-3.6 M49.50 109.76h-2 M49.50 104.82h-2 M49.50 101.31h-2 M49.50 98.59h-2 M49.50 96.37h-2 M49.50 94.49h-2 M49.50 92.87h-2 M49.50 91.43h-2 M49.50 118.20h-3.6 M49.50 137.81h-2 M49.50 132.87h-2 M49.50 129.36h-2 M49.50 126.64h-2 M49.50 124.42h-2 M49.50 122.54h-2 M49.50 120.92h-2 M49.50 119.48h-2 M49.50 146.25h-3.6 M49.50 165.86h-2 M49.50 160.92h-2 M49.50 157.41h-2 M49.50 154.69h-2 M49.50 152.47h-2 M49.50 150.59h-2 M49.50 148.97h-2 M49.50 147.53h-2 M169.00 168.30v1.3 M294.80 168.30v1.3 M420.60 168.30v1.3 M546.40 168.30v1.3 M672.20 168.30v1.3" stroke="#2a2a2a" stroke-width="1" fill="none"/>
<text transform="translate(10.60 87.60) rotate(-90)" text-anchor="middle" font-size="11" fill="#1c1c1c" font-family='"Liberation Sans", sans-serif' textLength="77" lengthAdjust="spacingAndGlyphs">Intensity [a.u.]</text>
<g clip-path="url(#cpb)" fill="none" stroke-linejoin="round" stroke-linecap="round">
<polyline points="50.4,196.4 50.7,195.7 51.0,195.1 51.2,194.6 51.5,194.2 51.8,193.6 52.1,193.2 52.4,192.7 52.6,192.3 52.9,192.1 53.2,191.7 53.5,191.4 53.8,191.1 54.0,190.7 54.3,190.4 54.6,190.0 54.9,189.8 55.2,189.5 55.4,189.2 55.7,188.8 56.0,188.5 56.3,188.3 56.6,188.1 56.8,188.0 57.1,187.7 57.4,187.5 57.7,187.4 58.0,187.1 58.2,187.0 58.5,186.8 58.8,186.4 59.1,186.3 59.4,186.1 59.6,185.8 59.9,185.6 60.2,185.4 60.5,185.4 60.8,185.2 61.0,185.0 61.3,184.8 61.6,184.7 61.9,184.5 62.2,184.3 62.4,184.1 62.7,184.1 63.0,184.0 63.3,183.7 63.6,183.7 63.8,183.6 64.1,183.5 64.4,183.2 64.7,183.2 65.0,183.2 65.2,182.9 65.5,182.9 65.8,182.4 66.1,182.6 66.4,182.4 66.6,182.1 66.9,182.2 67.2,182.1 67.5,182.1 67.8,182.0 68.0,181.8 68.3,181.6 68.6,181.6 68.9,181.5 69.2,181.4 69.4,181.3 69.7,181.2 70.0,181.2 70.3,181.1 70.6,181.2 70.8,181.1 71.1,180.8 71.4,180.7 71.7,180.6 72.0,180.5 72.2,180.5 72.5,180.4 72.8,180.3 73.1,180.3 73.4,180.3 73.6,180.2 73.9,180.1 74.2,180.2 74.5,180.1 74.8,180.0 75.0,180.0 75.3,179.8 75.6,179.9 75.9,179.8 76.2,179.8 76.4,179.8 76.7,179.6 77.0,179.9 77.3,179.5 77.6,179.6 77.8,179.5 78.1,179.4 78.4,179.4 78.7,179.4 79.0,179.4 79.2,179.3 79.5,179.3 79.8,179.2 80.1,179.2 80.4,179.2 80.6,179.0 80.9,179.1 81.2,178.9 81.5,178.8 81.8,178.8 82.0,178.8 82.3,178.9 82.6,178.7 82.9,178.8 83.2,178.7 83.4,178.7 83.7,178.6 84.0,178.5 84.3,178.4 84.6,178.4 84.8,178.4 85.1,178.3 85.4,178.3 85.7,178.1 86.0,178.2 86.2,178.2 86.5,178.0 86.8,178.1 87.1,178.2 87.4,178.0 87.6,178.0 87.9,178.0 88.2,177.8 88.5,177.9 88.8,177.9 89.0,177.9 89.3,177.9 89.6,177.6 89.9,177.8 90.2,177.8 90.4,177.8 90.7,177.8 91.0,177.6 91.3,177.6 91.6,177.5 91.8,177.7 92.1,177.5 92.4,177.7 92.7,177.6 93.0,177.6 93.2,177.4 93.5,177.4 93.8,177.5 94.1,177.4 94.4,177.4 94.6,177.4 94.9,177.5 95.2,177.5 95.5,177.5 95.8,177.4 96.0,177.4 96.3,177.4 96.6,177.5 96.9,177.4 97.2,177.5 97.4,177.3 97.7,177.5 98.0,177.5 98.3,177.6 98.6,177.5 98.8,177.6 99.1,177.6 99.4,177.5 99.7,177.6 100.0,177.6 100.2,177.6 100.5,177.4 100.8,177.5 101.1,177.5 101.4,177.4 101.6,177.4 101.9,177.3 102.2,177.6 102.5,177.5 102.8,177.6 103.0,177.4 103.3,177.4 103.6,177.5 103.9,177.4 104.2,177.6 104.4,177.6 104.7,177.6 105.0,177.7 105.3,177.7 105.6,177.9 105.8,177.9 106.1,177.8 106.4,178.0 106.7,177.9 107.0,178.1 107.2,178.1 107.5,178.3 107.8,178.6 108.1,178.7 108.4,179.0 108.6,179.4 108.9,179.8 109.2,180.3 109.5,180.6 109.8,181.0 110.0,181.6 110.3,182.0 110.6,182.7 110.9,183.4 111.2,184.0 111.4,184.7 111.7,185.5 112.0,186.3 112.3,187.1 112.6,188.1 112.8,189.2 113.1,190.1 113.4,191.0 113.7,192.1 114.0,193.4 114.2,194.4 114.5,195.8 114.8,197.1 115.1,198.6 115.4,200.1 115.6,201.8 115.9,203.3 116.2,205.3 116.5,207.3 116.8,209.0 117.0,210.1 117.3,211.0 117.6,210.9 117.9,210.4 118.2,209.5 118.4,208.4 118.7,207.2 119.0,206.1 119.3,204.7 119.6,203.4 119.8,202.2 120.1,201.0 120.4,200.1 120.7,199.2 121.0,198.2 121.2,197.7 121.5,197.0 121.8,196.6 122.1,196.0 122.4,195.6 122.6,195.2 122.9,194.7 123.2,194.2 123.5,193.9 123.8,193.5 124.0,193.1 124.3,192.8 124.6,192.6 124.9,192.4 125.2,192.0 125.4,192.0 125.7,191.9 126.0,191.7 126.3,191.5 126.6,191.6 126.8,191.4 127.1,191.5 127.4,191.6 127.7,191.4 128.0,191.6 128.2,191.6 128.5,191.8 128.8,191.8 129.1,192.0 129.4,192.0 129.6,192.3 129.9,192.5 130.2,192.5 130.5,192.7 130.8,192.9 131.0,193.1 131.3,193.3 131.6,193.5 131.9,193.8 132.2,193.9 132.4,194.0 132.7,194.5 133.0,194.9 133.3,194.9 133.6,195.3 133.8,195.6 134.1,196.0 134.4,196.2 134.7,196.6 135.0,196.8 135.2,197.1 135.5,197.4 135.8,197.7 136.1,198.1 136.4,198.2 136.6,198.4 136.9,198.5 137.2,198.8 137.5,198.7 137.8,199.1 138.0,198.5 138.3,199.0 138.6,199.8 138.9,199.4 139.2,199.9 139.4,199.0 139.7,201.0 140.0,200.6 140.3,200.4 140.6,201.0 140.8,201.1 141.1,202.3 141.4,201.5 141.7,200.3 142.0,201.5 142.2,203.1 142.5,202.7 142.8,202.0 143.1,203.1 143.4,202.8 143.6,203.4 143.9,201.7 144.2,202.5 144.5,204.0 144.8,203.3 145.0,203.9 145.3,205.4 145.6,203.6 145.9,204.2 146.2,203.6 146.4,203.7 146.7,204.2 147.0,203.2 147.3,202.7 147.6,205.8 147.8,204.7 148.1,205.9 148.4,205.1 148.7,205.3 149.0,205.9 149.2,206.1 149.5,204.7 149.8,206.9 150.1,205.3 150.4,206.6 150.6,209.0 150.9,207.2 151.2,209.0 151.5,207.6 151.8,208.9 152.0,208.8 152.3,209.5 152.6,208.9 152.9,209.3 153.2,210.9 153.4,210.2 153.7,211.1 154.0,212.7 154.3,212.5 154.6,213.0 154.8,213.6 155.1,214.9 155.4,215.4 155.7,216.3 156.0,216.9 156.2,218.2 156.5,218.4 156.8,219.1 157.1,220.2 157.4,221.0 157.6,221.9 157.9,222.6 158.2,223.8 158.5,224.6 158.8,225.6 159.0,226.4 159.3,227.6 159.6,228.5 159.9,229.6 160.2,230.4 160.4,231.3 160.7,232.4 161.0,233.3 161.3,234.3 161.6,234.9 161.8,235.7 162.1,236.1 162.4,236.4 162.7,236.3 163.0,235.9 163.2,235.4 163.5,234.8 163.8,234.2 164.1,233.4 164.4,232.4 164.6,231.8 164.9,231.2 165.2,230.3 165.5,229.5 165.8,228.8 166.0,227.8 166.3,227.2 166.6,226.8 166.9,226.2 167.2,225.6 167.4,225.0 167.7,224.5 168.0,223.9 168.3,223.4 168.6,222.8 168.8,222.4 169.1,221.8 169.4,221.4 169.7,221.1 170.0,220.6 170.2,220.1 170.5,219.9 170.8,219.4 171.1,219.4 171.4,219.0 171.6,218.8 171.9,218.4 172.2,218.1 172.5,218.0 172.8,217.8 173.0,217.6 173.3,217.5 173.6,217.4 173.9,217.3 174.2,217.0 174.4,216.8 174.7,216.9 175.0,216.8 175.3,216.8 175.6,216.9 175.8,216.9 176.1,216.8 176.4,216.8 176.7,216.9 177.0,216.8 177.2,216.9 177.5,217.0 177.8,217.0 178.1,217.0 178.4,217.1 178.6,217.3 178.9,217.3 179.2,217.6 179.5,217.7 179.8,218.0 180.0,218.2 180.3,218.2 180.6,218.7 180.9,218.8 181.2,219.3 181.4,219.5 181.7,219.8 182.0,220.2 182.3,220.4 182.6,220.9 182.8,221.3 183.1,221.6 183.4,222.1 183.7,222.4 184.0,223.0 184.2,223.3 184.5,224.0 184.8,224.4 185.1,225.0 185.4,225.4 185.6,226.3 185.9,226.5 186.2,227.2 186.5,227.7 186.8,228.5 187.0,228.9 187.3,229.6 187.6,230.1 187.9,230.8 188.2,231.3 188.4,232.1 188.7,232.6 189.0,233.2 189.3,234.0 189.6,234.4 189.8,235.4 190.1,236.0 190.4,236.4 190.7,237.5 191.0,238.1 191.2,238.8 191.5,239.7 191.8,240.5 192.1,241.1 192.4,242.0 192.6,242.9 192.9,243.6 193.2,244.3 193.5,245.0 193.8,245.7 194.0,246.5 194.3,247.4 194.6,248.1 194.9,248.8 195.2,249.6 195.4,250.1 195.7,250.7 196.0,251.2 196.3,252.0 196.6,251.7 196.8,252.3 197.1,252.2 197.4,251.8 197.7,251.8 198.0,251.1 198.2,250.6 198.5,249.8 198.8,249.5 199.1,248.8 199.4,248.3 199.6,247.7 199.9,247.1 200.2,246.7 200.5,246.3 200.8,245.7 201.0,245.1 201.3,244.5 201.6,244.5 201.9,244.2 202.2,243.7 202.4,243.3 202.7,243.2 203.0,242.7 203.3,242.6 203.6,242.1 203.8,241.9 204.1,241.7 204.4,241.3 204.7,241.3 205.0,241.2 205.2,240.9 205.5,241.0 205.8,240.7 206.1,240.8 206.4,240.7 206.6,240.5 206.9,240.5 207.2,240.3 207.5,240.5 207.8,240.4 208.0,240.8 208.3,240.8 208.6,240.4 208.9,240.9 209.2,241.0 209.4,241.1 209.7,241.5 210.0,241.8 210.3,241.9 210.6,242.3 210.8,242.8 211.1,243.1 211.4,243.8 211.7,244.4 212.0,244.9 212.2,245.5 212.5,246.3 212.8,247.1 213.1,247.7 213.4,248.3 213.6,249.2 213.9,249.8 214.2,250.6 214.5,251.3 214.8,251.6 215.0,252.3 215.3,252.9 215.6,253.4 215.9,254.3 216.2,254.7 216.4,254.9 216.7,256.0 217.0,256.7 217.3,257.9 217.6,258.7 217.8,259.5 218.1,260.9 218.4,262.0 218.7,263.1 219.0,264.2 219.2,265.4 219.5,266.8 219.8,267.6 220.1,269.1 220.4,270.3 220.6,271.4 220.9,272.8 221.2,273.5 221.5,274.8 221.8,275.8 222.0,277.2 222.3,277.8 222.6,278.7 222.9,279.2 223.2,278.4 223.4,278.0 223.7,276.6 224.0,275.5 224.3,274.2 224.6,273.1 224.8,271.6 225.1,270.4 225.4,268.7 225.7,267.1 226.0,265.8 226.2,264.9 226.5,264.0 226.8,262.6 227.1,261.5 227.4,260.7 227.6,259.7 227.9,258.7 228.2,257.6 228.5,256.4 228.8,255.9 229.0,255.4 229.3,254.5 229.6,253.5 229.9,253.2 230.2,252.4 230.4,252.4 230.7,251.7 231.0,251.0 231.3,250.8 231.6,250.2 231.8,250.0 232.1,249.6 232.4,249.0 232.7,249.0 233.0,248.4 233.2,248.4 233.5,248.0 233.8,247.6 234.1,247.2 234.4,247.5 234.6,247.2 234.9,246.7 235.2,246.9 235.5,246.5 235.8,246.3 236.0,246.2 236.3,245.8 236.6,246.2 236.9,245.9 237.2,245.6 237.4,246.1 237.7,245.9 238.0,245.6 238.3,245.7 238.6,245.6 238.8,245.7 239.1,245.8 239.4,245.8 239.7,245.8 240.0,245.8 240.2,246.1 240.5,246.1 240.8,246.5 241.1,246.3 241.4,246.6 241.6,246.7 241.9,246.7 242.2,247.2 242.5,247.3 242.8,247.4 243.0,247.7 243.3,248.1 243.6,248.1 243.9,248.8 244.2,249.1 244.4,249.3 244.7,249.9 245.0,250.4 245.3,250.7 245.6,251.1 245.8,251.9 246.1,252.4 246.4,252.6 246.7,253.3 247.0,253.9 247.2,254.4 247.5,254.9 247.8,255.9 248.1,256.4 248.4,257.1 248.6,257.9 248.9,258.2 249.2,259.0 249.5,259.7 249.8,260.2 250.0,260.9 250.3,261.7 250.6,262.3 250.9,263.2 251.2,263.5 251.4,264.4 251.7,264.6 252.0,265.6 252.3,266.1 252.6,267.2 252.8,267.7 253.1,268.2 253.4,269.1 253.7,269.6 254.0,270.0 254.2,270.3 254.5,270.7 254.8,271.5 255.1,272.0 255.4,272.4 255.6,272.9 255.9,272.9 256.2,274.0 256.5,273.5 256.8,273.8 257.0,274.1 257.3,273.4 257.6,273.8 257.9,273.5 258.2,272.9 258.4,272.4 258.7,272.1 259.0,271.3 259.3,271.6 259.6,270.9 259.8,270.2 260.1,269.7 260.4,269.5 260.7,269.2 261.0,268.1 261.2,267.7 261.5,267.0 261.8,267.0 262.1,266.4 262.4,266.4 262.6,265.5 262.9,265.1 263.2,264.6 263.5,264.6 263.8,263.7 264.0,263.8 264.3,263.4 264.6,263.0 264.9,262.6 265.2,262.7 265.4,262.6 265.7,262.0 266.0,262.0 266.3,262.0 266.6,261.4 266.8,261.4 267.1,261.1 267.4,261.2 267.7,261.1 268.0,261.0 268.2,260.9 268.5,260.7 268.8,260.7 269.1,260.8 269.4,261.0 269.6,260.9 269.9,260.9 270.2,261.2 270.5,261.3 270.8,261.1 271.0,261.2 271.3,261.6 271.6,261.6 271.9,261.6 272.2,262.0 272.4,262.1 272.7,262.5 273.0,262.4 273.3,263.0 273.6,263.1 273.8,263.1 274.1,263.8 274.4,264.1 274.7,263.9 275.0,264.9 275.2,264.6 275.5,265.0 275.8,265.4 276.1,266.0 276.4,266.3 276.6,266.5 276.9,267.2 277.2,267.4 277.5,268.0 277.8,268.7 278.0,268.5 278.3,268.4 278.6,269.4 278.9,269.8 279.2,270.7 279.4,271.2 279.7,271.5 280.0,272.1 280.3,272.9 280.6,273.4 280.8,273.4 281.1,274.8 281.4,275.1 281.7,275.6 282.0,276.2 282.2,276.3 282.5,277.0 282.8,277.7 283.1,278.0 283.4,278.0 283.6,278.0 283.9,277.8 284.2,278.1 284.5,277.4 284.8,276.7 285.0,275.7 285.3,275.6 285.6,274.7 285.9,275.0 286.2,274.1 286.4,273.3 286.7,272.8 287.0,272.9 287.3,271.9 287.6,270.7 287.8,270.4 288.1,269.6 288.4,269.1 288.7,269.1 289.0,269.2 289.2,268.5 289.5,267.8 289.8,267.3 290.1,267.0 290.4,266.7 290.6,265.8 290.9,265.3 291.2,265.7 291.5,265.0 291.8,264.9 292.0,264.2 292.3,264.1 292.6,263.4 292.9,263.3 293.2,263.2 293.4,262.8 293.7,262.2 294.0,262.2 294.3,261.6 294.6,261.2 294.8,261.4 295.1,261.3 295.4,261.0 295.7,260.4 296.0,260.6 296.2,260.4 296.5,260.0 296.8,259.4 297.1,259.9 297.4,259.7 297.6,259.5 297.9,259.0 298.2,258.9 298.5,259.2 298.8,259.1 299.0,259.0 299.3,258.8 299.6,258.8 299.9,258.6 300.2,258.6 300.4,258.5 300.7,258.7 301.0,258.6 301.3,258.8 301.6,258.8 301.8,258.6 302.1,259.1 302.4,258.7 302.7,259.0 303.0,259.3 303.2,259.4 303.5,258.9 303.8,259.6 304.1,259.8 304.4,260.0 304.6,259.5 304.9,260.0 305.2,260.3 305.5,260.5 305.8,261.0 306.0,260.9 306.3,261.5 306.6,261.6 306.9,261.5 307.2,261.8 307.4,262.2 307.7,262.9 308.0,263.1 308.3,263.1 308.6,263.6 308.8,263.5 309.1,263.5 309.4,264.4 309.7,264.9 310.0,265.1 310.2,265.4 310.5,266.1 310.8,266.8 311.1,266.8 311.4,267.1 311.6,267.5 311.9,268.6 312.2,268.6 312.5,269.3 312.8,269.9 313.0,270.4 313.3,270.5 313.6,271.5 313.9,272.0 314.2,272.5 314.4,273.2 314.7,273.3 315.0,274.0 315.3,274.5 315.6,275.4 315.8,275.6 316.1,276.5 316.4,276.7 316.7,277.6 317.0,278.1 317.2,278.8 317.5,279.5 317.8,280.1 318.1,280.7 318.4,280.8 318.6,282.5 318.9,282.7 319.2,283.5 319.5,283.9 319.8,285.2 320.0,285.2 320.3,286.3 320.6,287.1 320.9,287.8 321.2,288.0 321.4,288.0 321.7,287.5 322.0,288.4 322.3,288.3 322.6,288.0 322.8,287.7 323.1,287.2 323.4,286.7 323.7,286.9 324.0,286.6 324.2,285.4 324.5,285.7 324.8,285.1 325.1,285.0 325.4,284.4 325.6,284.3 325.9,283.9 326.2,284.3 326.5,282.4 326.8,282.7 327.0,282.1 327.3,281.4 327.6,281.6 327.9,280.6 328.2,281.0 328.4,280.9 328.7,280.0 329.0,280.1 329.3,279.8 329.6,279.4 329.8,278.6 330.1,278.7 330.4,278.5 330.7,278.5 331.0,278.1 331.2,278.3 331.5,277.9 331.8,278.0 332.1,278.5 332.4,277.7 332.6,277.9 332.9,277.4 333.2,277.7 333.5,277.4 333.8,277.7 334.0,277.9 334.3,277.6 334.6,277.9 334.9,277.9 335.2,277.6 335.4,278.1 335.7,278.5 336.0,278.2 336.3,278.0 336.6,278.8 336.8,278.8 337.1,279.8 337.4,279.5 337.7,279.8 338.0,280.0 338.2,280.5 338.5,280.5 338.8,280.7 339.1,281.2 339.4,281.3 339.6,282.3 339.9,282.0 340.2,282.7 340.5,282.9 340.8,283.1 341.0,284.5 341.3,283.8 341.6,285.4 341.9,285.0 342.2,286.0 342.4,287.2 342.7,286.3 343.0,287.1 343.3,288.5 343.6,288.7 343.8,288.9 344.1,289.7 344.4,289.8 344.7,290.8 345.0,291.8 345.2,291.6 345.5,292.3 345.8,293.2 346.1,294.0 346.4,293.4 346.6,294.2 346.9,294.2 347.2,294.6 347.5,295.1 347.8,295.3 348.0,295.2 348.3,295.4 348.6,296.2 348.9,296.8 349.2,297.5 349.4,296.9 349.7,296.7 350.0,297.3 350.3,297.3 350.6,296.7 350.8,296.4 351.1,296.8 351.4,295.4 351.7,294.8 352.0,293.8 352.2,294.1 352.5,293.2 352.8,293.4 353.1,291.9 353.4,291.6 353.6,290.9 353.9,290.4 354.2,288.6 354.5,288.9 354.8,287.7 355.0,287.0 355.3,286.2 355.6,285.5 355.9,284.9 356.2,283.7 356.4,284.0 356.7,283.3 357.0,282.5 357.3,282.3 357.6,282.5 357.8,281.6 358.1,281.0 358.4,281.2 358.7,280.1 359.0,280.0 359.2,279.6 359.5,279.4 359.8,279.4 360.1,279.1 360.4,278.5 360.6,278.5 360.9,278.4 361.2,278.0 361.5,278.0 361.8,277.6 362.0,277.4 362.3,277.5 362.6,277.1 362.9,277.4 363.2,277.1 363.4,276.9 363.7,276.9 364.0,276.9 364.3,277.0 364.6,277.0 364.8,276.9 365.1,276.8 365.4,277.4 365.7,277.3 366.0,277.1 366.2,277.3 366.5,277.2 366.8,277.2 367.1,277.4 367.4,278.2 367.6,277.9 367.9,278.1 368.2,277.8 368.5,278.3 368.8,279.0 369.0,278.8 369.3,279.3 369.6,279.7 369.9,279.8 370.2,280.5 370.4,280.5 370.7,280.9 371.0,281.0 371.3,282.4 371.6,282.2 371.8,282.6 372.1,283.5 372.4,283.4 372.7,284.1 373.0,284.4 373.2,285.2 373.5,285.7 373.8,286.6 374.1,287.0 374.4,287.4 374.6,288.1 374.9,288.8 375.2,289.3 375.5,290.5 375.8,291.1 376.0,291.5 376.3,291.7 376.6,293.0 376.9,293.0 377.2,294.2 377.4,294.8 377.7,295.2 378.0,295.8 378.3,296.5 378.6,298.3 378.8,297.9 379.1,298.6 379.4,299.7 379.7,300.4 380.0,300.9 380.2,300.4 380.5,301.0 380.8,303.6 381.1,302.5 381.4,302.9 381.6,303.6 381.9,304.5 382.2,303.9 382.5,305.0 382.8,305.3 383.0,306.1 383.3,306.3 383.6,306.3 383.9,306.6 384.2,306.1 384.4,308.2 384.7,307.0 385.0,307.5 385.3,309.1 385.6,306.9 385.8,307.0 386.1,306.0 386.4,305.9 386.7,305.0 387.0,304.1 387.2,304.4 387.5,302.9 387.8,301.8 388.1,301.6 388.4,301.4 388.6,300.0 388.9,300.2 389.2,299.6 389.5,299.6 389.8,297.9 390.0,297.9 390.3,296.3 390.6,296.4 390.9,296.1 391.2,295.7 391.4,295.1 391.7,294.8 392.0,294.2 392.3,294.0 392.6,293.9 392.8,293.8 393.1,293.5 393.4,293.4 393.7,293.2 394.0,291.9 394.2,292.1 394.5,291.9 394.8,291.5 395.1,291.8 395.4,291.4 395.6,290.9 395.9,290.7 396.2,290.9 396.5,290.1 396.8,289.9 397.0,290.1 397.3,290.0 397.6,290.0 397.9,289.4 398.2,289.4 398.4,288.9 398.7,288.6 399.0,288.9 399.3,287.9 399.6,288.9 399.8,289.0 400.1,288.7 400.4,288.7 400.7,289.2 401.0,288.9 401.2,289.4 401.5,289.9 401.8,289.6 402.1,289.8 402.4,289.8 402.6,289.9 402.9,290.1 403.2,290.2 403.5,290.8 403.8,290.0 404.0,290.7 404.3,291.3 404.6,291.0 404.9,291.6 405.2,291.7 405.4,292.4 405.7,292.9 406.0,293.5 406.3,293.5 406.6,293.3 406.8,294.1 407.1,294.6 407.4,295.3 407.7,294.3 408.0,295.7 408.2,295.2 408.5,296.6 408.8,296.9 409.1,297.3 409.4,297.9 409.6,298.1 409.9,298.0 410.2,298.9 410.5,299.7 410.8,299.6 411.0,300.1 411.3,300.0 411.6,301.5 411.9,301.2 412.2,301.5 412.4,302.0 412.7,302.2 413.0,302.7 413.3,303.7 413.6,303.7 413.8,304.2 414.1,304.2 414.4,302.9 414.7,303.4 415.0,303.7 415.2,303.8 415.5,301.7 415.8,301.4 416.1,301.9 416.4,301.1 416.6,300.4 416.9,300.6 417.2,299.6 417.5,298.5 417.8,299.1 418.0,298.8 418.3,298.6 418.6,298.3 418.9,297.5 419.2,296.9 419.4,296.3 419.7,295.5 420.0,295.6 420.3,295.8 420.6,295.3 420.8,295.5 421.1,294.3 421.4,293.3 421.7,294.0 422.0,293.7 422.2,292.5 422.5,292.0 422.8,292.4 423.1,292.3 423.4,291.3 423.6,291.3 423.9,290.9 424.2,290.5 424.5,290.2 424.8,290.5 425.0,290.1 425.3,289.8 425.6,288.9 425.9,290.2 426.2,289.0 426.4,289.1 426.7,288.6 427.0,289.0 427.3,288.2 427.6,288.6 427.8,288.3 428.1,288.6 428.4,287.8 428.7,287.8 429.0,287.8 429.2,288.5 429.5,287.3 429.8,287.8 430.1,287.4 430.4,287.7 430.6,287.8 430.9,287.6 431.2,287.6 431.5,287.6 431.8,287.3 432.0,287.5 432.3,287.0 432.6,287.5 432.9,287.4 433.2,287.6 433.4,288.0 433.7,288.0 434.0,288.1 434.3,288.4 434.6,287.3 434.8,288.4 435.1,288.4 435.4,288.5 435.7,288.2 436.0,289.0 436.2,289.4 436.5,289.6 436.8,289.4 437.1,289.9 437.4,290.2 437.6,290.8 437.9,290.9 438.2,290.8 438.5,291.0 438.8,291.4 439.0,291.7 439.3,291.8 439.6,292.6 439.9,292.5 440.2,292.9 440.4,293.8 440.7,294.0 441.0,294.6 441.3,294.5 441.6,296.2 441.8,296.5 442.1,297.0 442.4,297.9 442.7,298.4 443.0,298.7 443.2,300.5 443.5,300.1 443.8,301.4 444.1,302.5 444.4,302.0 444.6,303.0 444.9,303.3 445.2,304.9 445.5,304.8 445.8,305.1 446.0,307.0 446.3,307.5 446.6,307.3 446.9,309.1 447.2,309.2 447.4,311.3 447.7,311.4 448.0,310.7 448.3,311.5 448.6,311.7 448.8,312.9 449.1,313.4 449.4,314.3 449.7,314.4 450.0,313.8 450.2,314.5 450.5,316.2 450.8,316.1 451.1,315.3 451.4,315.3 451.6,315.2 451.9,315.2 452.2,313.9 452.5,315.4 452.8,314.2 453.0,314.4 453.3,312.4 453.6,313.8 453.9,314.2 454.2,311.6 454.4,313.5 454.7,312.4 455.0,311.3 455.3,310.3 455.6,311.5 455.8,310.6 456.1,310.4 456.4,309.5 456.7,308.9 457.0,309.4 457.2,308.1 457.5,308.8 457.8,307.1 458.1,307.1 458.4,306.6 458.6,307.7 458.9,305.8 459.2,305.9 459.5,306.6 459.8,306.1 460.0,306.8 460.3,306.4 460.6,305.5 460.9,305.4 461.2,303.9 461.4,304.2 461.7,304.2 462.0,304.1 462.3,303.4 462.6,303.5 462.8,303.4 463.1,303.3 463.4,303.8 463.7,303.3 464.0,303.3 464.2,303.5 464.5,303.0 464.8,303.2 465.1,302.5 465.4,303.6 465.6,303.8 465.9,303.6 466.2,303.4 466.5,303.7 466.8,304.6 467.0,303.8 467.3,303.2 467.6,303.4 467.9,304.5 468.2,304.8 468.4,304.8 468.7,305.0 469.0,304.9 469.3,304.3 469.6,304.9 469.8,304.6 470.1,305.6 470.4,305.3 470.7,306.4 471.0,306.5 471.2,305.9 471.5,307.6 471.8,308.0 472.1,307.1 472.4,308.3 472.6,309.7 472.9,308.7 473.2,309.7 473.5,309.6 473.8,310.4 474.0,310.2 474.3,310.4 474.6,311.1 474.9,311.5 475.2,311.5 475.4,311.4 475.7,311.5 476.0,312.0 476.3,312.1 476.6,312.9 476.8,313.1 477.1,313.2 477.4,313.5 477.7,313.8 478.0,314.9 478.2,315.0 478.5,314.1 478.8,315.0 479.1,314.7 479.4,315.1 479.6,315.1 479.9,315.0 480.2,314.7 480.5,314.0 480.8,315.9 481.0,316.6 481.3,315.2 481.6,316.1 481.9,315.4 482.2,315.8 482.4,314.9 482.7,315.2 483.0,315.1 483.3,313.4 483.6,315.0 483.8,314.5 484.1,312.8 484.4,314.6 484.7,314.0 485.0,313.9 485.2,313.7 485.5,313.0 485.8,312.3 486.1,312.5 486.4,312.2 486.6,313.6 486.9,313.1 487.2,311.4 487.5,311.2 487.8,311.4 488.0,311.3 488.3,310.4 488.6,310.0 488.9,311.5 489.2,310.7 489.4,309.0 489.7,308.7 490.0,309.1 490.3,309.4 490.6,309.4 490.8,309.1 491.1,307.8 491.4,308.6 491.7,308.6 492.0,308.1 492.2,307.6 492.5,308.1 492.8,307.2 493.1,306.8 493.4,307.3 493.6,306.4 493.9,307.5 494.2,307.2 494.5,306.3 494.8,306.8 495.0,307.3 495.3,305.4 495.6,306.8 495.9,307.3 496.2,305.6 496.4,306.3 496.7,305.7 497.0,306.4 497.3,305.1 497.6,305.6 497.8,306.2 498.1,306.6 498.4,306.7 498.7,306.8 499.0,307.2 499.2,307.0 499.5,307.1 499.8,306.2 500.1,306.7 500.4,308.6 500.6,308.3 500.9,307.6 501.2,307.9 501.5,308.0 501.8,307.5 502.0,309.0 502.3,308.0 502.6,308.4 502.9,310.0 503.2,307.8 503.4,309.6 503.7,308.7 504.0,309.7 504.3,310.3 504.6,310.5 504.8,311.2 505.1,311.0 505.4,311.8 505.7,311.5 506.0,312.4 506.2,312.2 506.5,313.9 506.8,313.0 507.1,314.8 507.4,314.5 507.6,315.0 507.9,316.4 508.2,316.1 508.5,315.2 508.8,317.3 509.0,315.4 509.3,318.1 509.6,318.1 509.9,317.8 510.2,319.4 510.4,319.6 510.7,322.0 511.0,320.6 511.3,323.0 511.6,323.1 511.8,321.9 512.1,322.2 512.4,324.5 512.7,323.7 513.0,324.4 513.2,324.5 513.5,324.0 513.8,325.1 514.1,324.9 514.4,324.6 514.6,326.0 514.9,328.2 515.2,328.1 515.5,326.6 515.8,326.8 516.0,327.0 516.3,327.6 516.6,326.3 516.9,325.3 517.2,325.1 517.4,326.1 517.7,327.0 518.0,323.7 518.3,322.1 518.6,324.1 518.8,322.9 519.1,322.6 519.4,323.0 519.7,321.6 520.0,320.0 520.2,319.1 520.5,320.2 520.8,318.9 521.1,319.6 521.4,317.3 521.6,318.3 521.9,317.1 522.2,317.5 522.5,317.0 522.8,317.4 523.0,317.6 523.3,316.1 523.6,315.3 523.9,317.0 524.2,315.6 524.4,315.5 524.7,315.2 525.0,315.5 525.3,315.0 525.6,314.5 525.8,314.4 526.1,313.1 526.4,313.1 526.7,313.2 527.0,313.2 527.2,313.0 527.5,313.1 527.8,312.8 528.1,312.4 528.4,311.5 528.6,313.1 528.9,312.9 529.2,311.9 529.5,312.8 529.8,312.7 530.0,312.5 530.3,311.3 530.6,311.7 530.9,312.1 531.2,313.5 531.4,312.0 531.7,312.3 532.0,311.9 532.3,312.3 532.6,312.9 532.8,311.5 533.1,310.9 533.4,313.3 533.7,313.0 534.0,312.7 534.2,313.8 534.5,313.9 534.8,312.1 535.1,313.5 535.4,314.5 535.6,313.5 535.9,313.9 536.2,314.9 536.5,314.3 536.8,314.0 537.0,314.7 537.3,314.4 537.6,315.9 537.9,314.7 538.2,316.9 538.4,315.3 538.7,316.8 539.0,316.1 539.3,317.2 539.6,318.5 539.8,318.9 540.1,319.4 540.4,318.7 540.7,319.1 541.0,319.5 541.2,320.1 541.5,319.6 541.8,321.1 542.1,320.7 542.4,321.7 542.6,321.4 542.9,321.3 543.2,320.9 543.5,321.4 543.8,320.9 544.0,321.9 544.3,322.2 544.6,323.2 544.9,321.6 545.2,325.6 545.4,322.9 545.7,324.2 546.0,324.2 546.3,321.2 546.6,323.2 546.8,324.8 547.1,321.4 547.4,324.1 547.7,322.6 548.0,322.9 548.2,323.4 548.5,321.4 548.8,323.1 549.1,322.2 549.4,322.0 549.6,323.0 549.9,325.2 550.2,322.3 550.5,322.3 550.8,321.6 551.0,320.8 551.3,321.4 551.6,322.2 551.9,320.9 552.2,321.2 552.4,320.1 552.7,322.0 553.0,318.5 553.3,320.0 553.6,319.7 553.8,319.2 554.1,317.9 554.4,317.6 554.7,318.1 555.0,318.1 555.2,316.8 555.5,316.7 555.8,317.6 556.1,317.7 556.4,316.4 556.6,316.0 556.9,315.8 557.2,317.9 557.5,316.2 557.8,315.7 558.0,316.2 558.3,317.0 558.6,316.0 558.9,314.1 559.2,314.9 559.4,314.5 559.7,314.5 560.0,313.8 560.3,314.3 560.6,313.8 560.8,314.8 561.1,314.6 561.4,313.6 561.7,313.4 562.0,314.3 562.2,315.1 562.5,315.0 562.8,314.7 563.1,312.6 563.4,314.6 563.6,314.5 563.9,314.9 564.2,314.4 564.5,315.1 564.8,315.0 565.0,317.5 565.3,316.3 565.6,315.9 565.9,316.2 566.2,316.3 566.4,316.7 566.7,316.5 567.0,317.1 567.3,318.1 567.6,318.2 567.8,318.1 568.1,319.2 568.4,318.6 568.7,318.0 569.0,317.7 569.2,318.8 569.5,319.5 569.8,320.2 570.1,321.0 570.4,320.0 570.6,320.2 570.9,321.7 571.2,322.4 571.5,321.3 571.8,322.3 572.0,323.5 572.3,322.9 572.6,322.9 572.9,321.5 573.2,324.8 573.4,324.4 573.7,324.3 574.0,324.0 574.3,323.6 574.6,324.9 574.8,325.2 575.1,326.5 575.4,324.7 575.7,327.4 576.0,326.4 576.2,327.7 576.5,325.9 576.8,327.4 577.1,328.6 577.4,327.7 577.6,326.4 577.9,327.8 578.2,328.9 578.5,327.1 578.8,327.3 579.0,329.2 579.3,328.1 579.6,330.0 579.9,328.2 580.2,327.6 580.4,328.8 580.7,331.2 581.0,328.8 581.3,329.7 581.6,329.9 581.8,328.6 582.1,330.7 582.4,329.7 582.7,329.8 583.0,327.5 583.2,327.2 583.5,326.0 583.8,328.5 584.1,328.3 584.4,329.0 584.6,329.6 584.9,327.6 585.2,327.4 585.5,327.9 585.8,328.7 586.0,326.1 586.3,327.3 586.6,326.2 586.9,325.9 587.2,326.7 587.4,325.0 587.7,324.5 588.0,325.8 588.3,324.9 588.6,324.5 588.8,324.3 589.1,324.7 589.4,323.7 589.7,324.4 590.0,323.9 590.2,324.6 590.5,323.0 590.8,323.6 591.1,322.5 591.4,322.6 591.6,321.8 591.9,324.5 592.2,321.8 592.5,322.3 592.8,322.8 593.0,320.4 593.3,320.7 593.6,321.0 593.9,320.4 594.2,320.1 594.4,320.6 594.7,322.0 595.0,321.5 595.3,320.9 595.6,320.8 595.8,319.4 596.1,321.3 596.4,321.1 596.7,320.0 597.0,321.1 597.2,320.9 597.5,320.7 597.8,320.4 598.1,320.8 598.4,320.7 598.6,321.9 598.9,322.0 599.2,322.1 599.5,321.9 599.8,321.8 600.0,324.1 600.3,322.0 600.6,323.8 600.9,323.3 601.2,323.2 601.4,323.0 601.7,323.4 602.0,322.8 602.3,322.9 602.6,324.3 602.8,323.2 603.1,325.7 603.4,326.2 603.7,322.3 604.0,324.3 604.2,327.6 604.5,326.5 604.8,326.6 605.1,327.2 605.4,327.8 605.6,328.2 605.9,329.4 606.2,327.9 606.5,329.0 606.8,326.7 607.0,328.5 607.3,327.6 607.6,330.6 607.9,331.8 608.2,330.2 608.4,328.4 608.7,329.9 609.0,330.3 609.3,330.6 609.6,331.8 609.8,331.9 610.1,328.1 610.4,332.7 610.7,330.8 611.0,330.9 611.2,333.3 611.5,331.5 611.8,330.4 612.1,330.6 612.4,332.3 612.6,333.4 612.9,334.2 613.2,332.3 613.5,332.1 613.8,334.6 614.0,332.2 614.3,334.5 614.6,333.0 614.9,333.0 615.2,332.5 615.4,333.1 615.7,332.2 616.0,331.9 616.3,332.5 616.6,331.8 616.8,332.8 617.1,332.5 617.4,332.0 617.7,332.0 618.0,331.9 618.2,334.0 618.5,331.9 618.8,331.2 619.1,331.4 619.4,332.2 619.6,331.0 619.9,330.8 620.2,330.4 620.5,330.6 620.8,330.6 621.0,330.4 621.3,328.0 621.6,328.4 621.9,326.5 622.2,329.9 622.4,330.0 622.7,330.0 623.0,328.6 623.3,329.5 623.6,328.1 623.8,327.8 624.1,326.3 624.4,327.0 624.7,327.1 625.0,328.5 625.2,329.2 625.5,327.0 625.8,327.8 626.1,327.7 626.4,326.6 626.6,325.6 626.9,326.5 627.2,325.8 627.5,326.9 627.8,327.1 628.0,327.0 628.3,327.0 628.6,327.7 628.9,326.3 629.2,328.1 629.4,325.7 629.7,327.4 630.0,327.8 630.3,326.8 630.6,326.1 630.8,328.5 631.1,327.4 631.4,329.0 631.7,329.1 632.0,328.6 632.2,328.8 632.5,330.1 632.8,329.7 633.1,328.5 633.4,329.9 633.6,330.6 633.9,330.4 634.2,330.7 634.5,330.5 634.8,330.3 635.0,330.1 635.3,329.8 635.6,332.9 635.9,331.1 636.2,332.3 636.4,330.5 636.7,332.6 637.0,331.6 637.3,336.2 637.6,331.7 637.8,332.0 638.1,334.4 638.4,334.8 638.7,331.0 639.0,334.0 639.2,334.9 639.5,332.5 639.8,335.0 640.1,333.6 640.4,333.2 640.6,334.1 640.9,334.1 641.2,333.0 641.5,337.6 641.8,334.3 642.0,333.9 642.3,335.9 642.6,334.8 642.9,336.5 643.2,334.5 643.4,335.2 643.7,334.9 644.0,334.9 644.3,334.4 644.6,334.4 644.8,336.5 645.1,333.5 645.4,333.6 645.7,333.7 646.0,334.7 646.2,334.3 646.5,334.8 646.8,331.9 647.1,333.7 647.4,333.0 647.6,332.7 647.9,333.0 648.2,330.4 648.5,332.8 648.8,332.4 649.0,330.4 649.3,331.7 649.6,333.4 649.9,331.0 650.2,331.8 650.4,330.7 650.7,329.8 651.0,329.5 651.3,329.9 651.6,331.6 651.8,330.9 652.1,329.2 652.4,330.8 652.7,329.5 653.0,329.4 653.2,329.8 653.5,328.2 653.8,327.4 654.1,330.2 654.4,326.9 654.6,329.1 654.9,326.9 655.2,328.3 655.5,328.0 655.8,327.6 656.0,325.8 656.3,327.8 656.6,327.8 656.9,326.9 657.2,327.7 657.4,328.7 657.7,327.0 658.0,328.0 658.3,326.6 658.6,328.1 658.8,328.3 659.1,330.2 659.4,328.6 659.7,328.2 660.0,329.2 660.2,326.9 660.5,328.9 660.8,327.4 661.1,327.4 661.4,329.1 661.6,328.4 661.9,329.5 662.2,326.9 662.5,328.7 662.8,327.7 663.0,328.3 663.3,326.8 663.6,329.8 663.9,329.2 664.2,328.1 664.4,327.9 664.7,328.5 665.0,331.0 665.3,329.6 665.6,329.6 665.8,330.6 666.1,330.3 666.4,330.8 666.7,331.5 667.0,331.3 667.2,332.1 667.5,330.1 667.8,331.7 668.1,331.4 668.4,332.2 668.6,332.3 668.9,331.8 669.2,332.4 669.5,334.1 669.8,332.6 670.0,332.0 670.3,334.4 670.6,335.1 670.9,333.8 671.2,334.5 671.4,333.5 671.7,334.4 672.0,336.2 672.3,336.0 672.6,335.3 672.8,334.9 673.1,333.4 673.4,336.0 673.7,336.3 674.0,337.2 674.2,338.6 674.5,336.6 674.8,337.5 675.1,334.9 675.4,338.1 675.6,337.7 675.9,338.5 676.2,337.7 676.5,337.4 676.8,338.8 677.0,336.0 677.3,337.8 677.6,338.4 677.9,335.9 678.2,335.4 678.4,337.5 678.7,337.1 679.0,337.7 679.3,337.8 679.6,335.8 679.8,337.3 680.1,338.2 680.4,336.2 680.7,336.2 681.0,335.1 681.2,337.5 681.5,338.9 681.8,334.4 682.1,337.1 682.4,337.1 682.6,335.2 682.9,335.3 683.2,334.3 683.5,334.5 683.8,333.5 684.0,336.0 684.3,335.2 684.6,336.0 684.9,335.1 685.2,333.2 685.4,336.3 685.7,335.8 686.0,333.4 686.3,336.3 686.6,334.7 686.8,334.2 687.1,336.3 687.4,330.9 687.7,331.9 688.0,334.6 688.2,333.4 688.5,332.5 688.8,335.3 689.1,334.1 689.4,332.0 689.6,332.6 689.9,333.2 690.2,335.4 690.5,330.9 690.8,333.5 691.0,332.7 691.3,331.1 691.6,332.9 691.9,331.2 692.2,332.5 692.4,335.0 692.7,333.8 693.0,334.1 693.3,334.0 693.6,333.8 693.8,334.6 694.1,332.2 694.4,333.2 694.7,334.8 695.0,333.0 695.2,333.5 695.5,335.6 695.8,336.1 696.1,333.7 696.4,333.6 696.6,335.5 696.9,335.2 697.2,334.3 697.5,336.0 697.8,336.2 698.0,335.8 698.3,339.7 698.6,337.9 698.9,337.4 699.2,337.9 699.4,340.7 699.7,338.5 700.0,336.3 700.3,337.9 700.6,337.8 700.8,337.2 701.1,338.6 701.4,338.8 701.7,338.7 702.0,338.3 702.2,340.5 702.5,337.2 702.8,341.0 703.1,340.1 703.4,340.6" stroke="#0303fc" stroke-width="3.0"/>
<polyline points="50.4,200.9 50.7,199.8 51.0,198.9 51.2,198.0 51.5,197.2 51.8,196.5 52.1,195.8 52.4,195.2 52.6,194.7 52.9,194.1 53.2,193.7 53.5,193.2 53.8,192.8 54.0,192.4 54.3,192.1 54.6,191.7 54.9,191.3 55.2,191.0 55.4,190.7 55.7,190.4 56.0,190.1 56.3,189.8 56.6,189.5 56.8,189.3 57.1,189.0 57.4,188.8 57.7,188.6 58.0,188.3 58.2,188.1 58.5,187.9 58.8,187.7 59.1,187.4 59.4,187.2 59.6,187.0 59.9,186.8 60.2,186.6 60.5,186.4 60.8,186.2 61.0,186.1 61.3,185.9 61.6,185.7 61.9,185.6 62.2,185.4 62.4,185.2 62.7,185.1 63.0,184.9 63.3,184.8 63.6,184.6 63.8,184.4 64.1,184.3 64.4,184.1 64.7,184.0 65.0,183.9 65.2,183.7 65.5,183.6 65.8,183.4 66.1,183.3 66.4,183.2 66.6,183.0 66.9,182.9 67.2,182.8 67.5,182.7 67.8,182.5 68.0,182.4 68.3,182.3 68.6,182.2 68.9,182.1 69.2,182.0 69.4,181.9 69.7,181.8 70.0,181.7 70.3,181.6 70.6,181.5 70.8,181.4 71.1,181.3 71.4,181.2 71.7,181.1 72.0,181.0 72.2,180.9 72.5,180.8 72.8,180.7 73.1,180.6 73.4,180.5 73.6,180.4 73.9,180.4 74.2,180.3 74.5,180.2 74.8,180.1 75.0,180.1 75.3,180.0 75.6,179.9 75.9,179.8 76.2,179.8 76.4,179.7 76.7,179.6 77.0,179.5 77.3,179.5 77.6,179.4 77.8,179.3 78.1,179.3 78.4,179.2 78.7,179.1 79.0,179.1 79.2,179.0 79.5,179.0 79.8,178.9 80.1,178.8 80.4,178.8 80.6,178.7 80.9,178.7 81.2,178.6 81.5,178.5 81.8,178.5 82.0,178.4 82.3,178.4 82.6,178.3 82.9,178.3 83.2,178.2 83.4,178.2 83.7,178.1 84.0,178.1 84.3,178.1 84.6,178.0 84.8,178.0 85.1,177.9 85.4,177.9 85.7,177.8 86.0,177.8 86.2,177.8 86.5,177.7 86.8,177.7 87.1,177.7 87.4,177.6 87.6,177.6 87.9,177.6 88.2,177.5 88.5,177.5 88.8,177.5 89.0,177.4 89.3,177.4 89.6,177.4 89.9,177.4 90.2,177.3 90.4,177.3 90.7,177.3 91.0,177.3 91.3,177.2 91.6,177.2 91.8,177.2 92.1,177.2 92.4,177.2 92.7,177.1 93.0,177.1 93.2,177.1 93.5,177.1 93.8,177.1 94.1,177.1 94.4,177.1 94.6,177.1 94.9,177.0 95.2,177.0 95.5,177.0 95.8,177.0 96.0,177.0 96.3,177.0 96.6,177.0 96.9,177.0 97.2,177.0 97.4,177.1 97.7,177.1 98.0,177.1 98.3,177.1 98.6,177.1 98.8,177.1 99.1,177.1 99.4,177.1 99.7,177.2 100.0,177.2 100.2,177.2 100.5,177.2 100.8,177.3 101.1,177.3 101.4,177.3 101.6,177.4 101.9,177.4 102.2,177.4 102.5,177.5 102.8,177.6 103.0,177.6 103.3,177.7 103.6,177.8 103.9,177.8 104.2,177.9 104.4,178.0 104.7,178.1 105.0,178.2 105.3,178.3 105.6,178.4 105.8,178.5 106.1,178.6 106.4,178.7 106.7,178.8 107.0,178.9 107.2,179.1 107.5,179.3 107.8,179.5 108.1,179.7 108.4,179.9 108.6,180.2 108.9,180.5 109.2,180.8 109.5,181.1 109.8,181.5 110.0,181.9 110.3,182.3 110.6,182.8 110.9,183.3 111.2,183.9 111.4,184.5 111.7,185.1 112.0,185.9 112.3,186.6 112.6,187.4 112.8,188.3 113.1,189.1 113.4,190.1 113.7,191.1 114.0,192.1 114.2,193.2 114.5,194.4 114.8,195.7 115.1,197.0 115.4,198.4 115.6,199.9 115.9,201.5 116.2,203.3 116.5,205.2 116.8,206.8 117.0,207.9 117.3,208.4 117.6,208.5 117.9,208.2 118.2,207.5 118.4,206.6 118.7,205.6 119.0,204.6 119.3,203.5 119.6,202.4 119.8,201.3 120.1,200.4 120.4,199.7 120.7,198.9 121.0,198.3 121.2,197.7 121.5,197.1 121.8,196.6 122.1,196.1 122.4,195.7 122.6,195.2 122.9,194.8 123.2,194.4 123.5,194.0 123.8,193.7 124.0,193.4 124.3,193.1 124.6,192.8 124.9,192.6 125.2,192.4 125.4,192.2 125.7,192.1 126.0,192.0 126.3,191.9 126.6,191.9 126.8,191.8 127.1,191.8 127.4,191.9 127.7,191.9 128.0,192.0 128.2,192.1 128.5,192.2 128.8,192.3 129.1,192.5 129.4,192.6 129.6,192.8 129.9,192.9 130.2,193.1 130.5,193.3 130.8,193.5 131.0,193.7 131.3,193.9 131.6,194.2 131.9,194.4 132.2,194.7 132.4,194.9 132.7,195.2 133.0,195.5 133.3,195.8 133.6,196.1 133.8,196.4 134.1,196.7 134.4,197.1 134.7,197.4 135.0,197.7 135.2,198.0 135.5,198.4 135.8,198.7 136.1,199.0 136.4,199.3 136.6,199.7 136.9,200.0 137.2,200.3 137.5,200.6 137.8,200.9 138.0,201.3 138.3,201.6 138.6,201.8 138.9,202.1 139.2,202.4 139.4,202.7 139.7,203.0 140.0,203.2 140.3,203.5 140.6,203.7 140.8,204.0 141.1,204.2 141.4,204.5 141.7,204.7 142.0,204.9 142.2,205.2 142.5,205.4 142.8,205.6 143.1,205.8 143.4,206.0 143.6,206.2 143.9,206.4 144.2,206.5 144.5,206.7 144.8,206.8 145.0,207.0 145.3,207.1 145.6,207.2 145.9,207.4 146.2,207.5 146.4,207.6 146.7,207.7 147.0,207.9 147.3,208.0 147.6,208.1 147.8,208.2 148.1,208.4 148.4,208.5 148.7,208.7 149.0,208.9 149.2,209.1 149.5,209.3 149.8,209.5 150.1,209.7 150.4,210.0 150.6,210.2 150.9,210.5 151.2,210.8 151.5,211.1 151.8,211.4 152.0,211.7 152.3,212.1 152.6,212.4 152.9,212.8 153.2,213.2 153.4,213.7 153.7,214.1 154.0,214.6 154.3,215.1 154.6,215.7 154.8,216.2 155.1,216.8 155.4,217.4 155.7,218.0 156.0,218.7 156.2,219.3 156.5,220.0 156.8,220.7 157.1,221.5 157.4,222.2 157.6,223.0 157.9,223.8 158.2,224.6 158.5,225.4 158.8,226.3 159.0,227.1 159.3,228.0 159.6,228.8 159.9,229.6 160.2,230.5 160.4,231.3 160.7,232.2 161.0,233.0 161.3,233.8 161.6,234.5 161.8,235.0 162.1,235.3 162.4,235.5 162.7,235.4 163.0,235.2 163.2,234.9 163.5,234.4 163.8,233.9 164.1,233.3 164.4,232.7 164.6,232.1 164.9,231.4 165.2,230.8 165.5,230.2 165.8,229.6 166.0,229.0 166.3,228.4 166.6,227.8 166.9,227.2 167.2,226.7 167.4,226.1 167.7,225.6 168.0,225.1 168.3,224.6 168.6,224.1 168.8,223.6 169.1,223.2 169.4,222.7 169.7,222.3 170.0,222.0 170.2,221.6 170.5,221.3 170.8,221.0 171.1,220.7 171.4,220.4 171.6,220.2 171.9,219.9 172.2,219.7 172.5,219.5 172.8,219.3 173.0,219.1 173.3,219.0 173.6,218.8 173.9,218.7 174.2,218.6 174.4,218.5 174.7,218.4 175.0,218.4 175.3,218.3 175.6,218.3 175.8,218.3 176.1,218.2 176.4,218.3 176.7,218.3 177.0,218.3 177.2,218.3 177.5,218.4 177.8,218.5 178.1,218.6 178.4,218.7 178.6,218.8 178.9,218.9 179.2,219.1 179.5,219.2 179.8,219.4 180.0,219.6 180.3,219.9 180.6,220.1 180.9,220.4 181.2,220.7 181.4,221.0 181.7,221.3 182.0,221.6 182.3,222.0 182.6,222.4 182.8,222.7 183.1,223.2 183.4,223.6 183.7,224.0 184.0,224.5 184.2,224.9 184.5,225.4 184.8,225.9 185.1,226.4 185.4,227.0 185.6,227.5 185.9,228.1 186.2,228.6 186.5,229.2 186.8,229.8 187.0,230.4 187.3,231.0 187.6,231.7 187.9,232.3 188.2,232.9 188.4,233.5 188.7,234.1 189.0,234.8 189.3,235.4 189.6,236.1 189.8,236.7 190.1,237.4 190.4,238.0 190.7,238.7 191.0,239.3 191.2,240.0 191.5,240.6 191.8,241.3 192.1,242.0 192.4,242.7 192.6,243.3 192.9,244.0 193.2,244.7 193.5,245.3 193.8,246.0 194.0,246.6 194.3,247.3 194.6,247.9 194.9,248.5 195.2,249.1 195.4,249.7 195.7,250.2 196.0,250.6 196.3,251.0 196.6,251.2 196.8,251.3 197.1,251.2 197.4,251.0 197.7,250.7 198.0,250.4 198.2,250.1 198.5,249.7 198.8,249.3 199.1,248.9 199.4,248.5 199.6,248.0 199.9,247.6 200.2,247.2 200.5,246.8 200.8,246.5 201.0,246.1 201.3,245.8 201.6,245.4 201.9,245.1 202.2,244.8 202.4,244.5 202.7,244.2 203.0,243.9 203.3,243.7 203.6,243.4 203.8,243.2 204.1,243.0 204.4,242.8 204.7,242.6 205.0,242.4 205.2,242.3 205.5,242.2 205.8,242.1 206.1,242.1 206.4,242.0 206.6,242.0 206.9,242.0 207.2,242.0 207.5,242.0 207.8,242.0 208.0,242.1 208.3,242.1 208.6,242.2 208.9,242.4 209.2,242.5 209.4,242.7 209.7,242.9 210.0,243.2 210.3,243.5 210.6,243.9 210.8,244.3 211.1,244.8 211.4,245.3 211.7,245.9 212.0,246.5 212.2,247.1 212.5,247.8 212.8,248.5 213.1,249.2 213.4,249.9 213.6,250.6 213.9,251.3 214.2,252.0 214.5,252.6 214.8,253.2 215.0,253.8 215.3,254.3 215.6,254.8 215.9,255.2 216.2,255.6 216.4,256.1 216.7,256.8 217.0,257.5 217.3,258.4 217.6,259.3 217.8,260.2 218.1,261.2 218.4,262.2 218.7,263.2 219.0,264.2 219.2,265.3 219.5,266.3 219.8,267.4 220.1,268.4 220.4,269.5 220.6,270.5 220.9,271.5 221.2,272.4 221.5,273.4 221.8,274.3 222.0,275.1 222.3,275.9 222.6,276.4 222.9,276.7 223.2,276.4 223.4,275.8 223.7,274.9 224.0,273.9 224.3,272.8 224.6,271.7 224.8,270.5 225.1,269.3 225.4,268.1 225.7,267.0 226.0,265.8 226.2,264.7 226.5,263.7 226.8,262.6 227.1,261.6 227.4,260.6 227.6,259.6 227.9,258.6 228.2,257.7 228.5,256.8 228.8,255.9 229.0,255.1 229.3,254.4 229.6,253.7 229.9,253.1 230.2,252.5 230.4,252.0 230.7,251.5 231.0,251.0 231.3,250.5 231.6,250.1 231.8,249.7 232.1,249.3 232.4,249.0 232.7,248.6 233.0,248.3 233.2,248.0 233.5,247.7 233.8,247.4 234.1,247.2 234.4,246.9 234.6,246.7 234.9,246.5 235.2,246.3 235.5,246.2 235.8,246.0 236.0,245.9 236.3,245.7 236.6,245.6 236.9,245.5 237.2,245.5 237.4,245.4 237.7,245.3 238.0,245.3 238.3,245.3 238.6,245.3 238.8,245.3 239.1,245.3 239.4,245.3 239.7,245.4 240.0,245.4 240.2,245.5 240.5,245.6 240.8,245.8 241.1,245.9 241.4,246.1 241.6,246.2 241.9,246.4 242.2,246.6 242.5,246.9 242.8,247.1 243.0,247.4 243.3,247.7 243.6,248.0 243.9,248.3 244.2,248.7 244.4,249.1 244.7,249.5 245.0,249.9 245.3,250.4 245.6,250.9 245.8,251.4 246.1,252.0 246.4,252.6 246.7,253.1 247.0,253.8 247.2,254.4 247.5,255.0 247.8,255.6 248.1,256.3 248.4,257.0 248.6,257.6 248.9,258.3 249.2,258.9 249.5,259.6 249.8,260.2 250.0,260.9 250.3,261.5 250.6,262.2 250.9,262.8 251.2,263.4 251.4,264.0 251.7,264.6 252.0,265.2 252.3,265.8 252.6,266.3 252.8,266.9 253.1,267.4 253.4,268.0 253.7,268.5 254.0,269.0 254.2,269.5 254.5,270.0 254.8,270.5 255.1,271.0 255.4,271.4 255.6,271.7 255.9,272.0 256.2,272.3 256.5,272.4 256.8,272.5 257.0,272.5 257.3,272.4 257.6,272.3 257.9,272.1 258.2,271.8 258.4,271.5 258.7,271.2 259.0,270.9 259.3,270.5 259.6,270.1 259.8,269.7 260.1,269.3 260.4,268.9 260.7,268.5 261.0,268.1 261.2,267.6 261.5,267.2 261.8,266.8 262.1,266.3 262.4,265.9 262.6,265.5 262.9,265.1 263.2,264.7 263.5,264.3 263.8,263.9 264.0,263.6 264.3,263.2 264.6,262.9 264.9,262.6 265.2,262.3 265.4,262.0 265.7,261.8 266.0,261.6 266.3,261.4 266.6,261.2 266.8,261.1 267.1,260.9 267.4,260.8 267.7,260.7 268.0,260.6 268.2,260.6 268.5,260.5 268.8,260.5 269.1,260.5 269.4,260.5 269.6,260.5 269.9,260.6 270.2,260.6 270.5,260.7 270.8,260.8 271.0,260.9 271.3,261.1 271.6,261.2 271.9,261.4 272.2,261.6 272.4,261.8 272.7,262.0 273.0,262.3 273.3,262.5 273.6,262.8 273.8,263.1 274.1,263.4 274.4,263.7 274.7,264.0 275.0,264.3 275.2,264.7 275.5,265.0 275.8,265.4 276.1,265.7 276.4,266.1 276.6,266.5 276.9,266.8 277.2,267.2 277.5,267.6 277.8,268.0 278.0,268.4 278.3,268.9 278.6,269.3 278.9,269.7 279.2,270.2 279.4,270.6 279.7,271.1 280.0,271.5 280.3,272.0 280.6,272.4 280.8,272.9 281.1,273.3 281.4,273.7 281.7,274.1 282.0,274.4 282.2,274.8 282.5,275.1 282.8,275.4 283.1,275.6 283.4,275.7 283.6,275.7 283.9,275.6 284.2,275.3 284.5,275.0 284.8,274.7 285.0,274.3 285.3,274.0 285.6,273.5 285.9,273.1 286.2,272.6 286.4,272.2 286.7,271.7 287.0,271.2 287.3,270.8 287.6,270.3 287.8,269.9 288.1,269.4 288.4,269.0 288.7,268.5 289.0,268.1 289.2,267.7 289.5,267.3 289.8,266.8 290.1,266.4 290.4,266.0 290.6,265.6 290.9,265.2 291.2,264.8 291.5,264.4 291.8,264.1 292.0,263.7 292.3,263.3 292.6,263.0 292.9,262.7 293.2,262.4 293.4,262.1 293.7,261.8 294.0,261.5 294.3,261.2 294.6,261.0 294.8,260.8 295.1,260.5 295.4,260.3 295.7,260.1 296.0,259.9 296.2,259.7 296.5,259.5 296.8,259.4 297.1,259.2 297.4,259.0 297.6,258.9 297.9,258.8 298.2,258.7 298.5,258.5 298.8,258.5 299.0,258.4 299.3,258.3 299.6,258.3 299.9,258.2 300.2,258.2 300.4,258.2 300.7,258.2 301.0,258.2 301.3,258.2 301.6,258.3 301.8,258.3 302.1,258.4 302.4,258.5 302.7,258.6 303.0,258.7 303.2,258.8 303.5,259.0 303.8,259.1 304.1,259.3 304.4,259.4 304.6,259.6 304.9,259.8 305.2,260.0 305.5,260.3 305.8,260.5 306.0,260.8 306.3,261.0 306.6,261.3 306.9,261.5 307.2,261.8 307.4,262.1 307.7,262.4 308.0,262.7 308.3,263.0 308.6,263.3 308.8,263.7 309.1,264.0 309.4,264.4 309.7,264.7 310.0,265.1 310.2,265.5 310.5,265.9 310.8,266.3 311.1,266.8 311.4,267.2 311.6,267.6 311.9,268.1 312.2,268.6 312.5,269.0 312.8,269.5 313.0,270.0 313.3,270.5 313.6,271.0 313.9,271.5 314.2,272.0 314.4,272.5 314.7,273.0 315.0,273.6 315.3,274.1 315.6,274.6 315.8,275.2 316.1,275.7 316.4,276.3 316.7,276.9 317.0,277.4 317.2,278.0 317.5,278.6 317.8,279.1 318.1,279.7 318.4,280.3 318.6,280.8 318.9,281.4 319.2,281.9 319.5,282.5 319.8,283.0 320.0,283.5 320.3,284.0 320.6,284.4 320.9,284.8 321.2,285.2 321.4,285.5 321.7,285.7 322.0,285.8 322.3,285.8 322.6,285.7 322.8,285.6 323.1,285.4 323.4,285.2 323.7,284.9 324.0,284.6 324.2,284.3 324.5,284.0 324.8,283.7 325.1,283.3 325.4,283.0 325.6,282.6 325.9,282.3 326.2,282.0 326.5,281.6 326.8,281.3 327.0,281.0 327.3,280.7 327.6,280.3 327.9,280.0 328.2,279.7 328.4,279.4 328.7,279.2 329.0,278.9 329.3,278.6 329.6,278.4 329.8,278.1 330.1,277.9 330.4,277.7 330.7,277.5 331.0,277.4 331.2,277.3 331.5,277.2 331.8,277.1 332.1,277.0 332.4,277.0 332.6,277.0 332.9,276.9 333.2,276.9 333.5,277.0 333.8,277.0 334.0,277.0 334.3,277.0 334.6,277.1 334.9,277.1 335.2,277.2 335.4,277.3 335.7,277.4 336.0,277.6 336.3,277.7 336.6,277.9 336.8,278.1 337.1,278.3 337.4,278.6 337.7,278.8 338.0,279.1 338.2,279.5 338.5,279.9 338.8,280.3 339.1,280.7 339.4,281.1 339.6,281.6 339.9,282.1 340.2,282.6 340.5,283.1 340.8,283.6 341.0,284.2 341.3,284.8 341.6,285.4 341.9,286.0 342.2,286.6 342.4,287.2 342.7,287.9 343.0,288.5 343.3,289.2 343.6,289.9 343.8,290.5 344.1,291.2 344.4,291.9 344.7,292.5 345.0,293.2 345.2,293.8 345.5,294.5 345.8,295.1 346.1,295.7 346.4,296.3 346.6,296.9 346.9,297.4 347.2,297.9 347.5,298.4 347.8,298.9 348.0,299.4 348.3,299.8 348.6,300.3 348.9,300.7 349.2,301.1 349.4,301.4 349.7,301.5 350.0,301.5 350.3,301.2 350.6,300.7 350.8,300.2 351.1,299.5 351.4,298.8 351.7,298.1 352.0,297.3 352.2,296.5 352.5,295.7 352.8,294.9 353.1,294.0 353.4,293.2 353.6,292.4 353.9,291.6 354.2,290.9 354.5,290.1 354.8,289.3 355.0,288.6 355.3,287.9 355.6,287.1 355.9,286.5 356.2,285.8 356.4,285.1 356.7,284.5 357.0,283.9 357.3,283.4 357.6,282.9 357.8,282.5 358.1,282.0 358.4,281.7 358.7,281.3 359.0,281.0 359.2,280.6 359.5,280.4 359.8,280.1 360.1,279.8 360.4,279.6 360.6,279.3 360.9,279.1 361.2,278.9 361.5,278.7 361.8,278.5 362.0,278.3 362.3,278.2 362.6,278.1 362.9,277.9 363.2,277.8 363.4,277.7 363.7,277.7 364.0,277.6 364.3,277.5 364.6,277.5 364.8,277.5 365.1,277.5 365.4,277.5 365.7,277.6 366.0,277.6 366.2,277.7 366.5,277.7 366.8,277.9 367.1,278.0 367.4,278.1 367.6,278.3 367.9,278.5 368.2,278.7 368.5,278.9 368.8,279.2 369.0,279.5 369.3,279.8 369.6,280.1 369.9,280.5 370.2,280.9 370.4,281.3 370.7,281.7 371.0,282.1 371.3,282.6 371.6,283.1 371.8,283.5 372.1,284.0 372.4,284.5 372.7,285.1 373.0,285.6 373.2,286.1 373.5,286.7 373.8,287.3 374.1,287.9 374.4,288.5 374.6,289.1 374.9,289.7 375.2,290.3 375.5,290.9 375.8,291.6 376.0,292.2 376.3,292.9 376.6,293.5 376.9,294.2 377.2,294.8 377.4,295.5 377.7,296.1 378.0,296.7 378.3,297.4 378.6,298.0 378.8,298.6 379.1,299.2 379.4,299.8 379.7,300.4 380.0,300.9 380.2,301.4 380.5,302.0 380.8,302.5 381.1,302.9 381.4,303.4 381.6,303.9 381.9,304.3 382.2,304.7 382.5,305.1 382.8,305.6 383.0,306.0 383.3,306.3 383.6,306.7 383.9,307.1 384.2,307.4 384.4,307.7 384.7,307.8 385.0,307.7 385.3,307.5 385.6,307.1 385.8,306.6 386.1,306.1 386.4,305.5 386.7,304.9 387.0,304.3 387.2,303.7 387.5,303.0 387.8,302.4 388.1,301.7 388.4,301.1 388.6,300.5 388.9,299.9 389.2,299.3 389.5,298.7 389.8,298.1 390.0,297.6 390.3,297.0 390.6,296.5 390.9,296.0 391.2,295.6 391.4,295.2 391.7,294.8 392.0,294.4 392.3,294.1 392.6,293.8 392.8,293.5 393.1,293.3 393.4,293.0 393.7,292.8 394.0,292.5 394.2,292.3 394.5,292.1 394.8,291.8 395.1,291.6 395.4,291.4 395.6,291.2 395.9,291.0 396.2,290.8 396.5,290.6 396.8,290.5 397.0,290.3 397.3,290.2 397.6,290.1 397.9,290.0 398.2,289.9 398.4,289.8 398.7,289.7 399.0,289.7 399.3,289.7 399.6,289.7 399.8,289.7 400.1,289.7 400.4,289.7 400.7,289.8 401.0,289.8 401.2,289.9 401.5,290.0 401.8,290.1 402.1,290.2 402.4,290.4 402.6,290.5 402.9,290.7 403.2,290.8 403.5,291.0 403.8,291.2 404.0,291.4 404.3,291.6 404.6,291.9 404.9,292.1 405.2,292.4 405.4,292.7 405.7,293.0 406.0,293.3 406.3,293.6 406.6,294.0 406.8,294.3 407.1,294.6 407.4,295.0 407.7,295.3 408.0,295.7 408.2,296.1 408.5,296.4 408.8,296.8 409.1,297.2 409.4,297.6 409.6,297.9 409.9,298.3 410.2,298.7 410.5,299.1 410.8,299.4 411.0,299.8 411.3,300.2 411.6,300.6 411.9,301.0 412.2,301.3 412.4,301.6 412.7,301.9 413.0,302.1 413.3,302.3 413.6,302.4 413.8,302.5 414.1,302.5 414.4,302.4 414.7,302.3 415.0,302.1 415.2,301.9 415.5,301.6 415.8,301.3 416.1,301.0 416.4,300.6 416.6,300.3 416.9,299.9 417.2,299.5 417.5,299.1 417.8,298.7 418.0,298.4 418.3,298.0 418.6,297.6 418.9,297.3 419.2,296.9 419.4,296.5 419.7,296.1 420.0,295.8 420.3,295.4 420.6,295.1 420.8,294.7 421.1,294.4 421.4,294.0 421.7,293.7 422.0,293.4 422.2,293.1 422.5,292.7 422.8,292.4 423.1,292.2 423.4,291.9 423.6,291.6 423.9,291.4 424.2,291.1 424.5,290.9 424.8,290.6 425.0,290.4 425.3,290.2 425.6,290.0 425.9,289.8 426.2,289.6 426.4,289.5 426.7,289.3 427.0,289.1 427.3,289.0 427.6,288.8 427.8,288.7 428.1,288.6 428.4,288.5 428.7,288.4 429.0,288.3 429.2,288.2 429.5,288.2 429.8,288.1 430.1,288.1 430.4,288.0 430.6,288.0 430.9,288.0 431.2,288.0 431.5,288.0 431.8,288.0 432.0,288.0 432.3,288.1 432.6,288.1 432.9,288.2 433.2,288.3 433.4,288.3 433.7,288.4 434.0,288.5 434.3,288.6 434.6,288.8 434.8,288.9 435.1,289.1 435.4,289.2 435.7,289.4 436.0,289.6 436.2,289.8 436.5,290.0 436.8,290.2 437.1,290.5 437.4,290.7 437.6,291.0 437.9,291.3 438.2,291.6 438.5,291.9 438.8,292.2 439.0,292.6 439.3,292.9 439.6,293.3 439.9,293.7 440.2,294.1 440.4,294.5 440.7,295.0 441.0,295.4 441.3,295.9 441.6,296.4 441.8,296.8 442.1,297.4 442.4,297.9 442.7,298.4 443.0,299.0 443.2,299.5 443.5,300.1 443.8,300.7 444.1,301.3 444.4,301.8 444.6,302.4 444.9,303.0 445.2,303.6 445.5,304.2 445.8,304.8 446.0,305.3 446.3,305.9 446.6,306.4 446.9,307.0 447.2,307.5 447.4,308.1 447.7,308.6 448.0,309.1 448.3,309.5 448.6,310.0 448.8,310.4 449.1,310.8 449.4,311.2 449.7,311.5 450.0,311.8 450.2,312.0 450.5,312.2 450.8,312.3 451.1,312.3 451.4,312.2 451.6,312.1 451.9,312.0 452.2,311.8 452.5,311.5 452.8,311.2 453.0,310.9 453.3,310.6 453.6,310.2 453.9,309.9 454.2,309.5 454.4,309.1 454.7,308.7 455.0,308.3 455.3,307.9 455.6,307.5 455.8,307.1 456.1,306.7 456.4,306.4 456.7,306.0 457.0,305.7 457.2,305.4 457.5,305.1 457.8,304.8 458.1,304.5 458.4,304.2 458.6,303.9 458.9,303.7 459.2,303.4 459.5,303.2 459.8,302.9 460.0,302.7 460.3,302.5 460.6,302.3 460.9,302.1 461.2,301.9 461.4,301.7 461.7,301.6 462.0,301.4 462.3,301.3 462.6,301.1 462.8,301.0 463.1,300.9 463.4,300.9 463.7,300.8 464.0,300.8 464.2,300.7 464.5,300.7 464.8,300.7 465.1,300.7 465.4,300.8 465.6,300.8 465.9,300.9 466.2,301.0 466.5,301.1 466.8,301.2 467.0,301.3 467.3,301.4 467.6,301.6 467.9,301.8 468.2,301.9 468.4,302.1 468.7,302.4 469.0,302.6 469.3,302.8 469.6,303.1 469.8,303.3 470.1,303.6 470.4,303.9 470.7,304.2 471.0,304.5 471.2,304.9 471.5,305.2 471.8,305.6 472.1,305.9 472.4,306.3 472.6,306.6 472.9,307.0 473.2,307.4 473.5,307.7 473.8,308.1 474.0,308.5 474.3,308.8 474.6,309.2 474.9,309.5 475.2,309.9 475.4,310.2 475.7,310.6 476.0,310.9 476.3,311.2 476.6,311.5 476.8,311.8 477.1,312.1 477.4,312.4 477.7,312.7 478.0,312.9 478.2,313.2 478.5,313.4 478.8,313.6 479.1,313.7 479.4,313.9 479.6,314.0 479.9,314.2 480.2,314.2 480.5,314.3 480.8,314.3 481.0,314.3 481.3,314.2 481.6,314.2 481.9,314.0 482.2,313.9 482.4,313.7 482.7,313.6 483.0,313.4 483.3,313.1 483.6,312.9 483.8,312.6 484.1,312.4 484.4,312.1 484.7,311.8 485.0,311.5 485.2,311.2 485.5,310.9 485.8,310.6 486.1,310.3 486.4,309.9 486.6,309.6 486.9,309.3 487.2,309.0 487.5,308.6 487.8,308.3 488.0,308.0 488.3,307.7 488.6,307.4 488.9,307.1 489.2,306.8 489.4,306.6 489.7,306.3 490.0,306.1 490.3,305.8 490.6,305.6 490.8,305.3 491.1,305.1 491.4,304.9 491.7,304.7 492.0,304.5 492.2,304.3 492.5,304.1 492.8,303.9 493.1,303.8 493.4,303.6 493.6,303.4 493.9,303.3 494.2,303.2 494.5,303.0 494.8,302.9 495.0,302.8 495.3,302.7 495.6,302.7 495.9,302.6 496.2,302.6 496.4,302.5 496.7,302.5 497.0,302.5 497.3,302.5 497.6,302.5 497.8,302.5 498.1,302.5 498.4,302.6 498.7,302.6 499.0,302.7 499.2,302.7 499.5,302.8 499.8,302.9 500.1,303.0 500.4,303.1 500.6,303.3 500.9,303.4 501.2,303.6 501.5,303.8 501.8,304.0 502.0,304.3 502.3,304.5 502.6,304.8 502.9,305.1 503.2,305.5 503.4,305.8 503.7,306.2 504.0,306.6 504.3,307.0 504.6,307.3 504.8,307.8 505.1,308.2 505.4,308.6 505.7,309.0 506.0,309.5 506.2,309.9 506.5,310.4 506.8,310.9 507.1,311.4 507.4,311.8 507.6,312.3 507.9,312.8 508.2,313.3 508.5,313.8 508.8,314.3 509.0,314.8 509.3,315.3 509.6,315.8 509.9,316.3 510.2,316.8 510.4,317.3 510.7,317.9 511.0,318.3 511.3,318.8 511.6,319.3 511.8,319.8 512.1,320.3 512.4,320.7 512.7,321.1 513.0,321.6 513.2,322.0 513.5,322.3 513.8,322.7 514.1,322.9 514.4,323.2 514.6,323.4 514.9,323.6 515.2,323.7 515.5,323.7 515.8,323.7 516.0,323.7 516.3,323.6 516.6,323.5 516.9,323.3 517.2,323.1 517.4,322.9 517.7,322.6 518.0,322.4 518.3,322.1 518.6,321.8 518.8,321.4 519.1,321.1 519.4,320.8 519.7,320.4 520.0,320.0 520.2,319.7 520.5,319.3 520.8,318.9 521.1,318.5 521.4,318.2 521.6,317.8 521.9,317.4 522.2,317.0 522.5,316.7 522.8,316.3 523.0,316.0 523.3,315.7 523.6,315.4 523.9,315.1 524.2,314.9 524.4,314.6 524.7,314.4 525.0,314.2 525.3,314.0 525.6,313.8 525.8,313.6 526.1,313.4 526.4,313.3 526.7,313.2 527.0,313.0 527.2,312.9 527.5,312.8 527.8,312.7 528.1,312.7 528.4,312.6 528.6,312.5 528.9,312.5 529.2,312.5 529.5,312.5 529.8,312.5 530.0,312.5 530.3,312.5 530.6,312.5 530.9,312.5 531.2,312.5 531.4,312.5 531.7,312.6 532.0,312.6 532.3,312.6 532.6,312.7 532.8,312.7 533.1,312.8 533.4,312.8 533.7,312.9 534.0,312.9 534.2,313.0 534.5,313.1 534.8,313.2 535.1,313.3 535.4,313.4 535.6,313.6 535.9,313.7 536.2,313.9 536.5,314.0 536.8,314.2 537.0,314.5 537.3,314.7 537.6,314.9 537.9,315.2 538.2,315.4 538.4,315.7 538.7,316.0 539.0,316.3 539.3,316.6 539.6,316.9 539.8,317.2 540.1,317.5 540.4,317.7 540.7,318.0 541.0,318.3 541.2,318.6 541.5,318.9 541.8,319.1 542.1,319.4 542.4,319.6 542.6,319.8 542.9,320.0 543.2,320.3 543.5,320.5 543.8,320.7 544.0,320.9 544.3,321.1 544.6,321.2 544.9,321.4 545.2,321.5 545.4,321.7 545.7,321.8 546.0,321.9 546.3,321.9 546.6,322.0 546.8,322.0 547.1,322.0 547.4,322.0 547.7,321.9 548.0,321.9 548.2,321.8 548.5,321.7 548.8,321.6 549.1,321.5 549.4,321.4 549.6,321.2 549.9,321.1 550.2,320.9 550.5,320.7 550.8,320.5 551.0,320.4 551.3,320.2 551.6,320.0 551.9,319.8 552.2,319.6 552.4,319.4 552.7,319.2 553.0,318.9 553.3,318.7 553.6,318.5 553.8,318.3 554.1,318.0 554.4,317.8 554.7,317.6 555.0,317.4 555.2,317.2 555.5,316.9 555.8,316.7 556.1,316.5 556.4,316.3 556.6,316.1 556.9,316.0 557.2,315.8 557.5,315.6 557.8,315.5 558.0,315.3 558.3,315.2 558.6,315.1 558.9,315.0 559.2,314.9 559.4,314.8 559.7,314.7 560.0,314.6 560.3,314.6 560.6,314.5 560.8,314.5 561.1,314.5 561.4,314.5 561.7,314.5 562.0,314.5 562.2,314.5 562.5,314.5 562.8,314.6 563.1,314.6 563.4,314.7 563.6,314.7 563.9,314.8 564.2,314.9 564.5,315.0 564.8,315.1 565.0,315.3 565.3,315.4 565.6,315.6 565.9,315.7 566.2,315.9 566.4,316.1 566.7,316.3 567.0,316.5 567.3,316.8 567.6,317.0 567.8,317.3 568.1,317.5 568.4,317.8 568.7,318.1 569.0,318.3 569.2,318.6 569.5,318.9 569.8,319.2 570.1,319.4 570.4,319.7 570.6,320.0 570.9,320.3 571.2,320.6 571.5,320.9 571.8,321.2 572.0,321.5 572.3,321.7 572.6,322.0 572.9,322.3 573.2,322.6 573.4,322.9 573.7,323.2 574.0,323.5 574.3,323.8 574.6,324.1 574.8,324.4 575.1,324.7 575.4,325.0 575.7,325.3 576.0,325.6 576.2,325.9 576.5,326.1 576.8,326.4 577.1,326.7 577.4,327.0 577.6,327.2 577.9,327.5 578.2,327.7 578.5,328.0 578.8,328.2 579.0,328.4 579.3,328.6 579.6,328.8 579.9,329.0 580.2,329.1 580.4,329.2 580.7,329.3 581.0,329.3 581.3,329.4 581.6,329.4 581.8,329.3 582.1,329.3 582.4,329.2 582.7,329.1 583.0,329.0 583.2,328.9 583.5,328.7 583.8,328.6 584.1,328.4 584.4,328.2 584.6,328.0 584.9,327.8 585.2,327.6 585.5,327.4 585.8,327.2 586.0,327.0 586.3,326.7 586.6,326.5 586.9,326.3 587.2,326.1 587.4,325.8 587.7,325.6 588.0,325.3 588.3,325.1 588.6,324.9 588.8,324.6 589.1,324.4 589.4,324.2 589.7,324.0 590.0,323.7 590.2,323.5 590.5,323.3 590.8,323.1 591.1,322.9 591.4,322.8 591.6,322.6 591.9,322.4 592.2,322.3 592.5,322.2 592.8,322.0 593.0,321.9 593.3,321.8 593.6,321.7 593.9,321.6 594.2,321.5 594.4,321.5 594.7,321.4 595.0,321.4 595.3,321.3 595.6,321.3 595.8,321.3 596.1,321.2 596.4,321.2 596.7,321.2 597.0,321.3 597.2,321.3 597.5,321.3 597.8,321.3 598.1,321.4 598.4,321.5 598.6,321.5 598.9,321.6 599.2,321.7 599.5,321.8 599.8,321.9 600.0,322.0 600.3,322.1 600.6,322.3 600.9,322.4 601.2,322.6 601.4,322.8 601.7,322.9 602.0,323.1 602.3,323.3 602.6,323.5 602.8,323.7 603.1,323.9 603.4,324.1 603.7,324.3 604.0,324.6 604.2,324.8 604.5,325.0 604.8,325.2 605.1,325.4 605.4,325.6 605.6,325.8 605.9,326.1 606.2,326.3 606.5,326.5 606.8,326.7 607.0,326.9 607.3,327.0 607.6,327.2 607.9,327.4 608.2,327.6 608.4,327.8 608.7,327.9 609.0,328.1 609.3,328.2 609.6,328.4 609.8,328.5 610.1,328.7 610.4,328.8 610.7,328.9 611.0,329.0 611.2,329.2 611.5,329.3 611.8,329.4 612.1,329.5 612.4,329.5 612.6,329.6 612.9,329.7 613.2,329.7 613.5,329.7 613.8,329.7 614.0,329.8 614.3,329.7 614.6,329.7 614.9,329.7 615.2,329.7 615.4,329.6 615.7,329.6 616.0,329.5 616.3,329.4 616.6,329.3 616.8,329.2 617.1,329.1 617.4,329.0 617.7,328.9 618.0,328.8 618.2,328.7 618.5,328.5 618.8,328.4 619.1,328.3 619.4,328.1 619.6,328.0 619.9,327.9 620.2,327.8 620.5,327.7 620.8,327.6 621.0,327.5 621.3,327.4 621.6,327.3 621.9,327.2 622.2,327.2 622.4,327.1 622.7,327.1 623.0,327.0 623.3,327.0 623.6,326.9 623.8,326.9 624.1,326.8 624.4,326.8 624.7,326.8 625.0,326.8 625.2,326.8 625.5,326.8 625.8,326.8 626.1,326.8 626.4,326.8 626.6,326.8 626.9,326.8 627.2,326.8 627.5,326.8 627.8,326.8 628.0,326.9 628.3,326.9 628.6,327.0 628.9,327.1 629.2,327.1 629.4,327.2 629.7,327.3 630.0,327.5 630.3,327.6 630.6,327.7 630.8,327.9 631.1,328.1 631.4,328.3 631.7,328.5 632.0,328.7 632.2,328.9 632.5,329.1 632.8,329.3 633.1,329.5 633.4,329.8 633.6,330.0 633.9,330.2 634.2,330.5 634.5,330.7 634.8,331.0 635.0,331.2 635.3,331.4 635.6,331.7 635.9,331.9 636.2,332.1 636.4,332.4 636.7,332.6 637.0,332.8 637.3,333.0 637.6,333.3 637.8,333.5 638.1,333.7 638.4,333.9 638.7,334.1 639.0,334.3 639.2,334.6 639.5,334.8 639.8,335.0 640.1,335.1 640.4,335.3 640.6,335.5 640.9,335.7 641.2,335.9 641.5,336.0 641.8,336.2 642.0,336.3 642.3,336.4 642.6,336.5 642.9,336.6 643.2,336.7 643.4,336.8 643.7,336.9 644.0,336.9 644.3,337.0 644.6,337.0 644.8,337.0 645.1,337.0 645.4,337.0 645.7,337.0 646.0,337.0 646.2,337.0 646.5,336.9 646.8,336.9 647.1,336.8 647.4,336.8 647.6,336.7 647.9,336.6 648.2,336.6 648.5,336.5 648.8,336.4 649.0,336.3 649.3,336.2 649.6,336.1 649.9,336.0 650.2,335.9 650.4,335.7 650.7,335.6 651.0,335.5 651.3,335.4 651.6,335.2 651.8,335.1 652.1,335.0 652.4,334.8 652.7,334.7 653.0,334.5 653.2,334.4 653.5,334.2 653.8,334.1 654.1,333.9 654.4,333.8 654.6,333.6 654.9,333.5 655.2,333.4 655.5,333.2 655.8,333.1 656.0,333.0 656.3,332.9 656.6,332.8 656.9,332.7 657.2,332.6 657.4,332.5 657.7,332.4 658.0,332.3 658.3,332.3 658.6,332.2 658.8,332.2 659.1,332.1 659.4,332.1 659.7,332.1 660.0,332.0 660.2,332.0 660.5,332.0 660.8,332.0 661.1,332.0 661.4,332.0 661.6,332.0 661.9,332.0 662.2,332.1 662.5,332.1 662.8,332.2 663.0,332.2 663.3,332.3 663.6,332.3 663.9,332.4 664.2,332.5 664.4,332.6 664.7,332.7 665.0,332.8 665.3,332.9 665.6,333.0 665.8,333.2 666.1,333.3 666.4,333.5 666.7,333.6 667.0,333.8 667.2,333.9 667.5,334.1 667.8,334.3 668.1,334.4 668.4,334.6 668.6,334.8 668.9,335.0 669.2,335.1 669.5,335.3 669.8,335.5 670.0,335.7 670.3,335.8 670.6,336.0 670.9,336.2 671.2,336.3 671.4,336.5 671.7,336.7 672.0,336.8 672.3,337.0 672.6,337.1 672.8,337.3 673.1,337.4 673.4,337.6 673.7,337.7 674.0,337.8 674.2,338.0 674.5,338.1 674.8,338.2 675.1,338.4 675.4,338.5 675.6,338.6 675.9,338.7 676.2,338.8 676.5,338.9 676.8,339.0 677.0,339.1 677.3,339.2 677.6,339.3 677.9,339.3 678.2,339.4 678.4,339.4 678.7,339.5 679.0,339.5 679.3,339.6 679.6,339.6 679.8,339.6 680.1,339.6 680.4,339.6 680.7,339.5 681.0,339.5 681.2,339.5 681.5,339.4 681.8,339.4 682.1,339.3 682.4,339.2 682.6,339.2 682.9,339.1 683.2,339.0 683.5,339.0 683.8,338.9 684.0,338.8 684.3,338.7 684.6,338.6 684.9,338.6 685.2,338.5 685.4,338.4 685.7,338.3 686.0,338.2 686.3,338.2 686.6,338.1 686.8,338.0 687.1,338.0 687.4,337.9 687.7,337.8 688.0,337.7 688.2,337.7 688.5,337.6 688.8,337.5 689.1,337.5 689.4,337.4 689.6,337.4 689.9,337.3 690.2,337.3 690.5,337.2 690.8,337.2 691.0,337.1 691.3,337.1 691.6,337.1 691.9,337.0 692.2,337.0 692.4,337.0 692.7,337.0 693.0,337.0 693.3,337.0 693.6,337.0 693.8,337.1 694.1,337.1 694.4,337.1 694.7,337.2 695.0,337.3 695.2,337.3 695.5,337.4 695.8,337.5 696.1,337.6 696.4,337.7 696.6,337.8 696.9,337.9 697.2,338.0 697.5,338.1 697.8,338.2 698.0,338.3 698.3,338.4 698.6,338.6 698.9,338.7 699.2,338.8 699.4,338.9 699.7,339.1 700.0,339.2 700.3,339.4 700.6,339.5 700.8,339.7 701.1,339.8 701.4,340.0 701.7,340.1 702.0,340.3 702.2,340.5 702.5,340.6 702.8,340.8 703.1,341.0 703.4,341.2" stroke="#fc0208" stroke-width="2.2"/>
</g>
<rect x="50.40" y="176.40" width="653.90" height="165.60" fill="none" stroke="#2a2a2a" stroke-width="1"/>
<text x="26.80" y="181.50" textLength="15.2" lengthAdjust="spacingAndGlyphs" font-size="10.9" fill="#1c1c1c" stroke="#1c1c1c" stroke-width="0.25" font-family='"Liberation Sans", sans-serif'>10<tspan dy="-3.6" font-size="7.6">0</tspan></text>
<text x="19.40" y="210.90" textLength="22.6" lengthAdjust="spacingAndGlyphs" font-size="10.9" fill="#1c1c1c" stroke="#1c1c1c" stroke-width="0.25" font-family='"Liberation Sans", sans-serif'>10<tspan dy="-3.6" font-size="7.6">−1</tspan></text>
<text x="19.40" y="240.30" textLength="22.6" lengthAdjust="spacingAndGlyphs" font-size="10.9" fill="#1c1c1c" stroke="#1c1c1c" stroke-width="0.25" font-family='"Liberation Sans", sans-serif'>10<tspan dy="-3.6" font-size="7.6">−2</tspan></text>
<text x="19.40" y="269.70" textLength="22.6" lengthAdjust="spacingAndGlyphs" font-size="10.9" fill="#1c1c1c" stroke="#1c1c1c" stroke-width="0.25" font-family='"Liberation Sans", sans-serif'>10<tspan dy="-3.6" font-size="7.6">−3</tspan></text>
<text x="19.40" y="299.10" textLength="22.6" lengthAdjust="spacingAndGlyphs" font-size="10.9" fill="#1c1c1c" stroke="#1c1c1c" stroke-width="0.25" font-family='"Liberation Sans", sans-serif'>10<tspan dy="-3.6" font-size="7.6">−4</tspan></text>
<text x="19.40" y="328.50" textLength="22.6" lengthAdjust="spacingAndGlyphs" font-size="10.9" fill="#1c1c1c" stroke="#1c1c1c" stroke-width="0.25" font-family='"Liberation Sans", sans-serif'>10<tspan dy="-3.6" font-size="7.6">−5</tspan></text>
<path d="M50.40 176.70h-3.6 M50.40 197.25h-2 M50.40 192.07h-2 M50.40 188.40h-2 M50.40 185.55h-2 M50.40 183.22h-2 M50.40 181.25h-2 M50.40 179.55h-2 M50.40 178.05h-2 M50.40 206.10h-3.6 M50.40 226.65h-2 M50.40 221.47h-2 M50.40 217.80h-2 M50.40 214.95h-2 M50.40 212.62h-2 M50.40 210.65h-2 M50.40 208.95h-2 M50.40 207.45h-2 M50.40 235.50h-3.6 M50.40 256.05h-2 M50.40 250.87h-2 M50.40 247.20h-2 M50.40 244.35h-2 M50.40 242.02h-2 M50.40 240.05h-2 M50.40 238.35h-2 M50.40 236.85h-2 M50.40 264.90h-3.6 M50.40 285.45h-2 M50.40 280.27h-2 M50.40 276.60h-2 M50.40 273.75h-2 M50.40 271.42h-2 M50.40 269.45h-2 M50.40 267.75h-2 M50.40 266.25h-2 M50.40 294.30h-3.6 M50.40 314.85h-2 M50.40 309.67h-2 M50.40 306.00h-2 M50.40 303.15h-2 M50.40 300.82h-2 M50.40 298.85h-2 M50.40 297.15h-2 M50.40 295.65h-2 M50.40 323.70h-3.6 M50.40 339.07h-2 M50.40 335.40h-2 M50.40 332.55h-2 M50.40 330.22h-2 M50.40 328.25h-2 M50.40 326.55h-2 M50.40 325.05h-2 M169.00 342.00v3.5 M294.80 342.00v3.5 M420.60 342.00v3.5 M546.40 342.00v3.5 M672.20 342.00v3.5" stroke="#2a2a2a" stroke-width="1" fill="none"/>
<text transform="translate(10.90 259.50) rotate(-90)" text-anchor="middle" font-size="11" fill="#1c1c1c" font-family='"Liberation Sans", sans-serif' textLength="77" lengthAdjust="spacingAndGlyphs">Intensity [a.u.]</text>
<g clip-path="url(#cpc)" fill="none" stroke-linejoin="round" stroke-linecap="round">
<polyline points="51.4,414.8 51.7,414.0 52.0,413.4 52.2,412.7 52.5,412.1 52.8,411.5 53.1,410.8 53.4,410.3 53.6,409.7 53.9,409.2 54.2,408.8 54.5,408.3 54.8,408.0 55.0,407.8 55.3,407.3 55.6,407.2 55.9,406.9 56.2,406.4 56.4,406.3 56.7,406.3 57.0,405.7 57.3,405.5 57.6,405.2 57.8,404.9 58.1,404.6 58.4,404.4 58.7,404.2 59.0,403.7 59.2,403.6 59.5,403.2 59.8,403.1 60.1,402.8 60.4,402.5 60.6,402.3 60.9,402.0 61.2,401.8 61.5,401.8 61.8,401.3 62.0,401.3 62.3,401.2 62.6,400.9 62.9,400.9 63.2,400.7 63.4,400.3 63.7,400.4 64.0,400.2 64.3,400.0 64.6,399.9 64.8,399.8 65.1,399.6 65.4,399.3 65.7,399.4 66.0,399.2 66.2,399.0 66.5,399.0 66.8,398.7 67.1,398.8 67.4,398.8 67.6,398.3 67.9,398.5 68.2,398.3 68.5,398.3 68.8,398.1 69.0,398.2 69.3,398.0 69.6,397.9 69.9,397.7 70.2,397.7 70.4,397.8 70.7,397.5 71.0,397.6 71.3,397.5 71.6,397.2 71.8,397.4 72.1,397.2 72.4,397.4 72.7,397.3 73.0,397.0 73.2,397.0 73.5,396.8 73.8,396.7 74.1,396.8 74.4,396.7 74.6,396.6 74.9,396.6 75.2,396.6 75.5,396.5 75.8,396.4 76.0,396.3 76.3,396.3 76.6,396.5 76.9,396.1 77.2,396.1 77.4,396.2 77.7,396.2 78.0,396.3 78.3,396.2 78.6,396.3 78.8,396.0 79.1,396.1 79.4,396.0 79.7,396.1 80.0,396.0 80.2,396.0 80.5,395.9 80.8,395.9 81.1,395.8 81.4,395.7 81.6,395.7 81.9,395.6 82.2,395.7 82.5,395.6 82.8,395.6 83.0,395.3 83.3,395.2 83.6,395.2 83.9,395.2 84.2,395.2 84.4,395.2 84.7,395.2 85.0,395.1 85.3,395.0 85.6,394.9 85.8,394.7 86.1,394.8 86.4,394.7 86.7,394.6 87.0,394.7 87.2,394.6 87.5,394.6 87.8,394.4 88.1,394.2 88.4,394.4 88.6,394.3 88.9,394.2 89.2,394.1 89.5,394.1 89.8,394.3 90.0,394.0 90.3,394.1 90.6,394.0 90.9,394.0 91.2,393.8 91.4,393.9 91.7,394.0 92.0,393.9 92.3,393.8 92.6,393.7 92.8,393.6 93.1,393.9 93.4,393.6 93.7,393.5 94.0,393.8 94.2,393.5 94.5,393.7 94.8,393.7 95.1,393.6 95.4,393.7 95.6,393.4 95.9,393.4 96.2,393.5 96.5,393.4 96.8,393.3 97.0,393.3 97.3,393.2 97.6,393.0 97.9,393.2 98.2,393.0 98.4,393.1 98.7,393.2 99.0,392.9 99.3,392.9 99.6,392.7 99.8,392.9 100.1,392.8 100.4,392.7 100.7,392.8 101.0,392.5 101.2,392.7 101.5,392.6 101.8,392.7 102.1,392.4 102.4,392.5 102.6,392.7 102.9,392.5 103.2,392.5 103.5,392.7 103.8,392.8 104.0,392.6 104.3,392.5 104.6,392.6 104.9,392.6 105.2,392.7 105.4,392.7 105.7,392.9 106.0,393.0 106.3,393.2 106.6,393.3 106.8,393.3 107.1,393.6 107.4,393.7 107.7,393.8 108.0,394.0 108.2,394.3 108.5,394.4 108.8,394.6 109.1,395.0 109.4,395.2 109.6,395.3 109.9,395.6 110.2,395.8 110.5,396.2 110.8,396.5 111.0,396.9 111.3,397.4 111.6,398.0 111.9,398.6 112.2,399.4 112.4,400.0 112.7,400.9 113.0,401.8 113.3,402.7 113.6,403.9 113.8,405.0 114.1,406.2 114.4,407.3 114.7,408.7 115.0,410.1 115.2,411.3 115.5,412.7 115.8,413.9 116.1,415.4 116.4,416.6 116.6,418.2 116.9,419.4 117.2,420.7 117.5,421.6 117.8,422.6 118.0,423.2 118.3,423.2 118.6,422.5 118.9,421.7 119.2,421.0 119.4,419.8 119.7,418.6 120.0,417.2 120.3,416.4 120.6,415.5 120.8,414.5 121.1,413.6 121.4,412.7 121.7,411.7 122.0,410.9 122.2,410.0 122.5,409.9 122.8,409.1 123.1,408.5 123.4,408.3 123.6,407.7 123.9,407.4 124.2,406.9 124.5,406.7 124.8,406.4 125.0,406.0 125.3,405.9 125.6,405.7 125.9,405.5 126.2,405.3 126.4,405.2 126.7,405.2 127.0,405.1 127.3,405.2 127.6,405.0 127.8,404.9 128.1,404.9 128.4,405.0 128.7,405.0 129.0,405.1 129.2,405.4 129.5,405.4 129.8,405.3 130.1,405.3 130.4,405.6 130.6,405.6 130.9,406.0 131.2,406.0 131.5,406.1 131.8,406.3 132.0,406.6 132.3,406.5 132.6,406.9 132.9,406.9 133.2,407.2 133.4,407.4 133.7,407.7 134.0,407.9 134.3,408.3 134.6,408.5 134.8,408.6 135.1,408.9 135.4,409.2 135.7,409.5 136.0,409.9 136.2,410.1 136.5,410.6 136.8,410.9 137.1,411.1 137.4,411.4 137.6,411.8 137.9,412.1 138.2,412.4 138.5,412.5 138.8,412.8 139.0,412.9 139.3,413.3 139.6,413.6 139.9,413.6 140.2,414.0 140.4,414.1 140.7,414.3 141.0,414.7 141.3,414.8 141.6,415.0 141.8,415.1 142.1,415.4 142.4,415.5 142.7,415.8 143.0,415.6 143.2,416.0 143.5,416.1 143.8,415.7 144.1,417.6 144.4,417.4 144.6,416.6 144.9,416.4 145.2,417.1 145.5,417.3 145.8,417.7 146.0,417.1 146.3,418.0 146.6,419.2 146.9,419.8 147.2,417.7 147.4,419.9 147.7,419.2 148.0,419.4 148.3,420.4 148.6,420.3 148.8,422.0 149.1,422.3 149.4,421.6 149.7,421.5 150.0,424.2 150.2,424.5 150.5,423.4 150.8,423.1 151.1,424.5 151.4,425.3 151.6,423.6 151.9,426.2 152.2,424.5 152.5,426.0 152.8,424.7 153.0,425.6 153.3,425.4 153.6,426.1 153.9,427.4 154.2,425.8 154.4,426.7 154.7,427.8 155.0,427.1 155.3,430.1 155.6,427.2 155.8,431.7 156.1,429.0 156.4,431.2 156.7,432.4 157.0,431.8 157.2,430.4 157.5,432.0 157.8,432.9 158.1,433.9 158.4,434.9 158.6,435.5 158.9,436.4 159.2,434.3 159.5,436.5 159.8,434.0 160.0,436.2 160.3,435.2 160.6,434.7 160.9,437.7 161.2,436.9 161.4,438.1 161.7,435.7 162.0,436.2 162.3,437.5 162.6,437.1 162.8,437.9 163.1,437.3 163.4,437.6 163.7,436.8 164.0,439.3 164.2,437.7 164.5,436.8 164.8,438.6 165.1,438.4 165.4,438.0 165.6,438.0 165.9,437.9 166.2,437.4 166.5,435.7 166.8,435.9 167.0,435.9 167.3,436.5 167.6,436.6 167.9,435.7 168.2,435.3 168.4,435.4 168.7,434.7 169.0,434.5 169.3,434.2 169.6,433.6 169.8,433.5 170.1,433.2 170.4,432.7 170.7,432.3 171.0,432.0 171.2,432.0 171.5,431.7 171.8,431.2 172.1,431.0 172.4,430.4 172.6,430.4 172.9,430.1 173.2,429.9 173.5,429.5 173.8,429.6 174.0,429.4 174.3,429.4 174.6,429.2 174.9,429.2 175.2,429.0 175.4,429.0 175.7,429.0 176.0,429.1 176.3,429.0 176.6,429.0 176.8,428.9 177.1,428.9 177.4,428.9 177.7,429.0 178.0,429.0 178.2,429.0 178.5,429.0 178.8,429.0 179.1,429.0 179.4,428.9 179.6,429.2 179.9,429.3 180.2,429.2 180.5,429.6 180.8,429.3 181.0,429.7 181.3,429.7 181.6,429.8 181.9,430.0 182.2,430.1 182.4,430.2 182.7,430.2 183.0,430.4 183.3,430.8 183.6,431.2 183.8,431.4 184.1,431.6 184.4,431.9 184.7,432.2 185.0,432.7 185.2,432.7 185.5,433.2 185.8,433.5 186.1,433.8 186.4,434.1 186.6,434.8 186.9,435.1 187.2,435.4 187.5,435.9 187.8,436.4 188.0,436.8 188.3,437.4 188.6,437.7 188.9,438.1 189.2,438.6 189.4,438.9 189.7,439.5 190.0,440.1 190.3,440.7 190.6,441.0 190.8,441.4 191.1,441.8 191.4,442.3 191.7,443.0 192.0,443.5 192.2,443.9 192.5,444.4 192.8,445.3 193.1,445.8 193.4,446.2 193.6,446.8 193.9,447.6 194.2,448.0 194.5,448.6 194.8,449.0 195.0,449.6 195.3,450.2 195.6,450.8 195.9,451.8 196.2,452.5 196.4,453.0 196.7,453.8 197.0,454.5 197.3,454.8 197.6,455.5 197.8,456.7 198.1,457.4 198.4,457.9 198.7,459.1 199.0,459.6 199.2,460.2 199.5,461.1 199.8,461.6 200.1,462.6 200.4,463.1 200.6,464.4 200.9,464.9 201.2,465.2 201.5,466.3 201.8,466.4 202.0,467.3 202.3,467.6 202.6,467.5 202.9,467.3 203.2,467.4 203.4,467.2 203.7,467.0 204.0,467.0 204.3,466.7 204.6,466.3 204.8,465.4 205.1,464.9 205.4,464.5 205.7,464.1 206.0,463.5 206.2,463.0 206.5,463.0 206.8,461.9 207.1,461.6 207.4,461.2 207.6,461.0 207.9,460.5 208.2,460.2 208.5,459.7 208.8,459.9 209.0,459.6 209.3,459.3 209.6,459.2 209.9,459.2 210.2,458.6 210.4,458.5 210.7,458.4 211.0,458.4 211.3,457.9 211.6,458.2 211.8,458.5 212.1,458.2 212.4,458.4 212.7,457.7 213.0,458.2 213.2,458.6 213.5,458.8 213.8,458.6 214.1,458.7 214.4,459.1 214.6,459.1 214.9,459.5 215.2,459.5 215.5,460.1 215.8,460.8 216.0,461.0 216.3,461.1 216.6,461.3 216.9,461.8 217.2,461.9 217.4,462.6 217.7,462.9 218.0,463.4 218.3,464.0 218.6,463.8 218.8,464.7 219.1,465.3 219.4,465.4 219.7,466.5 220.0,466.5 220.2,467.8 220.5,468.0 220.8,468.6 221.1,469.1 221.4,469.9 221.6,470.2 221.9,470.9 222.2,471.5 222.5,473.0 222.8,473.7 223.0,475.0 223.3,475.9 223.6,476.3 223.9,477.8 224.2,478.7 224.4,479.6 224.7,480.6 225.0,481.4 225.3,482.3 225.6,483.5 225.8,483.7 226.1,484.4 226.4,485.3 226.7,486.6 227.0,486.7 227.2,488.0 227.5,486.7 227.8,487.7 228.1,487.5 228.4,487.1 228.6,486.9 228.9,485.6 229.2,484.5 229.5,484.3 229.8,483.5 230.0,481.3 230.3,481.3 230.6,480.2 230.9,478.9 231.2,477.9 231.4,477.1 231.7,475.9 232.0,474.8 232.3,473.5 232.6,472.8 232.8,471.6 233.1,470.9 233.4,470.0 233.7,469.5 234.0,469.0 234.2,468.3 234.5,467.8 234.8,466.8 235.1,466.7 235.4,466.2 235.6,465.5 235.9,465.2 236.2,464.1 236.5,464.5 236.8,464.0 237.0,463.3 237.3,463.5 237.6,463.0 237.9,462.9 238.2,462.5 238.4,462.4 238.7,462.1 239.0,461.8 239.3,461.7 239.6,461.6 239.8,460.8 240.1,460.7 240.4,460.7 240.7,460.5 241.0,460.8 241.2,460.6 241.5,460.1 241.8,459.9 242.1,460.2 242.4,459.8 242.6,459.8 242.9,459.4 243.2,459.7 243.5,459.9 243.8,459.6 244.0,459.6 244.3,460.0 244.6,459.8 244.9,460.0 245.2,459.8 245.4,460.0 245.7,459.5 246.0,459.7 246.3,459.7 246.6,460.8 246.8,460.2 247.1,460.3 247.4,460.4 247.7,460.5 248.0,460.4 248.2,461.6 248.5,461.4 248.8,461.7 249.1,461.7 249.4,462.3 249.6,462.7 249.9,463.1 250.2,463.7 250.5,463.8 250.8,464.6 251.0,465.2 251.3,465.6 251.6,466.1 251.9,466.6 252.2,466.9 252.4,467.8 252.7,468.2 253.0,468.6 253.3,469.6 253.6,469.7 253.8,470.5 254.1,471.5 254.4,472.1 254.7,472.4 255.0,473.2 255.2,473.9 255.5,474.4 255.8,474.9 256.1,475.8 256.4,476.4 256.6,477.1 256.9,478.0 257.2,478.5 257.5,478.9 257.8,479.8 258.0,481.0 258.3,480.9 258.6,481.7 258.9,482.2 259.2,483.4 259.4,483.8 259.7,485.2 260.0,486.2 260.3,486.6 260.6,487.5 260.8,488.1 261.1,489.5 261.4,489.9 261.7,490.9 262.0,491.7 262.2,492.3 262.5,493.6 262.8,494.5 263.1,493.5 263.4,494.5 263.6,495.2 263.9,494.6 264.2,494.3 264.5,494.1 264.8,494.0 265.0,493.3 265.3,492.0 265.6,491.4 265.9,490.4 266.2,489.3 266.4,488.5 266.7,487.4 267.0,487.0 267.3,486.6 267.6,485.7 267.8,483.9 268.1,483.7 268.4,483.0 268.7,482.7 269.0,481.7 269.2,481.7 269.5,480.8 269.8,480.4 270.1,479.9 270.4,478.6 270.6,478.5 270.9,478.5 271.2,477.5 271.5,477.3 271.8,476.7 272.0,476.0 272.3,475.8 272.6,475.6 272.9,475.3 273.2,474.9 273.4,473.9 273.7,474.4 274.0,473.2 274.3,473.2 274.6,472.9 274.8,472.8 275.1,472.5 275.4,472.4 275.7,471.7 276.0,471.9 276.2,471.5 276.5,471.3 276.8,470.8 277.1,471.0 277.4,470.8 277.6,470.8 277.9,470.4 278.2,470.2 278.5,470.3 278.8,470.2 279.0,470.1 279.3,470.3 279.6,469.6 279.9,470.1 280.2,468.9 280.4,469.8 280.7,469.3 281.0,469.9 281.3,469.2 281.6,469.7 281.8,469.2 282.1,469.2 282.4,469.6 282.7,469.7 283.0,469.4 283.2,470.2 283.5,469.7 283.8,470.3 284.1,469.8 284.4,469.9 284.6,470.3 284.9,470.2 285.2,470.6 285.5,470.2 285.8,470.8 286.0,470.8 286.3,470.9 286.6,471.3 286.9,471.3 287.2,471.4 287.4,471.9 287.7,471.9 288.0,472.1 288.3,472.5 288.6,472.3 288.8,472.7 289.1,472.6 289.4,473.0 289.7,473.1 290.0,473.0 290.2,472.9 290.5,473.2 290.8,473.4 291.1,473.9 291.4,473.9 291.6,473.9 291.9,474.2 292.2,474.4 292.5,474.7 292.8,474.3 293.0,474.7 293.3,474.8 293.6,474.5 293.9,474.9 294.2,474.7 294.4,475.0 294.7,475.2 295.0,474.8 295.3,475.1 295.6,475.2 295.8,475.5 296.1,475.8 296.4,475.7 296.7,475.5 297.0,475.6 297.2,475.9 297.5,475.8 297.8,475.7 298.1,475.7 298.4,475.9 298.6,475.9 298.9,475.4 299.2,475.2 299.5,475.1 299.8,475.7 300.0,474.9 300.3,474.7 300.6,475.0 300.9,475.1 301.2,474.6 301.4,474.6 301.7,474.1 302.0,474.2 302.3,474.7 302.6,474.2 302.8,474.0 303.1,474.0 303.4,474.0 303.7,473.8 304.0,473.4 304.2,473.4 304.5,474.3 304.8,473.6 305.1,474.1 305.4,473.7 305.6,474.2 305.9,474.1 306.2,473.9 306.5,474.5 306.8,473.8 307.0,474.0 307.3,473.9 307.6,474.0 307.9,474.2 308.2,474.1 308.4,474.3 308.7,474.9 309.0,474.1 309.3,474.4 309.6,474.5 309.8,474.7 310.1,475.2 310.4,475.3 310.7,476.0 311.0,475.3 311.2,476.0 311.5,475.2 311.8,475.4 312.1,475.8 312.4,476.0 312.6,476.0 312.9,476.0 313.2,476.0 313.5,476.5 313.8,476.5 314.0,476.8 314.3,476.8 314.6,477.7 314.9,477.6 315.2,478.2 315.4,477.8 315.7,478.2 316.0,478.4 316.3,478.7 316.6,478.9 316.8,479.2 317.1,479.0 317.4,479.7 317.7,480.3 318.0,479.8 318.2,480.6 318.5,481.2 318.8,482.0 319.1,481.8 319.4,482.4 319.6,483.3 319.9,483.6 320.2,483.5 320.5,484.0 320.8,485.0 321.0,485.3 321.3,485.5 321.6,486.1 321.9,486.8 322.2,487.2 322.4,487.6 322.7,488.2 323.0,488.2 323.3,489.9 323.6,490.2 323.8,490.8 324.1,490.6 324.4,491.2 324.7,491.8 325.0,492.4 325.2,491.9 325.5,493.3 325.8,493.2 326.1,494.1 326.4,494.4 326.6,495.8 326.9,495.8 327.2,496.0 327.5,497.1 327.8,496.9 328.0,497.1 328.3,497.7 328.6,498.0 328.9,498.6 329.2,499.3 329.4,499.3 329.7,499.6 330.0,500.5 330.3,500.0 330.6,500.1 330.8,499.6 331.1,498.7 331.4,498.5 331.7,498.0 332.0,499.0 332.2,498.3 332.5,497.6 332.8,497.0 333.1,497.2 333.4,496.5 333.6,496.3 333.9,495.3 334.2,494.7 334.5,495.3 334.8,493.8 335.0,493.6 335.3,493.6 335.6,491.9 335.9,492.3 336.2,491.6 336.4,491.2 336.7,491.0 337.0,490.1 337.3,489.4 337.6,490.6 337.8,489.5 338.1,489.6 338.4,489.3 338.7,488.8 339.0,488.5 339.2,488.3 339.5,488.4 339.8,487.7 340.1,487.7 340.4,486.9 340.6,486.6 340.9,486.6 341.2,486.5 341.5,486.3 341.8,486.5 342.0,486.0 342.3,485.5 342.6,486.0 342.9,485.3 343.2,485.1 343.4,485.1 343.7,484.8 344.0,484.5 344.3,484.9 344.6,484.7 344.8,484.5 345.1,484.8 345.4,484.8 345.7,484.7 346.0,484.4 346.2,485.0 346.5,485.7 346.8,485.5 347.1,485.8 347.4,485.6 347.6,486.1 347.9,485.7 348.2,486.1 348.5,486.7 348.8,486.4 349.0,487.2 349.3,487.6 349.6,488.4 349.9,488.0 350.2,488.7 350.4,488.7 350.7,489.1 351.0,488.7 351.3,489.7 351.6,490.9 351.8,491.0 352.1,491.3 352.4,492.6 352.7,492.3 353.0,492.0 353.2,492.8 353.5,493.3 353.8,494.4 354.1,493.6 354.4,494.7 354.6,495.3 354.9,495.0 355.2,495.8 355.5,495.3 355.8,496.6 356.0,496.0 356.3,497.1 356.6,498.4 356.9,498.3 357.2,498.5 357.4,498.9 357.7,500.2 358.0,499.9 358.3,500.5 358.6,500.2 358.8,499.1 359.1,500.6 359.4,501.4 359.7,501.5 360.0,502.6 360.2,502.8 360.5,502.7 360.8,502.8 361.1,501.9 361.4,502.8 361.6,503.9 361.9,504.3 362.2,502.5 362.5,503.0 362.8,504.4 363.0,503.8 363.3,504.2 363.6,504.1 363.9,504.6 364.2,503.3 364.4,505.8 364.7,504.4 365.0,503.9 365.3,503.2 365.6,503.6 365.8,503.4 366.1,502.6 366.4,503.1 366.7,502.9 367.0,502.3 367.2,502.6 367.5,501.3 367.8,502.0 368.1,501.3 368.4,500.7 368.6,500.6 368.9,501.1 369.2,500.1 369.5,499.9 369.8,499.5 370.0,499.2 370.3,499.7 370.6,500.0 370.9,499.4 371.2,498.8 371.4,498.7 371.7,498.0 372.0,497.7 372.3,497.2 372.6,498.2 372.8,497.2 373.1,496.9 373.4,496.7 373.7,496.9 374.0,496.4 374.2,496.5 374.5,496.4 374.8,496.7 375.1,495.5 375.4,496.0 375.6,495.5 375.9,495.5 376.2,496.3 376.5,496.0 376.8,495.6 377.0,496.1 377.3,496.0 377.6,496.6 377.9,496.1 378.2,496.7 378.4,496.6 378.7,497.0 379.0,497.2 379.3,497.3 379.6,497.9 379.8,498.6 380.1,498.2 380.4,498.7 380.7,499.5 381.0,499.4 381.2,500.5 381.5,500.7 381.8,499.7 382.1,500.8 382.4,501.0 382.6,502.3 382.9,502.8 383.2,502.2 383.5,502.9 383.8,503.6 384.0,503.9 384.3,504.9 384.6,505.5 384.9,505.8 385.2,506.5 385.4,507.0 385.7,506.9 386.0,507.2 386.3,507.8 386.6,509.4 386.8,510.2 387.1,511.0 387.4,511.3 387.7,511.7 388.0,512.8 388.2,514.2 388.5,514.4 388.8,515.0 389.1,515.1 389.4,516.6 389.6,517.4 389.9,517.1 390.2,519.7 390.5,518.5 390.8,520.5 391.0,520.3 391.3,521.2 391.6,521.1 391.9,521.8 392.2,523.2 392.4,522.9 392.7,523.2 393.0,524.4 393.3,524.4 393.6,524.0 393.8,524.0 394.1,524.8 394.4,522.6 394.7,522.2 395.0,521.4 395.2,519.2 395.5,517.9 395.8,518.4 396.1,517.9 396.4,516.4 396.6,514.9 396.9,513.8 397.2,513.7 397.5,512.0 397.8,510.3 398.0,510.7 398.3,509.5 398.6,508.6 398.9,508.1 399.2,507.3 399.4,506.0 399.7,504.8 400.0,502.9 400.3,503.3 400.6,502.2 400.8,502.1 401.1,501.3 401.4,500.1 401.7,499.7 402.0,498.3 402.2,497.6 402.5,496.5 402.8,496.0 403.1,495.6 403.4,495.5 403.6,494.4 403.9,494.6 404.2,494.9 404.5,493.1 404.8,493.2 405.0,493.0 405.3,493.1 405.6,493.2 405.9,492.6 406.2,491.9 406.4,491.4 406.7,491.5 407.0,491.2 407.3,491.1 407.6,490.5 407.8,491.2 408.1,490.2 408.4,490.6 408.7,490.3 409.0,489.7 409.2,489.9 409.5,489.8 409.8,489.6 410.1,489.9 410.4,489.3 410.6,490.3 410.9,489.8 411.2,489.0 411.5,488.4 411.8,489.7 412.0,489.4 412.3,489.5 412.6,489.2 412.9,489.2 413.2,489.3 413.4,491.1 413.7,490.9 414.0,490.4 414.3,491.5 414.6,490.4 414.8,491.6 415.1,491.9 415.4,491.6 415.7,492.0 416.0,492.2 416.2,492.9 416.5,493.8 416.8,494.1 417.1,494.2 417.4,494.7 417.6,493.9 417.9,495.7 418.2,495.1 418.5,494.9 418.8,495.6 419.0,495.8 419.3,496.5 419.6,496.9 419.9,496.1 420.2,498.0 420.4,498.6 420.7,497.8 421.0,499.2 421.3,499.5 421.6,499.8 421.8,500.5 422.1,499.5 422.4,501.0 422.7,500.7 423.0,502.8 423.2,501.7 423.5,502.0 423.8,503.7 424.1,504.0 424.4,504.2 424.6,504.7 424.9,505.5 425.2,506.6 425.5,505.8 425.8,506.4 426.0,506.8 426.3,507.6 426.6,508.1 426.9,507.8 427.2,509.2 427.4,508.7 427.7,509.7 428.0,510.1 428.3,510.5 428.6,511.8 428.8,512.1 429.1,512.1 429.4,512.6 429.7,511.7 430.0,512.9 430.2,512.2 430.5,512.5 430.8,512.6 431.1,511.7 431.4,512.5 431.6,512.5 431.9,512.7 432.2,512.4 432.5,511.8 432.8,511.5 433.0,512.1 433.3,511.3 433.6,511.1 433.9,511.6 434.2,511.6 434.4,510.8 434.7,510.1 435.0,511.1 435.3,511.2 435.6,510.3 435.8,510.1 436.1,508.8 436.4,510.4 436.7,509.1 437.0,509.9 437.2,508.9 437.5,509.0 437.8,508.7 438.1,507.6 438.4,510.0 438.6,507.3 438.9,508.1 439.2,507.3 439.5,507.4 439.8,508.1 440.0,506.2 440.3,506.9 440.6,507.0 440.9,506.6 441.2,506.6 441.4,505.8 441.7,505.1 442.0,505.1 442.3,505.4 442.6,505.9 442.8,505.4 443.1,504.1 443.4,505.1 443.7,505.0 444.0,504.9 444.2,503.8 444.5,504.9 444.8,504.0 445.1,504.3 445.4,505.7 445.6,503.8 445.9,504.5 446.2,504.6 446.5,504.5 446.8,504.5 447.0,505.0 447.3,505.7 447.6,503.8 447.9,504.4 448.2,505.9 448.4,505.6 448.7,505.1 449.0,505.2 449.3,505.7 449.6,507.5 449.8,506.6 450.1,506.2 450.4,506.9 450.7,506.6 451.0,508.0 451.2,507.6 451.5,508.4 451.8,508.1 452.1,509.4 452.4,508.8 452.6,509.0 452.9,508.5 453.2,509.2 453.5,510.0 453.8,509.8 454.0,511.8 454.3,510.7 454.6,510.6 454.9,512.0 455.2,511.4 455.4,512.3 455.7,512.4 456.0,512.3 456.3,514.0 456.6,513.5 456.8,514.5 457.1,513.9 457.4,513.5 457.7,514.0 458.0,514.8 458.2,515.3 458.5,515.8 458.8,516.4 459.1,515.5 459.4,516.7 459.6,516.4 459.9,516.4 460.2,518.8 460.5,518.1 460.8,517.2 461.0,518.8 461.3,518.7 461.6,518.5 461.9,519.0 462.2,517.9 462.4,518.0 462.7,517.5 463.0,518.6 463.3,517.3 463.6,517.8 463.8,518.4 464.1,517.6 464.4,517.9 464.7,518.7 465.0,516.5 465.2,517.9 465.5,516.2 465.8,515.8 466.1,516.3 466.4,516.6 466.6,515.1 466.9,514.8 467.2,514.7 467.5,514.2 467.8,514.5 468.0,513.6 468.3,513.6 468.6,513.7 468.9,512.9 469.2,513.6 469.4,512.2 469.7,511.8 470.0,513.3 470.3,512.7 470.6,511.6 470.8,511.8 471.1,511.2 471.4,510.4 471.7,510.9 472.0,510.4 472.2,510.7 472.5,508.7 472.8,509.9 473.1,509.3 473.4,508.6 473.6,508.5 473.9,508.3 474.2,507.5 474.5,507.7 474.8,508.3 475.0,506.8 475.3,507.3 475.6,506.0 475.9,506.9 476.2,507.3 476.4,506.9 476.7,506.9 477.0,506.2 477.3,507.0 477.6,506.2 477.8,507.1 478.1,506.7 478.4,506.3 478.7,507.3 479.0,506.3 479.2,507.0 479.5,506.5 479.8,506.5 480.1,507.0 480.4,506.7 480.6,506.5 480.9,506.5 481.2,506.8 481.5,506.7 481.8,506.6 482.0,506.3 482.3,505.6 482.6,507.0 482.9,507.1 483.2,508.0 483.4,507.7 483.7,508.3 484.0,508.8 484.3,508.0 484.6,507.7 484.8,508.9 485.1,508.4 485.4,508.9 485.7,510.3 486.0,510.2 486.2,510.9 486.5,509.9 486.8,511.1 487.1,512.2 487.4,511.2 487.6,512.6 487.9,513.2 488.2,511.9 488.5,514.9 488.8,513.9 489.0,514.8 489.3,516.5 489.6,514.7 489.9,516.7 490.2,516.7 490.4,517.7 490.7,517.8 491.0,519.1 491.3,518.9 491.6,520.7 491.8,523.3 492.1,521.8 492.4,522.4 492.7,523.1 493.0,524.9 493.2,525.1 493.5,525.4 493.8,525.3 494.1,527.1 494.4,528.1 494.6,528.3 494.9,530.4 495.2,528.0 495.5,532.9 495.8,531.0 496.0,530.7 496.3,530.8 496.6,534.1 496.9,534.2 497.2,533.8 497.4,534.4 497.7,535.0 498.0,534.7 498.3,536.9 498.6,536.6 498.8,536.1 499.1,534.7 499.4,538.5 499.7,536.6 500.0,536.2 500.2,539.2 500.5,538.5 500.8,535.6 501.1,536.2 501.4,537.9 501.6,536.9 501.9,538.1 502.2,541.4 502.5,541.6 502.8,536.6 503.0,538.5 503.3,538.4 503.6,536.9 503.9,535.0 504.2,537.7 504.4,535.9 504.7,536.3 505.0,536.2 505.3,534.3 505.6,536.8 505.8,534.8 506.1,534.7 506.4,533.7 506.7,534.7 507.0,534.7 507.2,532.8 507.5,533.7 507.8,532.3 508.1,531.2 508.4,531.9 508.6,532.6 508.9,532.2 509.2,532.5 509.5,530.5 509.8,530.6 510.0,530.7 510.3,531.0 510.6,530.1 510.9,529.1 511.2,528.3 511.4,530.7 511.7,530.4 512.0,527.6 512.3,530.5 512.6,528.9 512.8,529.2 513.1,529.9 513.4,528.1 513.7,527.8 514.0,526.8 514.2,528.6 514.5,528.7 514.8,529.0 515.1,528.8 515.4,528.3 515.6,529.3 515.9,527.3 516.2,528.6 516.5,528.8 516.8,528.3 517.0,530.1 517.3,529.0 517.6,530.0 517.9,529.7 518.2,528.8 518.4,531.0 518.7,530.4 519.0,529.5 519.3,529.6 519.6,528.9 519.8,530.0 520.1,530.1 520.4,530.7 520.7,530.3 521.0,531.5 521.2,531.1 521.5,529.8 521.8,531.1 522.1,531.0 522.4,530.8 522.6,532.1 522.9,533.6 523.2,531.8 523.5,531.1 523.8,533.3 524.0,536.9 524.3,533.3 524.6,534.5 524.9,533.9 525.2,535.6 525.4,536.6 525.7,535.1 526.0,536.9 526.3,534.5 526.6,536.3 526.8,534.8 527.1,536.7 527.4,535.9 527.7,537.0 528.0,535.5 528.2,537.1 528.5,536.9 528.8,536.0 529.1,535.5 529.4,534.9 529.6,535.6 529.9,536.2 530.2,535.3 530.5,535.3 530.8,536.2 531.0,534.1 531.3,534.4 531.6,534.6 531.9,533.9 532.2,533.3 532.4,532.6 532.7,534.1 533.0,531.7 533.3,531.0 533.6,531.6 533.8,532.3 534.1,531.7 534.4,530.0 534.7,530.4 535.0,529.7 535.2,529.0 535.5,529.2 535.8,528.8 536.1,528.1 536.4,529.2 536.6,527.0 536.9,528.3 537.2,528.6 537.5,528.3 537.8,526.5 538.0,525.8 538.3,524.4 538.6,525.4 538.9,527.3 539.2,523.7 539.4,523.5 539.7,525.3 540.0,524.9 540.3,522.7 540.6,524.0 540.8,524.1 541.1,522.4 541.4,524.3 541.7,522.3 542.0,524.1 542.2,523.2 542.5,522.3 542.8,521.5 543.1,522.3 543.4,522.4 543.6,523.2 543.9,521.8 544.2,522.0 544.5,522.8 544.8,521.3 545.0,521.8 545.3,522.3 545.6,521.9 545.9,522.5 546.2,523.0 546.4,521.3 546.7,521.9 547.0,519.5 547.3,521.5 547.6,522.3 547.8,520.9 548.1,522.8 548.4,520.4 548.7,522.9 549.0,521.5 549.2,521.2 549.5,521.7 549.8,521.9 550.1,521.4 550.4,521.3 550.6,522.1 550.9,523.4 551.2,522.8 551.5,524.2 551.8,522.9 552.0,523.4 552.3,523.8 552.6,524.5 552.9,525.1 553.2,526.6 553.4,526.1 553.7,526.0 554.0,527.5 554.3,526.0 554.6,526.0 554.8,528.2 555.1,528.2 555.4,528.6 555.7,529.9 556.0,529.1 556.2,529.8 556.5,530.8 556.8,531.5 557.1,532.3 557.4,532.0 557.6,532.6 557.9,530.3 558.2,534.6 558.5,532.0 558.8,534.2 559.0,537.4 559.3,534.6 559.6,533.5 559.9,537.4 560.2,535.2 560.4,535.9 560.7,536.2 561.0,537.5 561.3,537.9 561.6,537.1 561.8,538.8 562.1,536.7 562.4,538.9 562.7,537.5 563.0,539.4 563.2,538.0 563.5,538.5 563.8,541.2 564.1,538.1 564.4,538.4 564.6,541.0 564.9,540.1 565.2,540.1 565.5,540.6 565.8,543.7 566.0,539.5 566.3,540.5 566.6,541.0 566.9,539.7 567.2,541.0 567.4,541.7 567.7,539.7 568.0,542.4 568.3,539.2 568.6,540.4 568.8,540.9 569.1,544.4 569.4,537.7 569.7,540.2 570.0,542.8 570.2,538.4 570.5,540.0 570.8,538.4 571.1,536.0 571.4,537.7 571.6,535.6 571.9,536.3 572.2,534.0 572.5,536.0 572.8,532.1 573.0,534.1 573.3,535.2 573.6,533.9 573.9,532.6 574.2,532.3 574.4,531.6 574.7,534.5 575.0,531.4 575.3,531.1 575.6,530.0 575.8,530.0 576.1,530.8 576.4,529.4 576.7,528.9 577.0,529.0 577.2,528.9 577.5,529.2 577.8,528.8 578.1,528.6 578.4,527.9 578.6,529.6 578.9,528.4 579.2,526.7 579.5,528.3 579.8,527.9 580.0,526.5 580.3,527.6 580.6,529.2 580.9,528.0 581.2,528.5 581.4,526.8 581.7,524.5 582.0,526.7 582.3,528.4 582.6,526.3 582.8,526.5 583.1,528.1 583.4,526.9 583.7,527.0 584.0,527.5 584.2,527.3 584.5,526.9 584.8,527.5 585.1,526.7 585.4,527.3 585.6,528.0 585.9,526.6 586.2,527.4 586.5,526.7 586.8,528.5 587.0,528.5 587.3,529.0 587.6,529.2 587.9,529.3 588.2,529.2 588.4,528.0 588.7,529.8 589.0,528.3 589.3,531.6 589.6,529.9 589.8,530.4 590.1,528.9 590.4,531.4 590.7,531.8 591.0,529.4 591.2,530.7 591.5,531.1 591.8,531.2 592.1,533.6 592.4,534.8 592.6,531.8 592.9,534.3 593.2,533.2 593.5,535.3 593.8,531.5 594.0,534.0 594.3,536.1 594.6,534.2 594.9,537.6 595.2,535.1 595.4,537.2 595.7,536.9 596.0,536.0 596.3,535.8 596.6,536.8 596.8,538.6 597.1,537.4 597.4,536.9 597.7,541.9 598.0,536.1 598.2,538.0 598.5,543.1 598.8,537.3 599.1,538.7 599.4,538.3 599.6,537.1 599.9,539.6 600.2,537.8 600.5,538.5 600.8,541.3 601.0,538.4 601.3,540.8 601.6,541.9 601.9,541.6 602.2,541.0 602.4,540.1 602.7,538.6 603.0,540.7 603.3,541.2 603.6,539.9 603.8,539.3 604.1,541.7 604.4,539.2 604.7,541.1 605.0,539.9 605.2,538.1 605.5,542.3 605.8,540.7 606.1,540.5 606.4,537.7 606.6,539.2 606.9,539.5 607.2,538.0 607.5,540.8 607.8,536.1 608.0,539.3 608.3,535.9 608.6,536.1 608.9,536.3 609.2,538.4 609.4,536.6 609.7,536.5 610.0,536.1 610.3,535.2 610.6,535.8 610.8,535.5 611.1,536.2 611.4,536.0 611.7,533.5 612.0,535.4 612.2,537.4 612.5,535.4 612.8,535.7 613.1,534.9 613.4,534.8 613.6,535.4 613.9,533.9 614.2,535.2 614.5,533.4 614.8,535.6 615.0,533.5 615.3,535.8 615.6,536.1 615.9,533.0 616.2,535.5 616.4,534.2 616.7,535.9 617.0,534.0 617.3,534.2 617.6,534.1 617.8,535.8 618.1,532.3 618.4,535.3 618.7,534.6 619.0,533.9 619.2,534.3 619.5,535.6 619.8,535.6 620.1,536.6 620.4,534.1 620.6,532.8 620.9,534.4 621.2,534.9 621.5,535.8 621.8,536.8 622.0,538.1 622.3,536.1 622.6,533.8 622.9,537.3 623.2,535.5 623.4,536.5 623.7,537.7 624.0,537.3 624.3,537.0 624.6,537.7 624.8,538.5 625.1,538.5 625.4,540.6 625.7,534.6 626.0,537.5 626.2,538.0 626.5,541.1 626.8,539.6 627.1,540.7 627.4,537.0 627.6,540.1 627.9,541.7 628.2,541.2 628.5,541.1 628.8,542.5 629.0,544.9 629.3,539.9 629.6,545.7 629.9,544.3 630.2,543.0 630.4,545.7 630.7,545.2 631.0,547.5 631.3,544.7 631.6,547.9 631.8,545.3 632.1,547.6 632.4,548.5 632.7,547.4 633.0,548.8 633.2,546.9 633.5,549.9 633.8,547.4 634.1,547.2 634.4,548.3 634.6,548.6 634.9,547.3 635.2,550.3 635.5,548.7 635.8,550.1 636.0,546.4 636.3,546.9 636.6,549.0 636.9,547.8 637.2,549.4 637.4,550.8 637.7,551.8 638.0,552.5 638.3,551.5 638.6,548.9 638.8,551.4 639.1,549.5 639.4,551.6 639.7,548.6 640.0,553.3 640.2,551.5 640.5,550.2 640.8,548.1 641.1,551.3 641.4,549.7 641.6,551.2 641.9,549.3 642.2,549.3 642.5,557.8 642.8,552.3 643.0,546.9 643.3,548.5 643.6,549.3 643.9,547.7 644.2,546.9 644.4,550.9 644.7,545.4 645.0,547.0 645.3,545.3 645.6,545.5 645.8,541.7 646.1,546.3 646.4,544.3 646.7,542.8 647.0,546.4 647.2,543.3 647.5,542.6 647.8,542.1 648.1,544.7 648.4,543.1 648.6,542.4 648.9,540.8 649.2,541.4 649.5,543.1 649.8,542.5 650.0,539.6 650.3,541.2 650.6,542.7 650.9,546.2 651.2,541.3 651.4,539.2 651.7,543.5 652.0,541.7 652.3,540.5 652.6,543.1 652.8,541.9 653.1,540.9 653.4,540.3 653.7,542.0 654.0,542.3 654.2,539.7 654.5,543.7 654.8,540.6 655.1,544.4 655.4,543.0 655.6,542.4 655.9,543.3 656.2,542.0 656.5,542.8 656.8,545.3 657.0,542.1 657.3,544.1 657.6,541.7 657.9,543.0 658.2,544.5 658.4,541.5 658.7,543.8 659.0,540.2 659.3,541.8 659.6,543.0 659.8,545.1 660.1,545.0 660.4,542.7 660.7,544.0 661.0,544.6 661.2,542.1 661.5,545.4 661.8,547.1 662.1,547.2 662.4,544.5 662.6,545.0 662.9,544.4 663.2,545.4 663.5,546.0 663.8,547.8 664.0,547.1 664.3,545.6 664.6,548.8 664.9,549.2 665.2,546.8 665.4,547.7 665.7,548.2 666.0,545.7 666.3,549.0 666.6,550.1 666.8,552.5 667.1,549.5 667.4,548.7 667.7,549.1 668.0,550.5 668.2,551.0 668.5,548.0 668.8,550.0 669.1,550.9 669.4,546.1 669.6,552.3 669.9,549.4 670.2,551.4 670.5,549.7 670.8,549.3 671.0,549.5 671.3,550.1 671.6,551.0 671.9,548.7 672.2,547.2 672.4,548.0 672.7,547.6 673.0,551.6 673.3,547.8 673.6,552.3 673.8,549.8 674.1,549.4 674.4,551.9 674.7,548.9 675.0,549.0 675.2,550.9 675.5,550.7 675.8,547.5 676.1,553.7 676.4,550.2 676.6,546.8 676.9,548.7 677.2,550.5 677.5,549.2 677.8,550.2 678.0,552.8 678.3,550.2 678.6,552.0 678.9,549.6 679.2,547.2 679.4,550.9 679.7,547.0 680.0,549.8 680.3,549.2 680.6,546.6 680.8,546.8 681.1,547.6 681.4,548.6 681.7,550.1 682.0,548.0 682.2,551.1 682.5,549.3 682.8,546.8 683.1,546.8 683.4,548.1 683.6,547.1 683.9,547.9 684.2,549.5 684.5,548.7 684.8,549.1 685.0,547.2 685.3,546.8 685.6,545.8 685.9,545.0 686.2,547.3 686.4,548.1 686.7,547.6 687.0,548.0 687.3,551.5 687.6,546.1 687.8,547.5 688.1,547.2 688.4,546.5 688.7,550.5 689.0,548.2 689.2,550.5 689.5,546.5 689.8,551.9 690.1,552.7 690.4,547.1 690.6,548.7 690.9,548.5 691.2,549.7 691.5,546.5 691.8,549.6 692.0,550.1 692.3,548.1 692.6,544.9 692.9,547.8 693.2,548.4 693.4,550.5 693.7,548.1 694.0,547.2 694.3,550.5 694.6,550.1 694.8,550.9 695.1,549.7 695.4,551.5 695.7,550.5 696.0,546.3 696.2,550.0 696.5,551.0 696.8,549.6 697.1,552.2 697.4,548.8 697.6,550.9 697.9,547.4 698.2,549.7 698.5,548.7 698.8,547.9 699.0,547.3 699.3,550.1 699.6,550.4 699.9,548.4 700.2,547.3 700.4,548.1 700.7,551.1 701.0,547.6 701.3,551.9 701.6,546.8 701.8,550.4 702.1,551.1 702.4,552.1 702.7,549.1 703.0,548.4 703.2,547.2 703.5,551.4 703.8,549.5 704.1,548.8 704.4,548.8 704.6,549.9 704.9,549.5" stroke="#0303fc" stroke-width="3.0"/>
<polyline points="51.4,422.0 51.7,420.6 52.0,419.4 52.2,418.2 52.5,417.1 52.8,416.1 53.1,415.2 53.4,414.3 53.6,413.5 53.9,412.8 54.2,412.1 54.5,411.5 54.8,411.0 55.0,410.5 55.3,410.0 55.6,409.6 55.9,409.2 56.2,408.8 56.4,408.4 56.7,408.1 57.0,407.8 57.3,407.5 57.6,407.2 57.8,406.9 58.1,406.6 58.4,406.3 58.7,406.0 59.0,405.7 59.2,405.4 59.5,405.1 59.8,404.8 60.1,404.5 60.4,404.3 60.6,404.0 60.9,403.8 61.2,403.5 61.5,403.3 61.8,403.1 62.0,402.9 62.3,402.7 62.6,402.5 62.9,402.3 63.2,402.1 63.4,401.9 63.7,401.8 64.0,401.6 64.3,401.4 64.6,401.3 64.8,401.1 65.1,401.0 65.4,400.8 65.7,400.7 66.0,400.5 66.2,400.4 66.5,400.3 66.8,400.1 67.1,400.0 67.4,399.9 67.6,399.7 67.9,399.6 68.2,399.5 68.5,399.4 68.8,399.3 69.0,399.1 69.3,399.0 69.6,398.9 69.9,398.8 70.2,398.7 70.4,398.6 70.7,398.5 71.0,398.4 71.3,398.3 71.6,398.2 71.8,398.1 72.1,397.9 72.4,397.8 72.7,397.7 73.0,397.6 73.2,397.5 73.5,397.4 73.8,397.3 74.1,397.2 74.4,397.1 74.6,397.0 74.9,397.0 75.2,396.9 75.5,396.8 75.8,396.7 76.0,396.6 76.3,396.5 76.6,396.4 76.9,396.3 77.2,396.3 77.4,396.2 77.7,396.1 78.0,396.0 78.3,395.9 78.6,395.8 78.8,395.8 79.1,395.7 79.4,395.6 79.7,395.5 80.0,395.5 80.2,395.4 80.5,395.3 80.8,395.2 81.1,395.2 81.4,395.1 81.6,395.0 81.9,395.0 82.2,394.9 82.5,394.8 82.8,394.8 83.0,394.7 83.3,394.6 83.6,394.6 83.9,394.5 84.2,394.5 84.4,394.4 84.7,394.3 85.0,394.3 85.3,394.2 85.6,394.2 85.8,394.1 86.1,394.1 86.4,394.0 86.7,394.0 87.0,393.9 87.2,393.9 87.5,393.8 87.8,393.8 88.1,393.7 88.4,393.7 88.6,393.6 88.9,393.6 89.2,393.5 89.5,393.5 89.8,393.5 90.0,393.4 90.3,393.4 90.6,393.3 90.9,393.3 91.2,393.3 91.4,393.2 91.7,393.2 92.0,393.2 92.3,393.1 92.6,393.1 92.8,393.1 93.1,393.1 93.4,393.0 93.7,393.0 94.0,393.0 94.2,392.9 94.5,392.9 94.8,392.9 95.1,392.9 95.4,392.9 95.6,392.8 95.9,392.8 96.2,392.8 96.5,392.8 96.8,392.8 97.0,392.8 97.3,392.8 97.6,392.8 97.9,392.8 98.2,392.8 98.4,392.8 98.7,392.8 99.0,392.8 99.3,392.8 99.6,392.8 99.8,392.8 100.1,392.8 100.4,392.8 100.7,392.9 101.0,392.9 101.2,392.9 101.5,392.9 101.8,393.0 102.1,393.0 102.4,393.0 102.6,393.1 102.9,393.1 103.2,393.2 103.5,393.3 103.8,393.3 104.0,393.4 104.3,393.5 104.6,393.6 104.9,393.6 105.2,393.7 105.4,393.8 105.7,393.9 106.0,394.0 106.3,394.1 106.6,394.2 106.8,394.4 107.1,394.5 107.4,394.7 107.7,394.9 108.0,395.0 108.2,395.2 108.5,395.4 108.8,395.7 109.1,395.9 109.4,396.1 109.6,396.4 109.9,396.6 110.2,396.9 110.5,397.2 110.8,397.5 111.0,397.8 111.3,398.2 111.6,398.6 111.9,399.1 112.2,399.6 112.4,400.2 112.7,400.9 113.0,401.6 113.3,402.4 113.6,403.3 113.8,404.3 114.1,405.3 114.4,406.3 114.7,407.4 115.0,408.6 115.2,409.7 115.5,410.9 115.8,412.1 116.1,413.4 116.4,414.6 116.6,415.8 116.9,416.9 117.2,418.0 117.5,419.0 117.8,419.7 118.0,420.0 118.3,419.8 118.6,419.3 118.9,418.6 119.2,417.9 119.4,417.1 119.7,416.3 120.0,415.5 120.3,414.7 120.6,414.0 120.8,413.3 121.1,412.6 121.4,412.0 121.7,411.4 122.0,410.8 122.2,410.2 122.5,409.6 122.8,409.1 123.1,408.6 123.4,408.1 123.6,407.7 123.9,407.3 124.2,407.0 124.5,406.7 124.8,406.4 125.0,406.2 125.3,406.0 125.6,405.8 125.9,405.7 126.2,405.5 126.4,405.4 126.7,405.3 127.0,405.3 127.3,405.2 127.6,405.2 127.8,405.2 128.1,405.2 128.4,405.2 128.7,405.3 129.0,405.3 129.2,405.4 129.5,405.5 129.8,405.6 130.1,405.7 130.4,405.9 130.6,406.0 130.9,406.1 131.2,406.3 131.5,406.4 131.8,406.6 132.0,406.8 132.3,406.9 132.6,407.1 132.9,407.3 133.2,407.6 133.4,407.8 133.7,408.0 134.0,408.3 134.3,408.5 134.6,408.8 134.8,409.1 135.1,409.4 135.4,409.7 135.7,410.0 136.0,410.3 136.2,410.7 136.5,411.0 136.8,411.3 137.1,411.6 137.4,412.0 137.6,412.3 137.9,412.6 138.2,413.0 138.5,413.3 138.8,413.6 139.0,413.9 139.3,414.3 139.6,414.6 139.9,414.9 140.2,415.2 140.4,415.5 140.7,415.8 141.0,416.0 141.3,416.3 141.6,416.6 141.8,416.9 142.1,417.2 142.4,417.5 142.7,417.8 143.0,418.0 143.2,418.3 143.5,418.6 143.8,418.9 144.1,419.1 144.4,419.4 144.6,419.7 144.9,420.0 145.2,420.2 145.5,420.5 145.8,420.8 146.0,421.0 146.3,421.3 146.6,421.6 146.9,421.9 147.2,422.1 147.4,422.4 147.7,422.7 148.0,423.0 148.3,423.2 148.6,423.5 148.8,423.8 149.1,424.1 149.4,424.4 149.7,424.6 150.0,424.9 150.2,425.2 150.5,425.5 150.8,425.7 151.1,426.0 151.4,426.3 151.6,426.6 151.9,426.9 152.2,427.2 152.5,427.4 152.8,427.7 153.0,428.0 153.3,428.3 153.6,428.6 153.9,428.9 154.2,429.2 154.4,429.5 154.7,429.8 155.0,430.0 155.3,430.3 155.6,430.6 155.8,430.9 156.1,431.2 156.4,431.5 156.7,431.8 157.0,432.1 157.2,432.3 157.5,432.6 157.8,432.9 158.1,433.2 158.4,433.5 158.6,433.7 158.9,434.0 159.2,434.3 159.5,434.5 159.8,434.8 160.0,435.0 160.3,435.3 160.6,435.5 160.9,435.7 161.2,435.9 161.4,436.1 161.7,436.3 162.0,436.5 162.3,436.6 162.6,436.7 162.8,436.8 163.1,436.9 163.4,437.0 163.7,437.0 164.0,437.0 164.2,437.0 164.5,437.0 164.8,436.9 165.1,436.9 165.4,436.8 165.6,436.8 165.9,436.7 166.2,436.6 166.5,436.5 166.8,436.4 167.0,436.3 167.3,436.2 167.6,436.0 167.9,435.9 168.2,435.8 168.4,435.7 168.7,435.5 169.0,435.4 169.3,435.2 169.6,435.1 169.8,434.9 170.1,434.8 170.4,434.6 170.7,434.5 171.0,434.3 171.2,434.2 171.5,434.0 171.8,433.9 172.1,433.7 172.4,433.6 172.6,433.5 172.9,433.3 173.2,433.2 173.5,433.1 173.8,433.0 174.0,432.9 174.3,432.8 174.6,432.7 174.9,432.7 175.2,432.6 175.4,432.6 175.7,432.5 176.0,432.5 176.3,432.5 176.6,432.4 176.8,432.4 177.1,432.4 177.4,432.4 177.7,432.4 178.0,432.4 178.2,432.5 178.5,432.5 178.8,432.5 179.1,432.5 179.4,432.6 179.6,432.6 179.9,432.7 180.2,432.8 180.5,432.8 180.8,432.9 181.0,433.0 181.3,433.1 181.6,433.3 181.9,433.4 182.2,433.5 182.4,433.7 182.7,433.8 183.0,434.0 183.3,434.2 183.6,434.4 183.8,434.6 184.1,434.8 184.4,435.0 184.7,435.2 185.0,435.5 185.2,435.7 185.5,436.0 185.8,436.3 186.1,436.6 186.4,436.9 186.6,437.2 186.9,437.6 187.2,437.9 187.5,438.3 187.8,438.6 188.0,439.0 188.3,439.4 188.6,439.8 188.9,440.2 189.2,440.6 189.4,441.0 189.7,441.5 190.0,441.9 190.3,442.4 190.6,442.8 190.8,443.3 191.1,443.8 191.4,444.3 191.7,444.8 192.0,445.3 192.2,445.8 192.5,446.3 192.8,446.8 193.1,447.4 193.4,448.0 193.6,448.5 193.9,449.1 194.2,449.7 194.5,450.3 194.8,450.9 195.0,451.5 195.3,452.1 195.6,452.8 195.9,453.4 196.2,454.1 196.4,454.7 196.7,455.3 197.0,456.0 197.3,456.6 197.6,457.3 197.8,457.9 198.1,458.6 198.4,459.2 198.7,459.8 199.0,460.5 199.2,461.1 199.5,461.7 199.8,462.3 200.1,462.9 200.4,463.5 200.6,464.0 200.9,464.5 201.2,465.0 201.5,465.5 201.8,465.9 202.0,466.3 202.3,466.6 202.6,466.9 202.9,467.0 203.2,467.1 203.4,467.1 203.7,467.0 204.0,466.9 204.3,466.7 204.6,466.4 204.8,466.1 205.1,465.8 205.4,465.5 205.7,465.2 206.0,464.9 206.2,464.5 206.5,464.2 206.8,463.9 207.1,463.7 207.4,463.4 207.6,463.2 207.9,463.0 208.2,462.7 208.5,462.5 208.8,462.4 209.0,462.2 209.3,462.0 209.6,461.9 209.9,461.7 210.2,461.6 210.4,461.5 210.7,461.4 211.0,461.3 211.3,461.2 211.6,461.2 211.8,461.2 212.1,461.1 212.4,461.1 212.7,461.2 213.0,461.2 213.2,461.2 213.5,461.3 213.8,461.4 214.1,461.5 214.4,461.6 214.6,461.8 214.9,461.9 215.2,462.1 215.5,462.3 215.8,462.6 216.0,462.8 216.3,463.1 216.6,463.3 216.9,463.6 217.2,463.9 217.4,464.2 217.7,464.5 218.0,464.8 218.3,465.2 218.6,465.5 218.8,465.9 219.1,466.2 219.4,466.6 219.7,467.0 220.0,467.4 220.2,467.9 220.5,468.3 220.8,468.8 221.1,469.4 221.4,469.9 221.6,470.5 221.9,471.2 222.2,471.8 222.5,472.5 222.8,473.2 223.0,473.9 223.3,474.6 223.6,475.3 223.9,476.0 224.2,476.7 224.4,477.4 224.7,478.1 225.0,478.8 225.3,479.4 225.6,480.0 225.8,480.6 226.1,481.2 226.4,481.7 226.7,482.2 227.0,482.5 227.2,482.8 227.5,483.0 227.8,483.0 228.1,482.9 228.4,482.6 228.6,482.3 228.9,481.8 229.2,481.3 229.5,480.6 229.8,480.0 230.0,479.3 230.3,478.6 230.6,477.8 230.9,477.1 231.2,476.3 231.4,475.5 231.7,474.7 232.0,473.9 232.3,473.1 232.6,472.3 232.8,471.6 233.1,470.8 233.4,470.1 233.7,469.5 234.0,468.8 234.2,468.3 234.5,467.7 234.8,467.2 235.1,466.7 235.4,466.2 235.6,465.8 235.9,465.3 236.2,464.9 236.5,464.6 236.8,464.2 237.0,463.9 237.3,463.5 237.6,463.2 237.9,463.0 238.2,462.7 238.4,462.5 238.7,462.2 239.0,462.0 239.3,461.8 239.6,461.6 239.8,461.4 240.1,461.2 240.4,461.1 240.7,460.9 241.0,460.8 241.2,460.6 241.5,460.5 241.8,460.4 242.1,460.3 242.4,460.2 242.6,460.2 242.9,460.1 243.2,460.1 243.5,460.0 243.8,460.0 244.0,460.0 244.3,460.0 244.6,460.0 244.9,460.0 245.2,460.1 245.4,460.1 245.7,460.2 246.0,460.3 246.3,460.4 246.6,460.5 246.8,460.6 247.1,460.8 247.4,460.9 247.7,461.1 248.0,461.3 248.2,461.6 248.5,461.9 248.8,462.1 249.1,462.5 249.4,462.8 249.6,463.2 249.9,463.6 250.2,464.0 250.5,464.4 250.8,464.9 251.0,465.3 251.3,465.8 251.6,466.3 251.9,466.8 252.2,467.3 252.4,467.8 252.7,468.3 253.0,468.9 253.3,469.4 253.6,470.0 253.8,470.5 254.1,471.1 254.4,471.7 254.7,472.2 255.0,472.8 255.2,473.4 255.5,474.0 255.8,474.6 256.1,475.2 256.4,475.8 256.6,476.4 256.9,477.1 257.2,477.7 257.5,478.3 257.8,479.0 258.0,479.6 258.3,480.2 258.6,480.9 258.9,481.5 259.2,482.1 259.4,482.7 259.7,483.3 260.0,483.9 260.3,484.5 260.6,485.1 260.8,485.7 261.1,486.2 261.4,486.8 261.7,487.3 262.0,487.7 262.2,488.2 262.5,488.5 262.8,488.8 263.1,489.1 263.4,489.2 263.6,489.3 263.9,489.2 264.2,489.1 264.5,488.9 264.8,488.6 265.0,488.3 265.3,487.9 265.6,487.5 265.9,487.1 266.2,486.6 266.4,486.1 266.7,485.5 267.0,485.0 267.3,484.5 267.6,483.9 267.8,483.3 268.1,482.7 268.4,482.1 268.7,481.5 269.0,480.9 269.2,480.3 269.5,479.7 269.8,479.2 270.1,478.6 270.4,478.0 270.6,477.4 270.9,476.9 271.2,476.4 271.5,475.9 271.8,475.4 272.0,474.9 272.3,474.5 272.6,474.1 272.9,473.7 273.2,473.3 273.4,472.9 273.7,472.6 274.0,472.2 274.3,471.9 274.6,471.6 274.8,471.3 275.1,471.0 275.4,470.8 275.7,470.5 276.0,470.3 276.2,470.0 276.5,469.8 276.8,469.6 277.1,469.4 277.4,469.3 277.6,469.1 277.9,468.9 278.2,468.8 278.5,468.6 278.8,468.5 279.0,468.4 279.3,468.2 279.6,468.1 279.9,468.0 280.2,467.9 280.4,467.8 280.7,467.8 281.0,467.7 281.3,467.6 281.6,467.6 281.8,467.6 282.1,467.6 282.4,467.6 282.7,467.6 283.0,467.7 283.2,467.7 283.5,467.8 283.8,467.9 284.1,468.0 284.4,468.1 284.6,468.2 284.9,468.3 285.2,468.4 285.5,468.6 285.8,468.7 286.0,468.8 286.3,468.9 286.6,469.1 286.9,469.2 287.2,469.3 287.4,469.5 287.7,469.6 288.0,469.7 288.3,469.9 288.6,470.0 288.8,470.2 289.1,470.3 289.4,470.4 289.7,470.6 290.0,470.7 290.2,470.9 290.5,471.0 290.8,471.2 291.1,471.3 291.4,471.4 291.6,471.6 291.9,471.7 292.2,471.8 292.5,472.0 292.8,472.1 293.0,472.2 293.3,472.4 293.6,472.5 293.9,472.6 294.2,472.7 294.4,472.8 294.7,472.9 295.0,473.1 295.3,473.2 295.6,473.3 295.8,473.4 296.1,473.5 296.4,473.6 296.7,473.7 297.0,473.7 297.2,473.8 297.5,473.9 297.8,473.9 298.1,474.0 298.4,474.0 298.6,474.0 298.9,474.0 299.2,474.0 299.5,474.0 299.8,474.0 300.0,474.0 300.3,474.0 300.6,474.0 300.9,473.9 301.2,473.9 301.4,473.9 301.7,473.9 302.0,473.8 302.3,473.8 302.6,473.8 302.8,473.8 303.1,473.7 303.4,473.7 303.7,473.7 304.0,473.7 304.2,473.7 304.5,473.8 304.8,473.8 305.1,473.8 305.4,473.8 305.6,473.9 305.9,473.9 306.2,473.9 306.5,474.0 306.8,474.0 307.0,474.1 307.3,474.2 307.6,474.2 307.9,474.3 308.2,474.4 308.4,474.4 308.7,474.5 309.0,474.6 309.3,474.7 309.6,474.8 309.8,474.9 310.1,475.0 310.4,475.1 310.7,475.2 311.0,475.3 311.2,475.4 311.5,475.5 311.8,475.7 312.1,475.8 312.4,475.9 312.6,476.1 312.9,476.2 313.2,476.4 313.5,476.6 313.8,476.7 314.0,476.9 314.3,477.1 314.6,477.3 314.9,477.5 315.2,477.7 315.4,478.0 315.7,478.2 316.0,478.4 316.3,478.7 316.6,479.0 316.8,479.2 317.1,479.5 317.4,479.8 317.7,480.1 318.0,480.4 318.2,480.7 318.5,481.1 318.8,481.4 319.1,481.8 319.4,482.1 319.6,482.5 319.9,482.9 320.2,483.3 320.5,483.7 320.8,484.1 321.0,484.5 321.3,484.9 321.6,485.3 321.9,485.8 322.2,486.2 322.4,486.6 322.7,487.0 323.0,487.4 323.3,487.8 323.6,488.2 323.8,488.6 324.1,489.0 324.4,489.4 324.7,489.7 325.0,490.1 325.2,490.5 325.5,490.8 325.8,491.1 326.1,491.5 326.4,491.8 326.6,492.1 326.9,492.4 327.2,492.7 327.5,493.0 327.8,493.3 328.0,493.5 328.3,493.8 328.6,494.0 328.9,494.2 329.2,494.5 329.4,494.7 329.7,494.8 330.0,495.0 330.3,495.1 330.6,495.3 330.8,495.3 331.1,495.4 331.4,495.4 331.7,495.5 332.0,495.4 332.2,495.4 332.5,495.3 332.8,495.2 333.1,495.1 333.4,494.9 333.6,494.8 333.9,494.6 334.2,494.4 334.5,494.1 334.8,493.9 335.0,493.7 335.3,493.4 335.6,493.2 335.9,492.9 336.2,492.6 336.4,492.4 336.7,492.1 337.0,491.8 337.3,491.6 337.6,491.3 337.8,491.1 338.1,490.9 338.4,490.6 338.7,490.4 339.0,490.2 339.2,490.0 339.5,489.8 339.8,489.6 340.1,489.4 340.4,489.3 340.6,489.1 340.9,489.0 341.2,488.8 341.5,488.7 341.8,488.5 342.0,488.4 342.3,488.3 342.6,488.2 342.9,488.1 343.2,488.0 343.4,488.0 343.7,487.9 344.0,487.8 344.3,487.8 344.6,487.8 344.8,487.8 345.1,487.8 345.4,487.8 345.7,487.9 346.0,487.9 346.2,488.0 346.5,488.1 346.8,488.3 347.1,488.4 347.4,488.6 347.6,488.8 347.9,489.0 348.2,489.2 348.5,489.5 348.8,489.7 349.0,490.0 349.3,490.3 349.6,490.6 349.9,490.9 350.2,491.2 350.4,491.5 350.7,491.8 351.0,492.2 351.3,492.5 351.6,492.9 351.8,493.2 352.1,493.6 352.4,493.9 352.7,494.3 353.0,494.7 353.2,495.0 353.5,495.4 353.8,495.8 354.1,496.2 354.4,496.6 354.6,496.9 354.9,497.3 355.2,497.7 355.5,498.1 355.8,498.5 356.0,498.9 356.3,499.3 356.6,499.7 356.9,500.1 357.2,500.5 357.4,500.9 357.7,501.2 358.0,501.6 358.3,502.0 358.6,502.4 358.8,502.7 359.1,503.1 359.4,503.4 359.7,503.8 360.0,504.1 360.2,504.4 360.5,504.8 360.8,505.1 361.1,505.3 361.4,505.6 361.6,505.8 361.9,506.0 362.2,506.2 362.5,506.4 362.8,506.5 363.0,506.6 363.3,506.6 363.6,506.7 363.9,506.7 364.2,506.6 364.4,506.5 364.7,506.4 365.0,506.3 365.3,506.1 365.6,506.0 365.8,505.8 366.1,505.6 366.4,505.4 366.7,505.2 367.0,505.0 367.2,504.8 367.5,504.6 367.8,504.3 368.1,504.1 368.4,503.9 368.6,503.6 368.9,503.4 369.2,503.2 369.5,502.9 369.8,502.7 370.0,502.5 370.3,502.2 370.6,502.0 370.9,501.8 371.2,501.6 371.4,501.4 371.7,501.2 372.0,500.9 372.3,500.7 372.6,500.5 372.8,500.4 373.1,500.2 373.4,500.0 373.7,499.8 374.0,499.6 374.2,499.5 374.5,499.3 374.8,499.2 375.1,499.0 375.4,498.9 375.6,498.8 375.9,498.7 376.2,498.6 376.5,498.5 376.8,498.5 377.0,498.5 377.3,498.5 377.6,498.5 377.9,498.6 378.2,498.7 378.4,498.8 378.7,498.9 379.0,499.0 379.3,499.2 379.6,499.4 379.8,499.6 380.1,499.9 380.4,500.1 380.7,500.4 381.0,500.7 381.2,501.1 381.5,501.4 381.8,501.8 382.1,502.1 382.4,502.5 382.6,502.9 382.9,503.3 383.2,503.8 383.5,504.2 383.8,504.6 384.0,505.1 384.3,505.6 384.6,506.0 384.9,506.5 385.2,507.0 385.4,507.5 385.7,507.9 386.0,508.4 386.3,508.9 386.6,509.5 386.8,510.0 387.1,510.5 387.4,511.0 387.7,511.5 388.0,512.1 388.2,512.6 388.5,513.1 388.8,513.6 389.1,514.1 389.4,514.6 389.6,515.1 389.9,515.6 390.2,516.1 390.5,516.6 390.8,517.0 391.0,517.5 391.3,517.9 391.6,518.2 391.9,518.6 392.2,518.9 392.4,519.1 392.7,519.3 393.0,519.3 393.3,519.3 393.6,519.2 393.8,518.9 394.1,518.6 394.4,518.1 394.7,517.6 395.0,517.0 395.2,516.4 395.5,515.8 395.8,515.1 396.1,514.3 396.4,513.6 396.6,512.9 396.9,512.1 397.2,511.4 397.5,510.7 397.8,510.0 398.0,509.3 398.3,508.7 398.6,508.0 398.9,507.4 399.2,506.8 399.4,506.2 399.7,505.6 400.0,505.0 400.3,504.4 400.6,503.9 400.8,503.3 401.1,502.8 401.4,502.3 401.7,501.8 402.0,501.3 402.2,500.8 402.5,500.4 402.8,499.9 403.1,499.5 403.4,499.1 403.6,498.7 403.9,498.4 404.2,498.0 404.5,497.7 404.8,497.4 405.0,497.1 405.3,496.8 405.6,496.6 405.9,496.3 406.2,496.1 406.4,495.9 406.7,495.7 407.0,495.5 407.3,495.3 407.6,495.1 407.8,494.9 408.1,494.8 408.4,494.6 408.7,494.5 409.0,494.4 409.2,494.3 409.5,494.2 409.8,494.1 410.1,494.0 410.4,493.9 410.6,493.9 410.9,493.8 411.2,493.8 411.5,493.8 411.8,493.7 412.0,493.8 412.3,493.8 412.6,493.8 412.9,493.8 413.2,493.9 413.4,493.9 413.7,494.0 414.0,494.1 414.3,494.2 414.6,494.3 414.8,494.4 415.1,494.5 415.4,494.7 415.7,494.9 416.0,495.1 416.2,495.3 416.5,495.5 416.8,495.8 417.1,496.0 417.4,496.3 417.6,496.6 417.9,496.9 418.2,497.2 418.5,497.5 418.8,497.8 419.0,498.1 419.3,498.4 419.6,498.8 419.9,499.1 420.2,499.5 420.4,499.8 420.7,500.2 421.0,500.6 421.3,501.0 421.6,501.3 421.8,501.7 422.1,502.1 422.4,502.5 422.7,502.9 423.0,503.3 423.2,503.7 423.5,504.1 423.8,504.5 424.1,505.0 424.4,505.4 424.6,505.8 424.9,506.2 425.2,506.6 425.5,507.0 425.8,507.4 426.0,507.8 426.3,508.2 426.6,508.6 426.9,508.9 427.2,509.3 427.4,509.6 427.7,510.0 428.0,510.3 428.3,510.6 428.6,510.9 428.8,511.2 429.1,511.4 429.4,511.7 429.7,511.9 430.0,512.0 430.2,512.2 430.5,512.3 430.8,512.4 431.1,512.5 431.4,512.5 431.6,512.5 431.9,512.5 432.2,512.5 432.5,512.4 432.8,512.3 433.0,512.2 433.3,512.0 433.6,511.9 433.9,511.7 434.2,511.6 434.4,511.4 434.7,511.2 435.0,511.1 435.3,510.9 435.6,510.7 435.8,510.5 436.1,510.3 436.4,510.1 436.7,509.9 437.0,509.7 437.2,509.5 437.5,509.3 437.8,509.0 438.1,508.8 438.4,508.6 438.6,508.4 438.9,508.2 439.2,508.0 439.5,507.8 439.8,507.6 440.0,507.4 440.3,507.2 440.6,507.0 440.9,506.9 441.2,506.7 441.4,506.5 441.7,506.3 442.0,506.2 442.3,506.0 442.6,505.9 442.8,505.7 443.1,505.6 443.4,505.4 443.7,505.3 444.0,505.2 444.2,505.1 444.5,505.1 444.8,505.0 445.1,505.0 445.4,504.9 445.6,504.9 445.9,504.9 446.2,504.9 446.5,504.9 446.8,505.0 447.0,505.0 447.3,505.1 447.6,505.1 447.9,505.2 448.2,505.3 448.4,505.4 448.7,505.5 449.0,505.7 449.3,505.8 449.6,505.9 449.8,506.1 450.1,506.2 450.4,506.4 450.7,506.6 451.0,506.7 451.2,506.9 451.5,507.1 451.8,507.3 452.1,507.5 452.4,507.7 452.6,507.9 452.9,508.1 453.2,508.3 453.5,508.6 453.8,508.8 454.0,509.0 454.3,509.3 454.6,509.5 454.9,509.8 455.2,510.0 455.4,510.3 455.7,510.5 456.0,510.8 456.3,511.0 456.6,511.3 456.8,511.5 457.1,511.7 457.4,512.0 457.7,512.2 458.0,512.5 458.2,512.7 458.5,512.9 458.8,513.1 459.1,513.3 459.4,513.5 459.6,513.7 459.9,513.9 460.2,514.1 460.5,514.3 460.8,514.4 461.0,514.6 461.3,514.7 461.6,514.8 461.9,514.9 462.2,515.0 462.4,515.1 462.7,515.1 463.0,515.2 463.3,515.2 463.6,515.1 463.8,515.1 464.1,515.0 464.4,514.8 464.7,514.7 465.0,514.6 465.2,514.5 465.5,514.3 465.8,514.1 466.1,514.0 466.4,513.8 466.6,513.6 466.9,513.4 467.2,513.3 467.5,513.1 467.8,512.9 468.0,512.7 468.3,512.5 468.6,512.3 468.9,512.1 469.2,511.9 469.4,511.7 469.7,511.5 470.0,511.3 470.3,511.1 470.6,510.9 470.8,510.7 471.1,510.5 471.4,510.3 471.7,510.2 472.0,510.0 472.2,509.8 472.5,509.6 472.8,509.4 473.1,509.3 473.4,509.1 473.6,508.9 473.9,508.7 474.2,508.6 474.5,508.4 474.8,508.3 475.0,508.1 475.3,508.0 475.6,507.8 475.9,507.7 476.2,507.6 476.4,507.5 476.7,507.4 477.0,507.3 477.3,507.2 477.6,507.2 477.8,507.1 478.1,507.1 478.4,507.0 478.7,507.0 479.0,507.0 479.2,507.0 479.5,507.0 479.8,507.0 480.1,507.0 480.4,507.0 480.6,507.0 480.9,507.1 481.2,507.1 481.5,507.2 481.8,507.3 482.0,507.4 482.3,507.5 482.6,507.6 482.9,507.7 483.2,507.8 483.4,508.0 483.7,508.2 484.0,508.3 484.3,508.5 484.6,508.7 484.8,508.9 485.1,509.1 485.4,509.4 485.7,509.6 486.0,509.9 486.2,510.1 486.5,510.4 486.8,510.7 487.1,511.0 487.4,511.3 487.6,511.6 487.9,512.0 488.2,512.3 488.5,512.6 488.8,513.0 489.0,513.3 489.3,513.7 489.6,514.1 489.9,514.5 490.2,514.9 490.4,515.3 490.7,515.7 491.0,516.1 491.3,516.5 491.6,517.0 491.8,517.4 492.1,517.9 492.4,518.4 492.7,518.8 493.0,519.3 493.2,519.8 493.5,520.2 493.8,520.7 494.1,521.2 494.4,521.6 494.6,522.1 494.9,522.5 495.2,523.0 495.5,523.4 495.8,523.9 496.0,524.3 496.3,524.7 496.6,525.1 496.9,525.5 497.2,525.9 497.4,526.3 497.7,526.7 498.0,527.0 498.3,527.4 498.6,527.7 498.8,528.0 499.1,528.3 499.4,528.6 499.7,528.9 500.0,529.1 500.2,529.3 500.5,529.5 500.8,529.7 501.1,529.8 501.4,529.9 501.6,530.0 501.9,530.1 502.2,530.2 502.5,530.2 502.8,530.2 503.0,530.1 503.3,530.1 503.6,530.0 503.9,529.9 504.2,529.8 504.4,529.7 504.7,529.5 505.0,529.4 505.3,529.2 505.6,529.1 505.8,528.9 506.1,528.7 506.4,528.5 506.7,528.2 507.0,528.0 507.2,527.8 507.5,527.6 507.8,527.3 508.1,527.1 508.4,526.9 508.6,526.7 508.9,526.4 509.2,526.2 509.5,526.0 509.8,525.8 510.0,525.6 510.3,525.5 510.6,525.3 510.9,525.1 511.2,525.0 511.4,524.9 511.7,524.7 512.0,524.6 512.3,524.5 512.6,524.4 512.8,524.4 513.1,524.3 513.4,524.2 513.7,524.2 514.0,524.2 514.2,524.2 514.5,524.2 514.8,524.2 515.1,524.2 515.4,524.3 515.6,524.3 515.9,524.4 516.2,524.5 516.5,524.6 516.8,524.8 517.0,524.9 517.3,525.1 517.6,525.2 517.9,525.4 518.2,525.6 518.4,525.8 518.7,526.1 519.0,526.3 519.3,526.6 519.6,526.8 519.8,527.1 520.1,527.4 520.4,527.7 520.7,528.0 521.0,528.3 521.2,528.6 521.5,529.0 521.8,529.3 522.1,529.7 522.4,530.1 522.6,530.4 522.9,530.8 523.2,531.2 523.5,531.6 523.8,531.9 524.0,532.3 524.3,532.7 524.6,533.0 524.9,533.3 525.2,533.7 525.4,534.0 525.7,534.3 526.0,534.6 526.3,534.8 526.6,535.1 526.8,535.3 527.1,535.5 527.4,535.7 527.7,535.9 528.0,535.9 528.2,536.0 528.5,535.9 528.8,535.9 529.1,535.7 529.4,535.5 529.6,535.3 529.9,535.0 530.2,534.7 530.5,534.4 530.8,534.1 531.0,533.8 531.3,533.5 531.6,533.1 531.9,532.7 532.2,532.4 532.4,532.0 532.7,531.6 533.0,531.2 533.3,530.9 533.6,530.5 533.8,530.2 534.1,529.8 534.4,529.4 534.7,529.1 535.0,528.7 535.2,528.4 535.5,528.1 535.8,527.7 536.1,527.4 536.4,527.1 536.6,526.8 536.9,526.5 537.2,526.2 537.5,526.0 537.8,525.7 538.0,525.4 538.3,525.2 538.6,525.0 538.9,524.7 539.2,524.5 539.4,524.3 539.7,524.1 540.0,523.9 540.3,523.7 540.6,523.5 540.8,523.3 541.1,523.2 541.4,523.0 541.7,522.8 542.0,522.7 542.2,522.5 542.5,522.4 542.8,522.2 543.1,522.1 543.4,522.0 543.6,521.9 543.9,521.8 544.2,521.7 544.5,521.6 544.8,521.5 545.0,521.5 545.3,521.4 545.6,521.4 545.9,521.3 546.2,521.3 546.4,521.3 546.7,521.3 547.0,521.2 547.3,521.3 547.6,521.3 547.8,521.3 548.1,521.3 548.4,521.3 548.7,521.4 549.0,521.4 549.2,521.5 549.5,521.6 549.8,521.7 550.1,521.8 550.4,522.0 550.6,522.2 550.9,522.4 551.2,522.6 551.5,522.9 551.8,523.1 552.0,523.5 552.3,523.8 552.6,524.2 552.9,524.6 553.2,525.0 553.4,525.4 553.7,525.9 554.0,526.3 554.3,526.7 554.6,527.2 554.8,527.6 555.1,528.1 555.4,528.5 555.7,529.0 556.0,529.5 556.2,529.9 556.5,530.4 556.8,530.9 557.1,531.3 557.4,531.8 557.6,532.3 557.9,532.8 558.2,533.2 558.5,533.7 558.8,534.2 559.0,534.7 559.3,535.1 559.6,535.6 559.9,536.0 560.2,536.5 560.4,537.0 560.7,537.4 561.0,537.9 561.3,538.3 561.6,538.8 561.8,539.2 562.1,539.6 562.4,540.1 562.7,540.5 563.0,540.9 563.2,541.4 563.5,541.8 563.8,542.2 564.1,542.6 564.4,543.0 564.6,543.3 564.9,543.6 565.2,543.9 565.5,544.1 565.8,544.2 566.0,544.3 566.3,544.3 566.6,544.2 566.9,544.1 567.2,543.8 567.4,543.6 567.7,543.2 568.0,542.9 568.3,542.5 568.6,542.0 568.8,541.6 569.1,541.1 569.4,540.6 569.7,540.1 570.0,539.6 570.2,539.1 570.5,538.6 570.8,538.1 571.1,537.6 571.4,537.0 571.6,536.5 571.9,536.0 572.2,535.5 572.5,535.0 572.8,534.5 573.0,534.0 573.3,533.5 573.6,533.0 573.9,532.6 574.2,532.1 574.4,531.7 574.7,531.3 575.0,530.9 575.3,530.6 575.6,530.2 575.8,529.9 576.1,529.6 576.4,529.3 576.7,529.0 577.0,528.8 577.2,528.5 577.5,528.3 577.8,528.1 578.1,527.9 578.4,527.7 578.6,527.6 578.9,527.4 579.2,527.3 579.5,527.1 579.8,527.0 580.0,526.9 580.3,526.8 580.6,526.7 580.9,526.6 581.2,526.5 581.4,526.4 581.7,526.3 582.0,526.3 582.3,526.2 582.6,526.2 582.8,526.2 583.1,526.1 583.4,526.1 583.7,526.1 584.0,526.2 584.2,526.2 584.5,526.2 584.8,526.3 585.1,526.3 585.4,526.4 585.6,526.4 585.9,526.5 586.2,526.6 586.5,526.7 586.8,526.8 587.0,527.0 587.3,527.1 587.6,527.2 587.9,527.4 588.2,527.6 588.4,527.7 588.7,527.9 589.0,528.1 589.3,528.4 589.6,528.6 589.8,528.8 590.1,529.1 590.4,529.4 590.7,529.7 591.0,530.0 591.2,530.3 591.5,530.6 591.8,530.9 592.1,531.2 592.4,531.5 592.6,531.9 592.9,532.2 593.2,532.5 593.5,532.9 593.8,533.2 594.0,533.5 594.3,533.8 594.6,534.1 594.9,534.4 595.2,534.7 595.4,534.9 595.7,535.2 596.0,535.5 596.3,535.7 596.6,536.0 596.8,536.2 597.1,536.4 597.4,536.7 597.7,536.9 598.0,537.1 598.2,537.2 598.5,537.4 598.8,537.6 599.1,537.7 599.4,537.8 599.6,538.0 599.9,538.1 600.2,538.1 600.5,538.2 600.8,538.2 601.0,538.2 601.3,538.2 601.6,538.2 601.9,538.1 602.2,538.1 602.4,538.0 602.7,537.9 603.0,537.8 603.3,537.6 603.6,537.5 603.8,537.3 604.1,537.1 604.4,536.9 604.7,536.7 605.0,536.5 605.2,536.3 605.5,536.1 605.8,535.9 606.1,535.7 606.4,535.4 606.6,535.2 606.9,535.0 607.2,534.8 607.5,534.5 607.8,534.3 608.0,534.1 608.3,533.9 608.6,533.7 608.9,533.5 609.2,533.3 609.4,533.1 609.7,532.9 610.0,532.7 610.3,532.5 610.6,532.3 610.8,532.2 611.1,532.0 611.4,531.8 611.7,531.7 612.0,531.5 612.2,531.4 612.5,531.2 612.8,531.1 613.1,530.9 613.4,530.8 613.6,530.7 613.9,530.6 614.2,530.5 614.5,530.4 614.8,530.4 615.0,530.3 615.3,530.3 615.6,530.3 615.9,530.3 616.2,530.3 616.4,530.3 616.7,530.4 617.0,530.4 617.3,530.5 617.6,530.6 617.8,530.7 618.1,530.8 618.4,530.9 618.7,531.0 619.0,531.2 619.2,531.3 619.5,531.5 619.8,531.7 620.1,531.9 620.4,532.1 620.6,532.3 620.9,532.5 621.2,532.7 621.5,533.0 621.8,533.3 622.0,533.5 622.3,533.8 622.6,534.1 622.9,534.4 623.2,534.7 623.4,535.1 623.7,535.4 624.0,535.7 624.3,536.0 624.6,536.4 624.8,536.7 625.1,537.1 625.4,537.5 625.7,537.8 626.0,538.2 626.2,538.6 626.5,539.0 626.8,539.4 627.1,539.8 627.4,540.2 627.6,540.6 627.9,541.0 628.2,541.4 628.5,541.8 628.8,542.3 629.0,542.7 629.3,543.1 629.6,543.6 629.9,544.0 630.2,544.4 630.4,544.9 630.7,545.3 631.0,545.7 631.3,546.1 631.6,546.5 631.8,546.9 632.1,547.3 632.4,547.7 632.7,548.1 633.0,548.4 633.2,548.7 633.5,549.0 633.8,549.3 634.1,549.6 634.4,549.9 634.6,550.2 634.9,550.4 635.2,550.6 635.5,550.9 635.8,551.1 636.0,551.3 636.3,551.5 636.6,551.6 636.9,551.8 637.2,551.9 637.4,552.0 637.7,552.0 638.0,552.0 638.3,551.9 638.6,551.7 638.8,551.5 639.1,551.3 639.4,551.0 639.7,550.8 640.0,550.5 640.2,550.1 640.5,549.8 640.8,549.5 641.1,549.1 641.4,548.7 641.6,548.3 641.9,548.0 642.2,547.6 642.5,547.2 642.8,546.8 643.0,546.4 643.3,546.0 643.6,545.6 643.9,545.2 644.2,544.8 644.4,544.4 644.7,544.0 645.0,543.6 645.3,543.2 645.6,542.9 645.8,542.5 646.1,542.1 646.4,541.8 646.7,541.4 647.0,541.1 647.2,540.8 647.5,540.5 647.8,540.2 648.1,539.9 648.4,539.6 648.6,539.4 648.9,539.2 649.2,538.9 649.5,538.7 649.8,538.6 650.0,538.4 650.3,538.2 650.6,538.1 650.9,538.0 651.2,537.8 651.4,537.7 651.7,537.6 652.0,537.6 652.3,537.5 652.6,537.4 652.8,537.4 653.1,537.4 653.4,537.3 653.7,537.3 654.0,537.3 654.2,537.4 654.5,537.4 654.8,537.5 655.1,537.6 655.4,537.7 655.6,537.8 655.9,538.0 656.2,538.1 656.5,538.3 656.8,538.5 657.0,538.7 657.3,538.9 657.6,539.1 657.9,539.3 658.2,539.6 658.4,539.8 658.7,540.1 659.0,540.4 659.3,540.6 659.6,540.9 659.8,541.2 660.1,541.5 660.4,541.8 660.7,542.1 661.0,542.5 661.2,542.8 661.5,543.1 661.8,543.5 662.1,543.8 662.4,544.2 662.6,544.5 662.9,544.9 663.2,545.2 663.5,545.6 663.8,545.9 664.0,546.3 664.3,546.7 664.6,547.0 664.9,547.4 665.2,547.7 665.4,548.1 665.7,548.4 666.0,548.8 666.3,549.1 666.6,549.4 666.8,549.7 667.1,550.0 667.4,550.3 667.7,550.6 668.0,550.9 668.2,551.2 668.5,551.5 668.8,551.7 669.1,552.0 669.4,552.2 669.6,552.4 669.9,552.6 670.2,552.8 670.5,553.0 670.8,553.1 671.0,553.2 671.3,553.3 671.6,553.3 671.9,553.3 672.2,553.3 672.4,553.2 672.7,553.1 673.0,553.0 673.3,552.8 673.6,552.7 673.8,552.5 674.1,552.3 674.4,552.1 674.7,551.9 675.0,551.7 675.2,551.5 675.5,551.2 675.8,551.0 676.1,550.7 676.4,550.5 676.6,550.2 676.9,550.0 677.2,549.7 677.5,549.5 677.8,549.2 678.0,548.9 678.3,548.7 678.6,548.4 678.9,548.2 679.2,548.0 679.4,547.7 679.7,547.5 680.0,547.3 680.3,547.1 680.6,546.9 680.8,546.8 681.1,546.6 681.4,546.4 681.7,546.3 682.0,546.2 682.2,546.1 682.5,545.9 682.8,545.9 683.1,545.8 683.4,545.7 683.6,545.6 683.9,545.6 684.2,545.5 684.5,545.5 684.8,545.5 685.0,545.5 685.3,545.5 685.6,545.5 685.9,545.6 686.2,545.6 686.4,545.7 686.7,545.7 687.0,545.8 687.3,545.9 687.6,546.1 687.8,546.2 688.1,546.3 688.4,546.5 688.7,546.7 689.0,546.9 689.2,547.1 689.5,547.3 689.8,547.5 690.1,547.8 690.4,548.0 690.6,548.3 690.9,548.6 691.2,548.9 691.5,549.1 691.8,549.4 692.0,549.7 692.3,550.0 692.6,550.3 692.9,550.6 693.2,551.0 693.4,551.3 693.7,551.6 694.0,551.9 694.3,552.3 694.6,552.6 694.8,552.9 695.1,553.3 695.4,553.6 695.7,554.0 696.0,554.3 696.2,554.7 696.5,555.0 696.8,555.3 697.1,555.6 697.4,555.9 697.6,556.2 697.9,556.5 698.2,556.7 698.5,557.0 698.8,557.2 699.0,557.4 699.3,557.6 699.6,557.8 699.9,558.0 700.2,558.2 700.4,558.3 700.7,558.5 701.0,558.6 701.3,558.7 701.6,558.8 701.8,558.9 702.1,559.0 702.4,559.1 702.7,559.2 703.0,559.2 703.2,559.3 703.5,559.3 703.8,559.4 704.1,559.4 704.4,559.4 704.6,559.4 704.9,559.4" stroke="#fc0208" stroke-width="2.2"/>
</g>
<rect x="51.40" y="392.00" width="652.90" height="162.40" fill="none" stroke="#2a2a2a" stroke-width="1"/>
<text x="27.80" y="397.00" textLength="15.2" lengthAdjust="spacingAndGlyphs" font-size="10.9" fill="#1c1c1c" stroke="#1c1c1c" stroke-width="0.25" font-family='"Liberation Sans", sans-serif'>10<tspan dy="-3.6" font-size="7.6">0</tspan></text>
<text x="20.40" y="425.00" textLength="22.6" lengthAdjust="spacingAndGlyphs" font-size="10.9" fill="#1c1c1c" stroke="#1c1c1c" stroke-width="0.25" font-family='"Liberation Sans", sans-serif'>10<tspan dy="-3.6" font-size="7.6">−1</tspan></text>
<text x="20.40" y="453.00" textLength="22.6" lengthAdjust="spacingAndGlyphs" font-size="10.9" fill="#1c1c1c" stroke="#1c1c1c" stroke-width="0.25" font-family='"Liberation Sans", sans-serif'>10<tspan dy="-3.6" font-size="7.6">−2</tspan></text>
<text x="20.40" y="481.00" textLength="22.6" lengthAdjust="spacingAndGlyphs" font-size="10.9" fill="#1c1c1c" stroke="#1c1c1c" stroke-width="0.25" font-family='"Liberation Sans", sans-serif'>10<tspan dy="-3.6" font-size="7.6">−3</tspan></text>
<text x="20.40" y="509.00" textLength="22.6" lengthAdjust="spacingAndGlyphs" font-size="10.9" fill="#1c1c1c" stroke="#1c1c1c" stroke-width="0.25" font-family='"Liberation Sans", sans-serif'>10<tspan dy="-3.6" font-size="7.6">−4</tspan></text>
<text x="20.40" y="537.00" textLength="22.6" lengthAdjust="spacingAndGlyphs" font-size="10.9" fill="#1c1c1c" stroke="#1c1c1c" stroke-width="0.25" font-family='"Liberation Sans", sans-serif'>10<tspan dy="-3.6" font-size="7.6">−5</tspan></text>
<path d="M51.40 392.20h-3.6 M51.40 411.77h-2 M51.40 406.84h-2 M51.40 403.34h-2 M51.40 400.63h-2 M51.40 398.41h-2 M51.40 396.54h-2 M51.40 394.91h-2 M51.40 393.48h-2 M51.40 420.20h-3.6 M51.40 439.77h-2 M51.40 434.84h-2 M51.40 431.34h-2 M51.40 428.63h-2 M51.40 426.41h-2 M51.40 424.54h-2 M51.40 422.91h-2 M51.40 421.48h-2 M51.40 448.20h-3.6 M51.40 467.77h-2 M51.40 462.84h-2 M51.40 459.34h-2 M51.40 456.63h-2 M51.40 454.41h-2 M51.40 452.54h-2 M51.40 450.91h-2 M51.40 449.48h-2 M51.40 476.20h-3.6 M51.40 495.77h-2 M51.40 490.84h-2 M51.40 487.34h-2 M51.40 484.63h-2 M51.40 482.41h-2 M51.40 480.54h-2 M51.40 478.91h-2 M51.40 477.48h-2 M51.40 504.20h-3.6 M51.40 523.77h-2 M51.40 518.84h-2 M51.40 515.34h-2 M51.40 512.63h-2 M51.40 510.41h-2 M51.40 508.54h-2 M51.40 506.91h-2 M51.40 505.48h-2 M51.40 532.20h-3.6 M51.40 551.77h-2 M51.40 546.84h-2 M51.40 543.34h-2 M51.40 540.63h-2 M51.40 538.41h-2 M51.40 536.54h-2 M51.40 534.91h-2 M51.40 533.48h-2 M170.50 554.40v1.3 M295.70 554.40v1.3 M421.00 554.40v1.3 M546.20 554.40v1.3 M671.40 554.40v1.3" stroke="#2a2a2a" stroke-width="1" fill="none"/>
<text transform="translate(12.10 473.90) rotate(-90)" text-anchor="middle" font-size="11" fill="#1c1c1c" font-family='"Liberation Sans", sans-serif' textLength="77" lengthAdjust="spacingAndGlyphs">Intensity [a.u.]</text>
<g clip-path="url(#cpd)" fill="none" stroke-linejoin="round" stroke-linecap="round">
<polyline points="52.3,585.4 52.6,584.1 52.9,583.2 53.1,582.4 53.4,581.7 53.7,581.1 54.0,580.7 54.3,580.4 54.5,579.9 54.8,579.8 55.1,579.5 55.4,579.3 55.7,579.1 55.9,578.7 56.2,578.5 56.5,578.2 56.8,577.9 57.1,577.7 57.3,577.4 57.6,577.2 57.9,576.8 58.2,576.6 58.5,576.4 58.7,576.2 59.0,575.6 59.3,575.5 59.6,575.3 59.9,575.1 60.1,574.8 60.4,574.5 60.7,574.3 61.0,574.0 61.3,573.7 61.5,573.6 61.8,573.3 62.1,573.1 62.4,572.8 62.7,572.8 62.9,572.4 63.2,572.2 63.5,572.1 63.8,571.7 64.1,571.6 64.3,571.4 64.6,571.2 64.9,571.0 65.2,570.8 65.5,570.5 65.7,570.4 66.0,570.3 66.3,570.0 66.6,570.0 66.9,569.7 67.1,569.6 67.4,569.4 67.7,569.3 68.0,569.1 68.3,569.0 68.5,568.9 68.8,568.7 69.1,568.4 69.4,568.5 69.7,568.2 69.9,568.2 70.2,568.0 70.5,567.9 70.8,567.8 71.1,567.7 71.3,567.7 71.6,567.4 71.9,567.4 72.2,567.4 72.5,567.3 72.7,567.2 73.0,567.1 73.3,567.0 73.6,566.9 73.9,566.9 74.1,566.8 74.4,566.7 74.7,566.5 75.0,566.5 75.3,566.7 75.5,566.7 75.8,566.6 76.1,566.6 76.4,566.5 76.7,566.6 76.9,566.5 77.2,566.5 77.5,566.6 77.8,566.4 78.1,566.4 78.3,566.4 78.6,566.3 78.9,566.4 79.2,566.5 79.5,566.5 79.7,566.4 80.0,566.5 80.3,566.3 80.6,566.4 80.9,566.2 81.1,566.1 81.4,566.2 81.7,566.1 82.0,566.0 82.3,565.9 82.5,565.8 82.8,565.7 83.1,565.8 83.4,565.8 83.7,565.6 83.9,565.6 84.2,565.5 84.5,565.4 84.8,565.5 85.1,565.5 85.3,565.4 85.6,565.4 85.9,565.2 86.2,565.2 86.5,565.2 86.7,565.1 87.0,565.1 87.3,565.1 87.6,565.0 87.9,565.0 88.1,565.0 88.4,564.9 88.7,564.7 89.0,564.9 89.3,564.8 89.5,564.8 89.8,564.7 90.1,564.7 90.4,564.7 90.7,564.6 90.9,564.6 91.2,564.5 91.5,564.5 91.8,564.4 92.1,564.4 92.3,564.3 92.6,564.4 92.9,564.4 93.2,564.1 93.5,564.4 93.7,564.3 94.0,564.2 94.3,564.3 94.6,564.2 94.9,564.2 95.1,564.3 95.4,564.2 95.7,564.2 96.0,564.2 96.3,564.2 96.5,564.1 96.8,564.1 97.1,564.1 97.4,564.2 97.7,564.1 97.9,564.2 98.2,564.3 98.5,564.2 98.8,564.1 99.1,564.3 99.3,564.1 99.6,564.3 99.9,564.0 100.2,564.1 100.5,564.1 100.7,564.1 101.0,563.9 101.3,563.9 101.6,564.0 101.9,563.8 102.1,564.0 102.4,564.0 102.7,564.0 103.0,563.9 103.3,563.9 103.5,563.8 103.8,564.0 104.1,563.9 104.4,563.9 104.7,563.8 104.9,563.9 105.2,563.7 105.5,563.9 105.8,563.8 106.1,563.7 106.3,563.9 106.6,563.8 106.9,563.9 107.2,563.8 107.5,563.9 107.7,564.0 108.0,564.0 108.3,564.1 108.6,564.1 108.9,564.4 109.1,564.4 109.4,564.7 109.7,564.7 110.0,565.1 110.3,565.3 110.5,565.4 110.8,565.8 111.1,566.0 111.4,566.5 111.7,566.8 111.9,567.2 112.2,567.9 112.5,568.3 112.8,568.8 113.1,569.6 113.3,570.3 113.6,571.2 113.9,571.9 114.2,573.2 114.5,574.3 114.7,575.6 115.0,576.9 115.3,578.3 115.6,579.9 115.9,581.3 116.1,582.8 116.4,584.5 116.7,586.2 117.0,587.8 117.3,589.2 117.5,590.5 117.8,591.8 118.1,592.3 118.4,592.7 118.7,592.7 118.9,592.6 119.2,591.8 119.5,591.1 119.8,590.1 120.1,589.1 120.3,588.0 120.6,587.0 120.9,586.0 121.2,585.1 121.5,584.1 121.7,583.1 122.0,582.2 122.3,581.4 122.6,580.7 122.9,580.1 123.1,579.4 123.4,578.6 123.7,578.2 124.0,577.5 124.3,577.0 124.5,576.6 124.8,576.0 125.1,575.7 125.4,575.5 125.7,575.2 125.9,575.0 126.2,574.8 126.5,574.5 126.8,574.3 127.1,574.3 127.3,574.0 127.6,574.0 127.9,574.0 128.2,574.0 128.5,574.0 128.7,573.9 129.0,573.9 129.3,573.9 129.6,573.9 129.9,574.2 130.1,574.3 130.4,574.4 130.7,574.5 131.0,574.6 131.3,574.9 131.5,575.1 131.8,575.1 132.1,575.5 132.4,575.7 132.7,576.0 132.9,576.1 133.2,576.3 133.5,576.5 133.8,576.8 134.1,577.1 134.3,577.4 134.6,577.8 134.9,578.1 135.2,578.5 135.5,578.7 135.7,579.0 136.0,579.4 136.3,580.0 136.6,580.3 136.9,580.5 137.1,581.0 137.4,581.4 137.7,581.7 138.0,582.1 138.3,582.6 138.5,583.0 138.8,583.4 139.1,583.7 139.4,584.1 139.7,584.5 139.9,584.9 140.2,585.4 140.5,585.6 140.8,586.0 141.1,586.4 141.3,586.7 141.6,587.1 141.9,587.4 142.2,587.7 142.5,588.2 142.7,588.6 143.0,588.8 143.3,589.1 143.6,589.3 143.9,589.4 144.1,590.2 144.4,590.5 144.7,590.2 145.0,590.9 145.3,590.7 145.5,592.2 145.8,591.7 146.1,592.2 146.4,593.4 146.7,590.6 146.9,593.0 147.2,593.1 147.5,592.9 147.8,593.4 148.1,594.7 148.3,593.5 148.6,593.9 148.9,596.4 149.2,596.1 149.5,596.1 149.7,596.7 150.0,596.5 150.3,596.6 150.6,597.1 150.9,597.9 151.1,597.6 151.4,597.0 151.7,598.6 152.0,599.4 152.3,599.5 152.5,601.8 152.8,600.7 153.1,601.7 153.4,601.3 153.7,601.5 153.9,602.5 154.2,603.2 154.5,602.5 154.8,602.6 155.1,604.9 155.3,603.8 155.6,605.0 155.9,604.8 156.2,605.8 156.5,606.9 156.7,607.5 157.0,606.4 157.3,606.6 157.6,606.2 157.9,607.9 158.1,608.3 158.4,608.2 158.7,608.3 159.0,608.6 159.3,608.6 159.5,608.9 159.8,609.2 160.1,609.4 160.4,609.7 160.7,609.9 160.9,610.2 161.2,610.4 161.5,611.0 161.8,611.2 162.1,611.4 162.3,611.6 162.6,611.9 162.9,612.0 163.2,612.3 163.5,612.5 163.7,612.6 164.0,612.7 164.3,612.5 164.6,612.7 164.9,612.4 165.1,612.2 165.4,612.3 165.7,611.8 166.0,611.6 166.3,611.2 166.5,610.8 166.8,610.7 167.1,610.0 167.4,609.9 167.7,609.4 167.9,609.2 168.2,608.7 168.5,608.2 168.8,607.7 169.1,607.5 169.3,607.1 169.6,606.7 169.9,606.2 170.2,605.9 170.5,605.5 170.7,605.2 171.0,604.9 171.3,604.5 171.6,604.2 171.9,603.9 172.1,603.6 172.4,603.2 172.7,603.1 173.0,602.7 173.3,602.4 173.5,602.2 173.8,602.0 174.1,601.7 174.4,601.4 174.7,601.3 174.9,601.1 175.2,600.9 175.5,600.7 175.8,600.8 176.1,600.5 176.3,600.5 176.6,600.4 176.9,600.2 177.2,600.2 177.5,600.2 177.7,600.0 178.0,600.0 178.3,600.0 178.6,600.0 178.9,600.0 179.1,600.1 179.4,600.0 179.7,600.2 180.0,600.3 180.3,600.4 180.5,600.4 180.8,600.7 181.1,600.9 181.4,600.9 181.7,601.0 181.9,601.3 182.2,601.4 182.5,601.7 182.8,601.9 183.1,602.0 183.3,602.5 183.6,602.6 183.9,602.9 184.2,603.3 184.5,603.8 184.7,604.0 185.0,604.5 185.3,604.8 185.6,605.4 185.9,605.8 186.1,606.4 186.4,606.8 186.7,607.3 187.0,607.7 187.3,608.5 187.5,609.2 187.8,609.7 188.1,610.4 188.4,611.1 188.7,611.8 188.9,612.4 189.2,613.2 189.5,614.0 189.8,614.8 190.1,615.5 190.3,616.2 190.6,617.2 190.9,618.1 191.2,619.1 191.5,619.8 191.7,620.6 192.0,621.6 192.3,622.6 192.6,623.6 192.9,624.5 193.1,625.5 193.4,626.7 193.7,627.8 194.0,629.0 194.3,630.1 194.5,631.2 194.8,632.5 195.1,633.4 195.4,634.7 195.7,635.5 195.9,636.5 196.2,637.6 196.5,638.4 196.8,639.9 197.1,640.5 197.3,641.3 197.6,642.1 197.9,642.2 198.2,642.4 198.5,641.5 198.7,641.7 199.0,641.1 199.3,640.3 199.6,640.0 199.9,639.1 200.1,638.3 200.4,637.4 200.7,637.2 201.0,635.8 201.3,635.5 201.5,635.0 201.8,634.1 202.1,633.2 202.4,632.7 202.7,632.1 202.9,631.7 203.2,631.1 203.5,630.5 203.8,630.0 204.1,629.9 204.3,629.2 204.6,628.9 204.9,629.0 205.2,628.3 205.5,627.9 205.7,627.7 206.0,627.6 206.3,627.2 206.6,627.1 206.9,626.6 207.1,626.6 207.4,626.5 207.7,626.4 208.0,626.4 208.3,626.2 208.5,625.7 208.8,625.7 209.1,625.7 209.4,625.9 209.7,625.8 209.9,625.8 210.2,625.5 210.5,625.5 210.8,625.9 211.1,625.8 211.3,625.8 211.6,626.1 211.9,626.3 212.2,626.4 212.5,626.6 212.7,627.1 213.0,627.1 213.3,627.6 213.6,627.8 213.9,628.0 214.1,628.7 214.4,628.5 214.7,629.3 215.0,629.2 215.3,629.5 215.5,629.9 215.8,630.3 216.1,630.6 216.4,630.9 216.7,631.3 216.9,632.0 217.2,632.7 217.5,633.0 217.8,633.9 218.1,634.6 218.3,635.3 218.6,635.9 218.9,636.6 219.2,637.7 219.5,638.0 219.7,639.1 220.0,640.0 220.3,640.5 220.6,641.7 220.9,642.5 221.1,642.7 221.4,643.6 221.7,644.2 222.0,644.8 222.3,645.4 222.5,646.2 222.8,646.9 223.1,647.1 223.4,647.6 223.7,648.0 223.9,648.0 224.2,648.3 224.5,647.8 224.8,647.4 225.1,647.2 225.3,646.2 225.6,645.9 225.9,645.3 226.2,644.7 226.5,643.7 226.7,643.1 227.0,642.5 227.3,641.9 227.6,641.1 227.9,640.4 228.1,639.5 228.4,639.0 228.7,637.9 229.0,637.7 229.3,637.1 229.5,636.3 229.8,635.5 230.1,635.2 230.4,634.3 230.7,634.0 230.9,633.2 231.2,632.6 231.5,632.2 231.8,631.7 232.1,631.3 232.3,631.0 232.6,630.5 232.9,630.1 233.2,629.8 233.5,629.5 233.7,629.2 234.0,628.9 234.3,628.7 234.6,628.4 234.9,628.2 235.1,627.8 235.4,627.7 235.7,627.4 236.0,627.3 236.3,627.0 236.5,626.6 236.8,626.6 237.1,626.5 237.4,626.4 237.7,626.2 237.9,626.3 238.2,625.9 238.5,625.7 238.8,625.9 239.1,625.7 239.3,625.8 239.6,625.8 239.9,626.1 240.2,625.6 240.5,625.7 240.7,625.8 241.0,625.7 241.3,625.9 241.6,626.2 241.9,626.2 242.1,626.3 242.4,626.6 242.7,626.4 243.0,626.8 243.3,627.0 243.5,627.2 243.8,627.2 244.1,627.5 244.4,627.8 244.7,628.1 244.9,628.2 245.2,628.7 245.5,628.7 245.8,629.3 246.1,629.7 246.3,629.8 246.6,630.3 246.9,630.8 247.2,631.3 247.5,631.9 247.7,632.2 248.0,632.7 248.3,633.3 248.6,634.0 248.9,634.7 249.1,635.3 249.4,635.9 249.7,636.6 250.0,637.3 250.3,637.9 250.5,638.9 250.8,639.7 251.1,640.8 251.4,641.4 251.7,642.4 251.9,643.1 252.2,644.4 252.5,645.2 252.8,646.3 253.1,647.1 253.3,647.7 253.6,648.9 253.9,649.7 254.2,650.7 254.5,651.5 254.7,652.6 255.0,653.7 255.3,654.7 255.6,656.1 255.9,656.5 256.1,657.6 256.4,658.7 256.7,659.7 257.0,660.6 257.3,661.9 257.5,662.8 257.8,664.0 258.1,664.8 258.4,665.2 258.7,666.1 258.9,666.7 259.2,666.5 259.5,666.2 259.8,665.7 260.1,665.3 260.3,664.4 260.6,663.4 260.9,662.6 261.2,662.0 261.5,660.5 261.7,660.0 262.0,658.8 262.3,658.7 262.6,657.0 262.9,655.9 263.1,655.0 263.4,654.0 263.7,653.6 264.0,653.4 264.3,652.5 264.5,651.7 264.8,651.1 265.1,650.5 265.4,649.8 265.7,649.4 265.9,648.9 266.2,648.0 266.5,647.7 266.8,646.8 267.1,646.5 267.3,646.5 267.6,646.1 267.9,645.8 268.2,644.9 268.5,644.8 268.7,644.4 269.0,644.5 269.3,643.9 269.6,643.6 269.9,643.4 270.1,643.0 270.4,643.0 270.7,642.6 271.0,642.7 271.3,642.3 271.5,642.2 271.8,641.8 272.1,641.7 272.4,641.5 272.7,641.8 272.9,641.3 273.2,641.8 273.5,641.5 273.8,641.3 274.1,641.6 274.3,641.4 274.6,641.6 274.9,641.7 275.2,642.0 275.5,642.0 275.7,642.1 276.0,641.9 276.3,642.3 276.6,642.2 276.9,642.4 277.1,642.5 277.4,642.7 277.7,642.6 278.0,643.1 278.3,642.9 278.5,643.5 278.8,643.6 279.1,643.8 279.4,643.9 279.7,644.5 279.9,644.6 280.2,645.0 280.5,645.0 280.8,645.3 281.1,645.7 281.3,646.2 281.6,646.1 281.9,646.5 282.2,646.8 282.5,647.3 282.7,647.6 283.0,648.3 283.3,648.6 283.6,648.9 283.9,649.4 284.1,649.8 284.4,649.9 284.7,650.3 285.0,650.9 285.3,651.5 285.5,651.0 285.8,651.7 286.1,652.3 286.4,652.4 286.7,653.0 286.9,653.2 287.2,653.2 287.5,653.7 287.8,654.1 288.1,654.1 288.3,654.6 288.6,654.7 288.9,654.8 289.2,655.0 289.5,655.0 289.7,655.1 290.0,654.9 290.3,655.4 290.6,655.0 290.9,655.3 291.1,655.4 291.4,655.1 291.7,654.6 292.0,654.5 292.3,654.2 292.5,654.0 292.8,653.5 293.1,653.0 293.4,653.1 293.7,652.7 293.9,652.7 294.2,652.4 294.5,651.5 294.8,651.3 295.1,651.3 295.3,651.0 295.6,650.5 295.9,650.2 296.2,649.6 296.5,650.1 296.7,649.2 297.0,649.2 297.3,648.9 297.6,648.4 297.9,648.5 298.1,648.4 298.4,648.0 298.7,647.8 299.0,647.7 299.3,647.5 299.5,647.3 299.8,646.8 300.1,646.7 300.4,646.6 300.7,646.0 300.9,646.1 301.2,646.2 301.5,646.0 301.8,645.9 302.1,646.1 302.3,646.0 302.6,646.0 302.9,645.8 303.2,645.8 303.5,645.7 303.7,646.1 304.0,645.6 304.3,645.8 304.6,646.0 304.9,646.1 305.1,646.0 305.4,645.9 305.7,646.2 306.0,646.1 306.3,646.3 306.5,646.3 306.8,646.9 307.1,647.0 307.4,646.7 307.7,646.9 307.9,647.2 308.2,647.6 308.5,647.9 308.8,647.9 309.1,648.0 309.3,648.6 309.6,648.9 309.9,648.9 310.2,649.5 310.5,649.9 310.7,650.2 311.0,650.8 311.3,651.4 311.6,651.9 311.9,652.0 312.1,652.6 312.4,653.4 312.7,653.6 313.0,654.3 313.3,655.5 313.5,655.1 313.8,656.1 314.1,656.7 314.4,657.5 314.7,658.6 314.9,658.8 315.2,659.4 315.5,660.2 315.8,660.8 316.1,661.6 316.3,663.0 316.6,663.0 316.9,664.0 317.2,664.9 317.5,665.2 317.7,666.7 318.0,667.4 318.3,667.7 318.6,669.0 318.9,669.9 319.1,670.3 319.4,671.7 319.7,671.9 320.0,672.4 320.3,673.8 320.5,674.1 320.8,674.7 321.1,674.4 321.4,674.5 321.7,674.5 321.9,674.5 322.2,674.1 322.5,674.0 322.8,673.5 323.1,672.4 323.3,671.7 323.6,671.6 323.9,670.2 324.2,669.7 324.5,668.5 324.7,667.9 325.0,667.1 325.3,666.3 325.6,665.8 325.9,664.7 326.1,664.2 326.4,663.6 326.7,663.3 327.0,661.6 327.3,661.4 327.5,660.8 327.8,659.9 328.1,659.6 328.4,658.9 328.7,658.3 328.9,657.6 329.2,657.1 329.5,656.4 329.8,655.9 330.1,655.7 330.3,655.1 330.6,654.7 330.9,654.3 331.2,654.4 331.5,653.8 331.7,653.4 332.0,653.4 332.3,652.9 332.6,652.8 332.9,652.5 333.1,652.4 333.4,652.1 333.7,651.5 334.0,652.0 334.3,651.7 334.5,651.1 334.8,651.4 335.1,651.0 335.4,651.0 335.7,651.1 335.9,650.9 336.2,650.9 336.5,651.0 336.8,650.7 337.1,650.4 337.3,650.2 337.6,650.6 337.9,650.1 338.2,650.3 338.5,650.3 338.7,650.3 339.0,650.7 339.3,650.5 339.6,650.5 339.9,650.8 340.1,650.6 340.4,651.0 340.7,651.2 341.0,650.9 341.3,651.1 341.5,651.5 341.8,651.0 342.1,651.3 342.4,651.5 342.7,651.6 342.9,652.2 343.2,652.4 343.5,652.6 343.8,652.9 344.1,653.3 344.3,653.7 344.6,654.0 344.9,654.1 345.2,654.4 345.5,655.1 345.7,655.2 346.0,655.8 346.3,655.9 346.6,656.4 346.9,656.7 347.1,657.3 347.4,657.9 347.7,658.1 348.0,659.2 348.3,658.9 348.5,659.9 348.8,659.9 349.1,660.7 349.4,661.0 349.7,661.7 349.9,662.1 350.2,662.4 350.5,662.8 350.8,663.4 351.1,664.1 351.3,665.0 351.6,665.4 351.9,665.0 352.2,666.0 352.5,666.1 352.7,666.7 353.0,667.6 353.3,667.6 353.6,667.9 353.9,668.1 354.1,668.9 354.4,668.8 354.7,669.0 355.0,669.6 355.3,669.2 355.5,669.4 355.8,670.2 356.1,669.8 356.4,669.4 356.7,670.1 356.9,670.1 357.2,669.3 357.5,668.9 357.8,669.0 358.1,668.8 358.3,668.2 358.6,667.8 358.9,667.8 359.2,667.4 359.5,666.5 359.7,666.2 360.0,666.1 360.3,665.6 360.6,665.5 360.9,665.2 361.1,665.3 361.4,664.6 361.7,664.4 362.0,663.5 362.3,663.4 362.5,663.5 362.8,662.6 363.1,663.1 363.4,662.6 363.7,662.2 363.9,661.9 364.2,661.4 364.5,661.2 364.8,661.1 365.1,660.9 365.3,661.1 365.6,660.4 365.9,660.2 366.2,659.8 366.5,660.1 366.7,659.9 367.0,660.0 367.3,660.1 367.6,659.7 367.9,659.4 368.1,659.6 368.4,659.7 368.7,659.6 369.0,659.4 369.3,659.8 369.5,659.5 369.8,659.8 370.1,659.8 370.4,659.4 370.7,660.3 370.9,660.7 371.2,660.3 371.5,660.5 371.8,661.0 372.1,660.7 372.3,661.3 372.6,661.6 372.9,661.7 373.2,662.2 373.5,662.3 373.7,662.7 374.0,663.4 374.3,663.4 374.6,663.9 374.9,664.3 375.1,665.1 375.4,665.3 375.7,665.7 376.0,666.5 376.3,666.5 376.5,667.0 376.8,668.2 377.1,669.3 377.4,669.2 377.7,670.1 377.9,670.2 378.2,671.3 378.5,672.0 378.8,672.8 379.1,673.1 379.3,674.6 379.6,674.4 379.9,675.9 380.2,675.8 380.5,677.2 380.7,678.7 381.0,679.2 381.3,679.1 381.6,679.3 381.9,681.0 382.1,681.1 382.4,681.7 382.7,682.6 383.0,683.2 383.3,684.5 383.5,685.0 383.8,685.9 384.1,686.6 384.4,686.6 384.7,687.6 384.9,688.2 385.2,688.9 385.5,688.4 385.8,688.4 386.1,688.0 386.3,688.0 386.6,687.8 386.9,687.4 387.2,686.1 387.5,685.9 387.7,685.3 388.0,684.4 388.3,683.7 388.6,683.3 388.9,681.9 389.1,681.7 389.4,680.4 389.7,680.2 390.0,679.0 390.3,679.1 390.5,678.2 390.8,677.8 391.1,676.4 391.4,675.7 391.7,675.1 391.9,674.9 392.2,674.1 392.5,674.1 392.8,673.6 393.1,672.5 393.3,672.7 393.6,672.1 393.9,671.2 394.2,670.2 394.5,670.2 394.7,669.9 395.0,669.9 395.3,669.1 395.6,668.6 395.9,668.6 396.1,668.2 396.4,667.5 396.7,667.1 397.0,667.0 397.3,666.1 397.5,666.1 397.8,665.5 398.1,665.1 398.4,665.2 398.7,665.1 398.9,665.1 399.2,664.6 399.5,664.5 399.8,664.0 400.1,663.5 400.3,663.5 400.6,663.7 400.9,663.3 401.2,663.8 401.5,663.6 401.7,663.2 402.0,663.6 402.3,663.4 402.6,663.6 402.9,663.1 403.1,663.4 403.4,663.2 403.7,663.3 404.0,663.6 404.3,663.9 404.5,663.5 404.8,663.7 405.1,663.5 405.4,663.8 405.7,664.2 405.9,663.9 406.2,664.3 406.5,664.3 406.8,664.9 407.1,665.3 407.3,665.5 407.6,665.6 407.9,665.7 408.2,665.9 408.5,666.7 408.7,667.5 409.0,667.5 409.3,668.0 409.6,668.4 409.9,668.7 410.1,669.8 410.4,670.3 410.7,670.2 411.0,670.8 411.3,672.1 411.5,672.0 411.8,672.8 412.1,673.1 412.4,674.1 412.7,674.3 412.9,675.0 413.2,675.4 413.5,677.0 413.8,677.9 414.1,677.6 414.3,678.4 414.6,679.0 414.9,679.4 415.2,679.9 415.5,680.5 415.7,681.5 416.0,681.4 416.3,682.1 416.6,683.3 416.9,683.1 417.1,684.9 417.4,684.8 417.7,685.5 418.0,686.6 418.3,686.6 418.5,687.3 418.8,687.5 419.1,689.3 419.4,689.2 419.7,689.0 419.9,690.2 420.2,690.7 420.5,690.8 420.8,690.5 421.1,691.5 421.3,691.7 421.6,690.7 421.9,689.8 422.2,690.0 422.5,690.0 422.7,690.2 423.0,689.7 423.3,689.0 423.6,687.9 423.9,688.1 424.1,687.2 424.4,686.3 424.7,685.5 425.0,686.2 425.3,684.6 425.5,685.3 425.8,685.2 426.1,683.9 426.4,683.1 426.7,682.8 426.9,682.3 427.2,682.9 427.5,682.2 427.8,681.1 428.1,680.9 428.3,680.4 428.6,680.7 428.9,680.3 429.2,679.3 429.5,679.2 429.7,679.0 430.0,678.0 430.3,678.2 430.6,678.2 430.9,677.4 431.1,678.7 431.4,677.5 431.7,677.1 432.0,677.5 432.3,676.7 432.5,677.0 432.8,676.7 433.1,677.0 433.4,676.3 433.7,676.7 433.9,676.6 434.2,676.8 434.5,676.9 434.8,675.9 435.1,676.4 435.3,676.1 435.6,676.9 435.9,677.1 436.2,676.6 436.5,676.9 436.7,677.5 437.0,677.3 437.3,677.3 437.6,677.0 437.9,677.6 438.1,678.4 438.4,677.8 438.7,678.7 439.0,679.0 439.3,679.2 439.5,679.8 439.8,679.5 440.1,680.6 440.4,680.2 440.7,681.1 440.9,680.8 441.2,681.4 441.5,681.5 441.8,682.6 442.1,681.9 442.3,682.4 442.6,683.6 442.9,683.7 443.2,683.7 443.5,684.0 443.7,683.9 444.0,684.7 444.3,685.3 444.6,686.0 444.9,686.3 445.1,686.8 445.4,686.7 445.7,686.6 446.0,687.1 446.3,688.3 446.5,688.0 446.8,688.9 447.1,687.9 447.4,688.7 447.7,688.9 447.9,689.7 448.2,689.4 448.5,689.4 448.8,690.1 449.1,689.2 449.3,690.0 449.6,690.4 449.9,689.4 450.2,689.6 450.5,688.9 450.7,688.7 451.0,688.6 451.3,688.2 451.6,687.7 451.9,686.7 452.1,687.2 452.4,686.2 452.7,685.2 453.0,685.6 453.3,684.3 453.5,684.7 453.8,683.7 454.1,682.8 454.4,682.2 454.7,681.6 454.9,681.1 455.2,680.8 455.5,680.9 455.8,680.0 456.1,679.4 456.3,678.9 456.6,678.4 456.9,677.7 457.2,677.2 457.5,677.8 457.7,676.8 458.0,677.1 458.3,676.8 458.6,675.9 458.9,675.8 459.1,675.1 459.4,674.9 459.7,674.7 460.0,674.4 460.3,674.6 460.5,673.9 460.8,674.0 461.1,673.6 461.4,673.5 461.7,673.8 461.9,672.5 462.2,673.2 462.5,672.5 462.8,672.6 463.1,672.3 463.3,672.1 463.6,671.7 463.9,671.2 464.2,672.6 464.5,672.1 464.7,671.7 465.0,671.1 465.3,671.8 465.6,672.1 465.9,671.7 466.1,671.0 466.4,671.3 466.7,671.6 467.0,671.5 467.3,671.9 467.5,671.4 467.8,671.6 468.1,671.1 468.4,672.4 468.7,672.4 468.9,672.2 469.2,672.0 469.5,673.1 469.8,672.5 470.1,672.8 470.3,672.8 470.6,673.3 470.9,673.7 471.2,673.7 471.5,675.0 471.7,675.2 472.0,675.3 472.3,675.4 472.6,675.9 472.9,675.9 473.1,676.9 473.4,676.8 473.7,677.3 474.0,678.1 474.3,678.1 474.5,678.3 474.8,679.7 475.1,679.1 475.4,679.8 475.7,680.3 475.9,681.0 476.2,681.7 476.5,681.2 476.8,682.7 477.1,684.1 477.3,684.6 477.6,685.0 477.9,685.2 478.2,685.9 478.5,686.2 478.7,686.3 479.0,687.8 479.3,688.8 479.6,689.0 479.9,689.5 480.1,690.5 480.4,690.9 480.7,691.9 481.0,691.7 481.3,691.7 481.5,693.6 481.8,694.5 482.1,694.2 482.4,695.5 482.7,696.4 482.9,695.1 483.2,698.8 483.5,698.4 483.8,698.5 484.1,698.5 484.3,698.8 484.6,702.6 484.9,700.8 485.2,702.0 485.5,701.7 485.7,702.4 486.0,703.5 486.3,702.7 486.6,703.6 486.9,703.7 487.1,704.1 487.4,704.1 487.7,702.9 488.0,703.5 488.3,701.7 488.5,701.2 488.8,700.9 489.1,700.1 489.4,700.1 489.7,697.2 489.9,697.3 490.2,696.4 490.5,697.9 490.8,696.9 491.1,695.5 491.3,695.6 491.6,693.9 491.9,694.3 492.2,694.8 492.5,693.8 492.7,694.2 493.0,692.3 493.3,692.8 493.6,691.8 493.9,691.5 494.1,691.0 494.4,690.8 494.7,690.7 495.0,689.7 495.3,689.5 495.5,688.8 495.8,688.7 496.1,687.9 496.4,688.4 496.7,688.0 496.9,687.6 497.2,687.2 497.5,686.7 497.8,686.4 498.1,686.1 498.3,686.1 498.6,686.8 498.9,686.4 499.2,685.5 499.5,685.6 499.7,686.5 500.0,686.6 500.3,686.1 500.6,686.6 500.9,685.3 501.1,685.8 501.4,685.3 501.7,686.6 502.0,685.8 502.3,685.8 502.5,685.9 502.8,685.4 503.1,685.8 503.4,684.9 503.7,685.9 503.9,685.8 504.2,686.8 504.5,687.2 504.8,686.9 505.1,686.6 505.3,686.8 505.6,687.9 505.9,687.7 506.2,687.9 506.5,687.8 506.7,688.7 507.0,689.0 507.3,689.7 507.6,689.2 507.9,690.0 508.1,689.7 508.4,691.0 508.7,691.3 509.0,691.5 509.3,692.5 509.5,691.8 509.8,693.8 510.1,693.6 510.4,694.1 510.7,694.4 510.9,694.5 511.2,694.9 511.5,696.2 511.8,696.1 512.1,696.7 512.3,696.9 512.6,698.1 512.9,698.5 513.2,697.8 513.5,700.3 513.7,700.3 514.0,700.6 514.3,700.8 514.6,701.0 514.9,702.0 515.1,703.5 515.4,702.1 515.7,701.8 516.0,702.8 516.3,703.1 516.5,704.0 516.8,702.6 517.1,703.2 517.4,703.3 517.7,704.2 517.9,704.2 518.2,703.4 518.5,703.9 518.8,703.1 519.1,703.0 519.3,701.2 519.6,701.9 519.9,701.6 520.2,702.4 520.5,702.0 520.7,701.0 521.0,701.5 521.3,701.1 521.6,701.1 521.9,700.2 522.1,699.7 522.4,700.7 522.7,699.4 523.0,699.9 523.3,698.4 523.5,698.4 523.8,698.1 524.1,697.4 524.4,697.3 524.7,696.5 524.9,697.2 525.2,695.5 525.5,696.8 525.8,696.2 526.1,696.5 526.3,697.6 526.6,695.0 526.9,695.2 527.2,694.2 527.5,694.5 527.7,694.6 528.0,694.4 528.3,694.6 528.6,694.3 528.9,694.5 529.1,693.4 529.4,693.8 529.7,693.0 530.0,693.4 530.3,692.0 530.5,693.3 530.8,693.3 531.1,693.0 531.4,693.0 531.7,692.3 531.9,692.9 532.2,692.9 532.5,693.4 532.8,693.5 533.1,693.1 533.3,693.4 533.6,693.7 533.9,693.2 534.2,694.3 534.5,695.0 534.7,694.3 535.0,694.0 535.3,694.6 535.6,695.3 535.9,695.6 536.1,694.4 536.4,695.5 536.7,695.2 537.0,695.6 537.3,696.3 537.5,696.7 537.8,696.6 538.1,696.5 538.4,697.2 538.7,697.1 538.9,699.1 539.2,697.5 539.5,699.2 539.8,699.2 540.1,699.6 540.3,699.3 540.6,700.1 540.9,700.9 541.2,701.0 541.5,701.7 541.7,702.5 542.0,702.7 542.3,703.9 542.6,704.7 542.9,704.5 543.1,706.0 543.4,706.1 543.7,706.3 544.0,707.7 544.3,708.8 544.5,708.3 544.8,707.6 545.1,710.4 545.4,711.1 545.7,709.9 545.9,711.3 546.2,712.4 546.5,710.4 546.8,713.9 547.1,714.4 547.3,715.0 547.6,716.2 547.9,714.1 548.2,716.5 548.5,718.2 548.7,713.9 549.0,716.1 549.3,717.4 549.6,716.0 549.9,714.6 550.1,716.5 550.4,716.0 550.7,714.8 551.0,715.3 551.3,715.5 551.5,715.0 551.8,713.9 552.1,711.8 552.4,712.1 552.7,709.7 552.9,710.2 553.2,710.7 553.5,710.5 553.8,709.5 554.1,709.0 554.3,706.9 554.6,706.9 554.9,706.5 555.2,706.4 555.5,705.8 555.7,707.3 556.0,705.9 556.3,704.0 556.6,703.7 556.9,703.3 557.1,702.8 557.4,702.4 557.7,701.0 558.0,702.7 558.3,702.0 558.5,701.6 558.8,700.9 559.1,700.8 559.4,699.9 559.7,698.6 559.9,699.6 560.2,699.3 560.5,698.2 560.8,697.4 561.1,699.1 561.3,697.6 561.6,697.9 561.9,697.3 562.2,698.5 562.5,696.4 562.7,697.7 563.0,695.4 563.3,697.3 563.6,696.3 563.9,695.1 564.1,696.3 564.4,696.1 564.7,695.1 565.0,696.1 565.3,695.8 565.5,696.0 565.8,694.8 566.1,695.1 566.4,695.0 566.7,695.5 566.9,695.2 567.2,694.9 567.5,696.3 567.8,695.2 568.1,696.2 568.3,696.1 568.6,695.3 568.9,694.7 569.2,695.9 569.5,696.3 569.7,696.7 570.0,696.4 570.3,696.5 570.6,696.0 570.9,696.1 571.1,698.6 571.4,697.6 571.7,696.3 572.0,697.4 572.3,697.8 572.5,696.7 572.8,697.9 573.1,698.7 573.4,699.6 573.7,699.9 573.9,698.8 574.2,699.2 574.5,699.4 574.8,700.2 575.1,700.9 575.3,699.9 575.6,700.7 575.9,700.8 576.2,701.0 576.5,701.4 576.7,703.3 577.0,703.5 577.3,703.6 577.6,701.8 577.9,703.4 578.1,705.1 578.4,703.9 578.7,703.4 579.0,704.5 579.3,704.1 579.5,704.1 579.8,704.8 580.1,705.2 580.4,704.9 580.7,705.1 580.9,704.6 581.2,705.5 581.5,706.2 581.8,705.9 582.1,705.8 582.3,705.0 582.6,707.1 582.9,705.4 583.2,706.9 583.5,706.2 583.7,707.1 584.0,707.4 584.3,706.3 584.6,704.3 584.9,705.0 585.1,705.8 585.4,705.8 585.7,706.6 586.0,707.8 586.3,706.7 586.5,706.0 586.8,706.9 587.1,705.6 587.4,707.9 587.7,705.7 587.9,703.8 588.2,705.7 588.5,706.1 588.8,704.4 589.1,705.0 589.3,704.6 589.6,703.8 589.9,703.6 590.2,704.3 590.5,703.0 590.7,702.9 591.0,703.7 591.3,703.6 591.6,703.9 591.9,702.3 592.1,701.7 592.4,703.2 592.7,701.3 593.0,701.9 593.3,701.9 593.5,703.1 593.8,701.9 594.1,700.9 594.4,701.6 594.7,702.4 594.9,700.3 595.2,700.5 595.5,702.0 595.8,701.4 596.1,700.6 596.3,701.1 596.6,701.3 596.9,700.5 597.2,700.9 597.5,702.3 597.7,701.6 598.0,702.2 598.3,701.5 598.6,701.3 598.9,701.9 599.1,701.2 599.4,702.2 599.7,701.9 600.0,702.1 600.3,702.2 600.5,701.9 600.8,703.7 601.1,701.9 601.4,703.3 601.7,702.5 601.9,704.2 602.2,703.7 602.5,704.2 602.8,704.6 603.1,704.8 603.3,704.9 603.6,705.3 603.9,705.5 604.2,705.2 604.5,705.6 604.7,705.9 605.0,705.9 605.3,706.3 605.6,708.0 605.9,706.2 606.1,709.0 606.4,707.6 606.7,708.8 607.0,708.7 607.3,708.8 607.5,709.8 607.8,711.1 608.1,710.0 608.4,710.4 608.7,710.3 608.9,712.9 609.2,712.5 609.5,712.8 609.8,712.2 610.1,710.8 610.3,713.4 610.6,711.7 610.9,713.2 611.2,715.1 611.5,714.0 611.7,714.3 612.0,713.2 612.3,716.4 612.6,716.5 612.9,715.9 613.1,717.1 613.4,715.4 613.7,716.4 614.0,717.9 614.3,718.9 614.5,718.2 614.8,717.1 615.1,718.1 615.4,720.0 615.7,718.1 615.9,719.1 616.2,719.2 616.5,718.0 616.8,718.5 617.1,716.3 617.3,717.3 617.6,717.6 617.9,717.9 618.2,718.3 618.5,716.0 618.7,716.6 619.0,715.6 619.3,714.6 619.6,714.2 619.9,714.5 620.1,714.1 620.4,713.0 620.7,715.9 621.0,712.9 621.3,713.2 621.5,711.9 621.8,714.3 622.1,709.5 622.4,710.7 622.7,710.8 622.9,711.3 623.2,709.9 623.5,708.8 623.8,710.5 624.1,709.4 624.3,708.3 624.6,708.0 624.9,707.7 625.2,707.7 625.5,705.9 625.7,707.0 626.0,706.1 626.3,706.6 626.6,706.2 626.9,705.0 627.1,706.5 627.4,705.8 627.7,704.4 628.0,704.1 628.3,704.3 628.5,704.9 628.8,705.4 629.1,703.8 629.4,703.8 629.7,704.7 629.9,704.2 630.2,704.2 630.5,704.1 630.8,703.9 631.1,705.3 631.3,704.8 631.6,703.9 631.9,705.0 632.2,705.5 632.5,704.5 632.7,704.4 633.0,703.9 633.3,704.5 633.6,704.6 633.9,705.5 634.1,704.0 634.4,703.6 634.7,704.6 635.0,705.3 635.3,703.8 635.5,705.2 635.8,705.0 636.1,704.9 636.4,706.0 636.7,707.0 636.9,705.3 637.2,706.7 637.5,706.7 637.8,707.5 638.1,706.1 638.3,707.1 638.6,708.5 638.9,708.5 639.2,707.6 639.5,707.1 639.7,708.5 640.0,709.5 640.3,710.4 640.6,709.6 640.9,710.1 641.1,709.3 641.4,710.8 641.7,711.7 642.0,711.4 642.3,712.2 642.5,711.8 642.8,712.3 643.1,713.7 643.4,712.4 643.7,714.3 643.9,715.8 644.2,714.4 644.5,714.9 644.8,714.9 645.1,714.7 645.3,715.8 645.6,715.4 645.9,716.8 646.2,716.8 646.5,716.5 646.7,718.0 647.0,719.4 647.3,719.5 647.6,718.6 647.9,719.1 648.1,718.3 648.4,719.5 648.7,720.9 649.0,721.3 649.3,722.3 649.5,719.2 649.8,723.2 650.1,722.1 650.4,723.8 650.7,722.2 650.9,724.0 651.2,722.7 651.5,721.6 651.8,723.6 652.1,722.7 652.3,723.4 652.6,724.2 652.9,724.6 653.2,724.4 653.5,724.7 653.7,721.2 654.0,724.6 654.3,721.8 654.6,722.8 654.9,722.0 655.1,720.8 655.4,723.1 655.7,720.5 656.0,720.8 656.3,723.0 656.5,718.3 656.8,718.7 657.1,721.6 657.4,719.8 657.7,720.9 657.9,719.8 658.2,719.0 658.5,728.4 658.8,718.3 659.1,718.3 659.3,718.9 659.6,717.3 659.9,716.7 660.2,716.3 660.5,718.8 660.7,719.7 661.0,718.7 661.3,716.6 661.6,716.5 661.9,715.8 662.1,716.7 662.4,717.6 662.7,716.3 663.0,716.2 663.3,712.8 663.5,716.3 663.8,714.7 664.1,715.6 664.4,716.1 664.7,715.8 664.9,716.4 665.2,717.1 665.5,713.3 665.8,714.0 666.1,717.2 666.3,716.1 666.6,714.9 666.9,715.4 667.2,715.7 667.5,716.8 667.7,715.5 668.0,716.0 668.3,714.7 668.6,717.7 668.9,716.8 669.1,716.0 669.4,715.3 669.7,716.8 670.0,718.0 670.3,719.7 670.5,719.4 670.8,717.2 671.1,717.4 671.4,717.0 671.7,718.7 671.9,717.6 672.2,719.3 672.5,719.3 672.8,719.6 673.1,718.3 673.3,720.9 673.6,719.6 673.9,718.7 674.2,720.3 674.5,720.9 674.7,721.1 675.0,722.4 675.3,723.1 675.6,724.7 675.9,722.0 676.1,724.0 676.4,719.4 676.7,725.4 677.0,723.2 677.3,725.2 677.5,723.4 677.8,724.7 678.1,725.1 678.4,723.6 678.7,723.8 678.9,720.8 679.2,725.8 679.5,724.9 679.8,724.9 680.1,727.1 680.3,725.9 680.6,725.7 680.9,722.6 681.2,725.4 681.5,724.7 681.7,726.4 682.0,724.2 682.3,723.0 682.6,724.3 682.9,727.0 683.1,723.1 683.4,725.8 683.7,723.6 684.0,720.1 684.3,724.2 684.5,726.3 684.8,723.5 685.1,721.3 685.4,722.0 685.7,720.9 685.9,725.2 686.2,722.0 686.5,718.1 686.8,721.6 687.1,720.8 687.3,718.7 687.6,718.8 687.9,719.0 688.2,720.7 688.5,717.8 688.7,717.2 689.0,718.7 689.3,716.6 689.6,715.8 689.9,716.4 690.1,717.0 690.4,716.0 690.7,715.2 691.0,716.8 691.3,716.4 691.5,713.2 691.8,713.4 692.1,713.4 692.4,713.8 692.7,713.9 692.9,713.5 693.2,713.4 693.5,713.5 693.8,711.7 694.1,710.7 694.3,712.8 694.6,713.4 694.9,712.3 695.2,711.6 695.5,712.3 695.7,711.3 696.0,710.3 696.3,711.0 696.6,712.0 696.9,711.5 697.1,711.8 697.4,710.7 697.7,711.6 698.0,712.4 698.3,710.8 698.5,710.7 698.8,712.2 699.1,711.3 699.4,710.2 699.7,711.0 699.9,712.6 700.2,711.8 700.5,713.2 700.8,712.3 701.1,712.1 701.3,712.9 701.6,711.6 701.9,713.2 702.2,712.4" stroke="#0303fc" stroke-width="3.0"/>
<polyline points="52.3,593.4 52.6,591.7 52.9,590.3 53.1,589.0 53.4,587.9 53.7,587.0 54.0,586.2 54.3,585.4 54.5,584.8 54.8,584.2 55.1,583.7 55.4,583.2 55.7,582.8 55.9,582.4 56.2,581.9 56.5,581.5 56.8,581.1 57.1,580.7 57.3,580.4 57.6,580.0 57.9,579.6 58.2,579.3 58.5,579.0 58.7,578.6 59.0,578.3 59.3,578.0 59.6,577.8 59.9,577.5 60.1,577.2 60.4,576.9 60.7,576.6 61.0,576.4 61.3,576.1 61.5,575.8 61.8,575.6 62.1,575.3 62.4,575.1 62.7,574.8 62.9,574.6 63.2,574.3 63.5,574.1 63.8,573.8 64.1,573.6 64.3,573.4 64.6,573.1 64.9,572.9 65.2,572.7 65.5,572.5 65.7,572.2 66.0,572.0 66.3,571.8 66.6,571.6 66.9,571.4 67.1,571.2 67.4,571.0 67.7,570.8 68.0,570.6 68.3,570.4 68.5,570.2 68.8,570.0 69.1,569.9 69.4,569.7 69.7,569.5 69.9,569.4 70.2,569.2 70.5,569.1 70.8,568.9 71.1,568.8 71.3,568.6 71.6,568.5 71.9,568.3 72.2,568.2 72.5,568.1 72.7,568.0 73.0,567.9 73.3,567.7 73.6,567.6 73.9,567.5 74.1,567.4 74.4,567.3 74.7,567.2 75.0,567.1 75.3,567.0 75.5,567.0 75.8,566.9 76.1,566.8 76.4,566.7 76.7,566.6 76.9,566.5 77.2,566.5 77.5,566.4 77.8,566.3 78.1,566.2 78.3,566.1 78.6,566.1 78.9,566.0 79.2,565.9 79.5,565.9 79.7,565.8 80.0,565.7 80.3,565.7 80.6,565.6 80.9,565.5 81.1,565.5 81.4,565.4 81.7,565.4 82.0,565.3 82.3,565.2 82.5,565.2 82.8,565.1 83.1,565.1 83.4,565.0 83.7,565.0 83.9,564.9 84.2,564.9 84.5,564.8 84.8,564.8 85.1,564.7 85.3,564.7 85.6,564.6 85.9,564.6 86.2,564.5 86.5,564.5 86.7,564.4 87.0,564.4 87.3,564.4 87.6,564.3 87.9,564.3 88.1,564.2 88.4,564.2 88.7,564.1 89.0,564.1 89.3,564.1 89.5,564.0 89.8,564.0 90.1,564.0 90.4,563.9 90.7,563.9 90.9,563.9 91.2,563.8 91.5,563.8 91.8,563.8 92.1,563.7 92.3,563.7 92.6,563.7 92.9,563.7 93.2,563.6 93.5,563.6 93.7,563.6 94.0,563.6 94.3,563.5 94.6,563.5 94.9,563.5 95.1,563.5 95.4,563.5 95.7,563.5 96.0,563.5 96.3,563.5 96.5,563.5 96.8,563.5 97.1,563.5 97.4,563.5 97.7,563.5 97.9,563.5 98.2,563.5 98.5,563.5 98.8,563.5 99.1,563.5 99.3,563.5 99.6,563.5 99.9,563.5 100.2,563.5 100.5,563.6 100.7,563.6 101.0,563.6 101.3,563.6 101.6,563.6 101.9,563.7 102.1,563.7 102.4,563.7 102.7,563.8 103.0,563.8 103.3,563.8 103.5,563.9 103.8,563.9 104.1,564.0 104.4,564.1 104.7,564.1 104.9,564.2 105.2,564.2 105.5,564.3 105.8,564.4 106.1,564.4 106.3,564.5 106.6,564.6 106.9,564.6 107.2,564.7 107.5,564.8 107.7,564.9 108.0,565.0 108.3,565.1 108.6,565.2 108.9,565.3 109.1,565.5 109.4,565.6 109.7,565.8 110.0,566.0 110.3,566.3 110.5,566.5 110.8,566.8 111.1,567.1 111.4,567.4 111.7,567.8 111.9,568.2 112.2,568.7 112.5,569.2 112.8,569.9 113.1,570.5 113.3,571.3 113.6,572.1 113.9,573.0 114.2,574.0 114.5,575.0 114.7,576.1 115.0,577.2 115.3,578.4 115.6,579.7 115.9,581.0 116.1,582.4 116.4,583.8 116.7,585.2 117.0,586.6 117.3,587.9 117.5,589.0 117.8,589.9 118.1,590.5 118.4,590.6 118.7,590.5 118.9,590.1 119.2,589.5 119.5,588.9 119.8,588.2 120.1,587.5 120.3,586.7 120.6,585.9 120.9,585.2 121.2,584.4 121.5,583.6 121.7,582.9 122.0,582.2 122.3,581.4 122.6,580.7 122.9,580.1 123.1,579.4 123.4,578.7 123.7,578.1 124.0,577.5 124.3,577.0 124.5,576.6 124.8,576.2 125.1,575.8 125.4,575.5 125.7,575.3 125.9,575.1 126.2,574.9 126.5,574.7 126.8,574.6 127.1,574.5 127.3,574.4 127.6,574.3 127.9,574.2 128.2,574.2 128.5,574.2 128.7,574.2 129.0,574.2 129.3,574.3 129.6,574.3 129.9,574.4 130.1,574.6 130.4,574.7 130.7,574.9 131.0,575.0 131.3,575.2 131.5,575.4 131.8,575.6 132.1,575.8 132.4,576.0 132.7,576.3 132.9,576.5 133.2,576.8 133.5,577.1 133.8,577.3 134.1,577.6 134.3,578.0 134.6,578.3 134.9,578.6 135.2,579.0 135.5,579.3 135.7,579.7 136.0,580.1 136.3,580.5 136.6,580.9 136.9,581.2 137.1,581.6 137.4,582.0 137.7,582.4 138.0,582.8 138.3,583.3 138.5,583.7 138.8,584.1 139.1,584.5 139.4,584.9 139.7,585.3 139.9,585.7 140.2,586.1 140.5,586.5 140.8,586.9 141.1,587.2 141.3,587.6 141.6,588.0 141.9,588.4 142.2,588.7 142.5,589.1 142.7,589.5 143.0,589.8 143.3,590.2 143.6,590.5 143.9,590.9 144.1,591.2 144.4,591.6 144.7,591.9 145.0,592.2 145.3,592.6 145.5,592.9 145.8,593.2 146.1,593.5 146.4,593.8 146.7,594.1 146.9,594.4 147.2,594.7 147.5,595.0 147.8,595.3 148.1,595.5 148.3,595.8 148.6,596.0 148.9,596.3 149.2,596.5 149.5,596.7 149.7,596.9 150.0,597.2 150.3,597.4 150.6,597.6 150.9,597.8 151.1,598.0 151.4,598.3 151.7,598.5 152.0,598.7 152.3,599.0 152.5,599.2 152.8,599.5 153.1,599.8 153.4,600.1 153.7,600.4 153.9,600.7 154.2,601.1 154.5,601.4 154.8,601.8 155.1,602.2 155.3,602.6 155.6,603.0 155.9,603.4 156.2,603.8 156.5,604.2 156.7,604.6 157.0,605.0 157.3,605.4 157.6,605.8 157.9,606.2 158.1,606.6 158.4,607.0 158.7,607.4 159.0,607.8 159.3,608.2 159.5,608.6 159.8,608.9 160.1,609.3 160.4,609.6 160.7,610.0 160.9,610.3 161.2,610.6 161.5,611.0 161.8,611.3 162.1,611.6 162.3,611.8 162.6,612.1 162.9,612.4 163.2,612.6 163.5,612.8 163.7,613.0 164.0,613.1 164.3,613.1 164.6,613.1 164.9,613.1 165.1,612.9 165.4,612.8 165.7,612.6 166.0,612.4 166.3,612.1 166.5,611.9 166.8,611.6 167.1,611.3 167.4,611.0 167.7,610.7 167.9,610.4 168.2,610.1 168.5,609.8 168.8,609.5 169.1,609.1 169.3,608.8 169.6,608.5 169.9,608.2 170.2,607.9 170.5,607.6 170.7,607.3 171.0,606.9 171.3,606.6 171.6,606.3 171.9,606.1 172.1,605.8 172.4,605.5 172.7,605.2 173.0,604.9 173.3,604.7 173.5,604.4 173.8,604.2 174.1,604.0 174.4,603.8 174.7,603.6 174.9,603.4 175.2,603.3 175.5,603.1 175.8,603.0 176.1,602.9 176.3,602.8 176.6,602.7 176.9,602.7 177.2,602.6 177.5,602.6 177.7,602.6 178.0,602.5 178.3,602.5 178.6,602.5 178.9,602.5 179.1,602.5 179.4,602.5 179.7,602.6 180.0,602.6 180.3,602.7 180.5,602.8 180.8,602.9 181.1,603.0 181.4,603.2 181.7,603.3 181.9,603.5 182.2,603.7 182.5,603.9 182.8,604.1 183.1,604.3 183.3,604.6 183.6,604.9 183.9,605.2 184.2,605.5 184.5,605.8 184.7,606.2 185.0,606.5 185.3,606.9 185.6,607.4 185.9,607.8 186.1,608.3 186.4,608.8 186.7,609.3 187.0,609.8 187.3,610.4 187.5,611.0 187.8,611.6 188.1,612.2 188.4,612.8 188.7,613.5 188.9,614.2 189.2,615.0 189.5,615.7 189.8,616.4 190.1,617.2 190.3,618.0 190.6,618.8 190.9,619.6 191.2,620.5 191.5,621.3 191.7,622.2 192.0,623.1 192.3,624.0 192.6,624.9 192.9,625.8 193.1,626.7 193.4,627.7 193.7,628.6 194.0,629.6 194.3,630.6 194.5,631.6 194.8,632.6 195.1,633.6 195.4,634.6 195.7,635.5 195.9,636.5 196.2,637.4 196.5,638.3 196.8,639.1 197.1,639.9 197.3,640.5 197.6,640.9 197.9,641.2 198.2,641.3 198.5,641.1 198.7,640.9 199.0,640.5 199.3,640.1 199.6,639.6 199.9,639.0 200.1,638.5 200.4,637.9 200.7,637.3 201.0,636.7 201.3,636.1 201.5,635.5 201.8,634.9 202.1,634.3 202.4,633.7 202.7,633.2 202.9,632.6 203.2,632.1 203.5,631.7 203.8,631.2 204.1,630.8 204.3,630.4 204.6,630.0 204.9,629.7 205.2,629.4 205.5,629.1 205.7,628.8 206.0,628.5 206.3,628.3 206.6,628.1 206.9,627.9 207.1,627.7 207.4,627.5 207.7,627.4 208.0,627.3 208.3,627.1 208.5,627.0 208.8,626.9 209.1,626.8 209.4,626.8 209.7,626.7 209.9,626.7 210.2,626.7 210.5,626.8 210.8,626.8 211.1,626.9 211.3,627.0 211.6,627.2 211.9,627.3 212.2,627.5 212.5,627.7 212.7,627.9 213.0,628.2 213.3,628.4 213.6,628.6 213.9,628.9 214.1,629.2 214.4,629.4 214.7,629.7 215.0,630.0 215.3,630.3 215.5,630.5 215.8,630.8 216.1,631.2 216.4,631.5 216.7,631.9 216.9,632.4 217.2,632.9 217.5,633.5 217.8,634.2 218.1,634.9 218.3,635.6 218.6,636.3 218.9,637.1 219.2,637.8 219.5,638.6 219.7,639.3 220.0,640.1 220.3,640.8 220.6,641.5 220.9,642.1 221.1,642.8 221.4,643.5 221.7,644.1 222.0,644.7 222.3,645.2 222.5,645.8 222.8,646.3 223.1,646.8 223.4,647.2 223.7,647.5 223.9,647.7 224.2,647.7 224.5,647.5 224.8,647.2 225.1,646.7 225.3,646.2 225.6,645.7 225.9,645.1 226.2,644.5 226.5,643.8 226.7,643.1 227.0,642.5 227.3,641.8 227.6,641.1 227.9,640.4 228.1,639.7 228.4,639.0 228.7,638.3 229.0,637.6 229.3,637.0 229.5,636.3 229.8,635.7 230.1,635.1 230.4,634.5 230.7,633.9 230.9,633.4 231.2,632.9 231.5,632.4 231.8,631.9 232.1,631.5 232.3,631.1 232.6,630.7 232.9,630.4 233.2,630.0 233.5,629.7 233.7,629.4 234.0,629.1 234.3,628.9 234.6,628.6 234.9,628.4 235.1,628.1 235.4,627.9 235.7,627.7 236.0,627.5 236.3,627.3 236.5,627.2 236.8,627.0 237.1,626.9 237.4,626.8 237.7,626.6 237.9,626.5 238.2,626.5 238.5,626.4 238.8,626.3 239.1,626.3 239.3,626.3 239.6,626.2 239.9,626.2 240.2,626.3 240.5,626.3 240.7,626.4 241.0,626.4 241.3,626.5 241.6,626.6 241.9,626.7 242.1,626.8 242.4,627.0 242.7,627.1 243.0,627.3 243.3,627.5 243.5,627.7 243.8,627.9 244.1,628.1 244.4,628.3 244.7,628.6 244.9,628.8 245.2,629.1 245.5,629.4 245.8,629.7 246.1,630.1 246.3,630.5 246.6,630.8 246.9,631.3 247.2,631.7 247.5,632.2 247.7,632.7 248.0,633.3 248.3,633.9 248.6,634.5 248.9,635.1 249.1,635.8 249.4,636.4 249.7,637.1 250.0,637.9 250.3,638.6 250.5,639.4 250.8,640.1 251.1,640.9 251.4,641.7 251.7,642.5 251.9,643.3 252.2,644.2 252.5,645.0 252.8,645.8 253.1,646.7 253.3,647.6 253.6,648.4 253.9,649.3 254.2,650.2 254.5,651.1 254.7,652.0 255.0,652.9 255.3,653.8 255.6,654.7 255.9,655.5 256.1,656.4 256.4,657.3 256.7,658.1 257.0,658.9 257.3,659.6 257.5,660.3 257.8,661.0 258.1,661.5 258.4,662.0 258.7,662.4 258.9,662.7 259.2,662.7 259.5,662.6 259.8,662.3 260.1,661.9 260.3,661.3 260.6,660.7 260.9,660.1 261.2,659.4 261.5,658.6 261.7,657.9 262.0,657.1 262.3,656.3 262.6,655.5 262.9,654.8 263.1,654.0 263.4,653.3 263.7,652.6 264.0,651.9 264.3,651.3 264.5,650.6 264.8,650.0 265.1,649.3 265.4,648.7 265.7,648.1 265.9,647.5 266.2,647.0 266.5,646.4 266.8,645.9 267.1,645.4 267.3,644.9 267.6,644.4 267.9,644.0 268.2,643.6 268.5,643.2 268.7,642.8 269.0,642.5 269.3,642.2 269.6,641.9 269.9,641.6 270.1,641.3 270.4,641.0 270.7,640.8 271.0,640.6 271.3,640.3 271.5,640.2 271.8,640.0 272.1,639.8 272.4,639.7 272.7,639.5 272.9,639.4 273.2,639.3 273.5,639.3 273.8,639.2 274.1,639.2 274.3,639.2 274.6,639.2 274.9,639.2 275.2,639.3 275.5,639.4 275.7,639.5 276.0,639.6 276.3,639.7 276.6,639.8 276.9,640.0 277.1,640.1 277.4,640.3 277.7,640.5 278.0,640.7 278.3,640.9 278.5,641.1 278.8,641.4 279.1,641.6 279.4,641.9 279.7,642.2 279.9,642.4 280.2,642.7 280.5,643.0 280.8,643.3 281.1,643.6 281.3,643.9 281.6,644.3 281.9,644.6 282.2,644.9 282.5,645.2 282.7,645.5 283.0,645.8 283.3,646.2 283.6,646.5 283.9,646.8 284.1,647.1 284.4,647.4 284.7,647.7 285.0,648.0 285.3,648.3 285.5,648.6 285.8,648.9 286.1,649.2 286.4,649.4 286.7,649.7 286.9,649.9 287.2,650.2 287.5,650.4 287.8,650.6 288.1,650.8 288.3,651.0 288.6,651.2 288.9,651.3 289.2,651.4 289.5,651.5 289.7,651.6 290.0,651.6 290.3,651.6 290.6,651.6 290.9,651.5 291.1,651.4 291.4,651.3 291.7,651.1 292.0,651.0 292.3,650.8 292.5,650.6 292.8,650.4 293.1,650.2 293.4,650.0 293.7,649.7 293.9,649.5 294.2,649.3 294.5,649.0 294.8,648.8 295.1,648.6 295.3,648.3 295.6,648.1 295.9,647.9 296.2,647.7 296.5,647.5 296.7,647.3 297.0,647.1 297.3,646.9 297.6,646.7 297.9,646.5 298.1,646.3 298.4,646.2 298.7,646.0 299.0,645.8 299.3,645.7 299.5,645.5 299.8,645.4 300.1,645.3 300.4,645.1 300.7,645.0 300.9,644.9 301.2,644.9 301.5,644.8 301.8,644.7 302.1,644.7 302.3,644.7 302.6,644.7 302.9,644.7 303.2,644.7 303.5,644.8 303.7,644.8 304.0,644.9 304.3,644.9 304.6,645.0 304.9,645.1 305.1,645.2 305.4,645.3 305.7,645.4 306.0,645.6 306.3,645.7 306.5,645.9 306.8,646.0 307.1,646.2 307.4,646.4 307.7,646.7 307.9,646.9 308.2,647.2 308.5,647.5 308.8,647.8 309.1,648.1 309.3,648.4 309.6,648.8 309.9,649.1 310.2,649.5 310.5,649.9 310.7,650.3 311.0,650.8 311.3,651.2 311.6,651.7 311.9,652.2 312.1,652.7 312.4,653.3 312.7,653.8 313.0,654.4 313.3,655.0 313.5,655.6 313.8,656.3 314.1,656.9 314.4,657.5 314.7,658.2 314.9,658.8 315.2,659.5 315.5,660.2 315.8,660.8 316.1,661.5 316.3,662.2 316.6,662.8 316.9,663.5 317.2,664.2 317.5,664.9 317.7,665.5 318.0,666.2 318.3,666.8 318.6,667.5 318.9,668.1 319.1,668.7 319.4,669.3 319.7,669.9 320.0,670.5 320.3,671.0 320.5,671.4 320.8,671.8 321.1,672.0 321.4,672.2 321.7,672.2 321.9,672.0 322.2,671.8 322.5,671.5 322.8,671.1 323.1,670.6 323.3,670.1 323.6,669.5 323.9,668.9 324.2,668.2 324.5,667.6 324.7,666.9 325.0,666.3 325.3,665.6 325.6,664.9 325.9,664.2 326.1,663.5 326.4,662.8 326.7,662.2 327.0,661.5 327.3,660.9 327.5,660.2 327.8,659.6 328.1,659.0 328.4,658.5 328.7,658.0 328.9,657.5 329.2,657.0 329.5,656.5 329.8,656.1 330.1,655.7 330.3,655.3 330.6,655.0 330.9,654.6 331.2,654.3 331.5,654.0 331.7,653.7 332.0,653.4 332.3,653.2 332.6,652.9 332.9,652.7 333.1,652.5 333.4,652.3 333.7,652.1 334.0,652.0 334.3,651.8 334.5,651.7 334.8,651.6 335.1,651.4 335.4,651.3 335.7,651.3 335.9,651.2 336.2,651.1 336.5,651.1 336.8,651.0 337.1,651.0 337.3,651.0 337.6,651.0 337.9,651.0 338.2,651.0 338.5,651.0 338.7,651.0 339.0,651.1 339.3,651.1 339.6,651.2 339.9,651.3 340.1,651.4 340.4,651.5 340.7,651.6 341.0,651.7 341.3,651.9 341.5,652.0 341.8,652.2 342.1,652.4 342.4,652.6 342.7,652.8 342.9,653.0 343.2,653.3 343.5,653.5 343.8,653.8 344.1,654.1 344.3,654.4 344.6,654.7 344.9,655.1 345.2,655.4 345.5,655.8 345.7,656.2 346.0,656.7 346.3,657.1 346.6,657.6 346.9,658.0 347.1,658.5 347.4,659.0 347.7,659.5 348.0,660.0 348.3,660.5 348.5,661.1 348.8,661.6 349.1,662.1 349.4,662.6 349.7,663.1 349.9,663.6 350.2,664.1 350.5,664.6 350.8,665.0 351.1,665.5 351.3,665.9 351.6,666.4 351.9,666.8 352.2,667.2 352.5,667.6 352.7,668.0 353.0,668.3 353.3,668.7 353.6,669.0 353.9,669.3 354.1,669.6 354.4,669.9 354.7,670.2 355.0,670.4 355.3,670.6 355.5,670.8 355.8,670.9 356.1,670.9 356.4,670.9 356.7,670.9 356.9,670.8 357.2,670.6 357.5,670.4 357.8,670.2 358.1,669.9 358.3,669.7 358.6,669.4 358.9,669.1 359.2,668.7 359.5,668.4 359.7,668.1 360.0,667.8 360.3,667.5 360.6,667.2 360.9,666.9 361.1,666.6 361.4,666.4 361.7,666.1 362.0,665.9 362.3,665.6 362.5,665.4 362.8,665.2 363.1,665.0 363.4,664.7 363.7,664.5 363.9,664.4 364.2,664.2 364.5,664.0 364.8,663.8 365.1,663.6 365.3,663.5 365.6,663.3 365.9,663.2 366.2,663.0 366.5,662.9 366.7,662.8 367.0,662.7 367.3,662.6 367.6,662.6 367.9,662.5 368.1,662.5 368.4,662.4 368.7,662.4 369.0,662.4 369.3,662.4 369.5,662.4 369.8,662.5 370.1,662.5 370.4,662.6 370.7,662.7 370.9,662.8 371.2,662.9 371.5,663.0 371.8,663.2 372.1,663.3 372.3,663.5 372.6,663.8 372.9,664.0 373.2,664.3 373.5,664.5 373.7,664.8 374.0,665.1 374.3,665.5 374.6,665.9 374.9,666.2 375.1,666.6 375.4,667.1 375.7,667.5 376.0,668.0 376.3,668.4 376.5,668.9 376.8,669.4 377.1,669.9 377.4,670.5 377.7,671.0 377.9,671.5 378.2,672.1 378.5,672.7 378.8,673.3 379.1,673.9 379.3,674.5 379.6,675.1 379.9,675.8 380.2,676.4 380.5,677.1 380.7,677.8 381.0,678.4 381.3,679.1 381.6,679.8 381.9,680.5 382.1,681.2 382.4,681.8 382.7,682.5 383.0,683.1 383.3,683.8 383.5,684.4 383.8,685.0 384.1,685.5 384.4,686.1 384.7,686.5 384.9,686.9 385.2,687.2 385.5,687.4 385.8,687.5 386.1,687.5 386.3,687.3 386.6,687.0 386.9,686.6 387.2,686.2 387.5,685.6 387.7,685.0 388.0,684.4 388.3,683.7 388.6,683.0 388.9,682.3 389.1,681.5 389.4,680.8 389.7,680.1 390.0,679.4 390.3,678.7 390.5,678.0 390.8,677.3 391.1,676.7 391.4,676.1 391.7,675.5 391.9,675.0 392.2,674.4 392.5,673.9 392.8,673.4 393.1,672.9 393.3,672.4 393.6,671.9 393.9,671.4 394.2,671.0 394.5,670.5 394.7,670.1 395.0,669.6 395.3,669.2 395.6,668.8 395.9,668.4 396.1,668.1 396.4,667.7 396.7,667.4 397.0,667.0 397.3,666.7 397.5,666.5 397.8,666.2 398.1,665.9 398.4,665.7 398.7,665.5 398.9,665.3 399.2,665.1 399.5,665.0 399.8,664.8 400.1,664.7 400.3,664.6 400.6,664.5 400.9,664.4 401.2,664.3 401.5,664.3 401.7,664.2 402.0,664.1 402.3,664.1 402.6,664.1 402.9,664.1 403.1,664.0 403.4,664.1 403.7,664.1 404.0,664.1 404.3,664.2 404.5,664.2 404.8,664.3 405.1,664.4 405.4,664.6 405.7,664.7 405.9,664.9 406.2,665.0 406.5,665.2 406.8,665.4 407.1,665.7 407.3,665.9 407.6,666.2 407.9,666.5 408.2,666.8 408.5,667.2 408.7,667.6 409.0,668.0 409.3,668.4 409.6,668.9 409.9,669.4 410.1,669.9 410.4,670.4 410.7,670.9 411.0,671.4 411.3,672.0 411.5,672.5 411.8,673.1 412.1,673.6 412.4,674.2 412.7,674.8 412.9,675.3 413.2,675.9 413.5,676.5 413.8,677.0 414.1,677.6 414.3,678.2 414.6,678.8 414.9,679.4 415.2,679.9 415.5,680.5 415.7,681.1 416.0,681.7 416.3,682.2 416.6,682.8 416.9,683.4 417.1,683.9 417.4,684.5 417.7,685.0 418.0,685.6 418.3,686.1 418.5,686.6 418.8,687.2 419.1,687.7 419.4,688.2 419.7,688.7 419.9,689.1 420.2,689.5 420.5,689.8 420.8,690.0 421.1,690.1 421.3,690.1 421.6,689.9 421.9,689.7 422.2,689.5 422.5,689.2 422.7,688.8 423.0,688.5 423.3,688.1 423.6,687.7 423.9,687.2 424.1,686.8 424.4,686.4 424.7,685.9 425.0,685.5 425.3,685.1 425.5,684.7 425.8,684.3 426.1,683.9 426.4,683.4 426.7,683.0 426.9,682.7 427.2,682.3 427.5,681.9 427.8,681.5 428.1,681.2 428.3,680.8 428.6,680.5 428.9,680.1 429.2,679.8 429.5,679.5 429.7,679.2 430.0,678.9 430.3,678.7 430.6,678.4 430.9,678.2 431.1,678.0 431.4,677.9 431.7,677.7 432.0,677.5 432.3,677.4 432.5,677.3 432.8,677.2 433.1,677.1 433.4,677.0 433.7,677.0 433.9,676.9 434.2,676.9 434.5,676.9 434.8,676.9 435.1,676.9 435.3,676.9 435.6,676.9 435.9,677.0 436.2,677.1 436.5,677.2 436.7,677.3 437.0,677.5 437.3,677.7 437.6,677.9 437.9,678.1 438.1,678.3 438.4,678.6 438.7,678.8 439.0,679.1 439.3,679.3 439.5,679.6 439.8,679.9 440.1,680.2 440.4,680.5 440.7,680.8 440.9,681.0 441.2,681.3 441.5,681.6 441.8,681.9 442.1,682.2 442.3,682.6 442.6,682.9 442.9,683.2 443.2,683.5 443.5,683.8 443.7,684.1 444.0,684.4 444.3,684.7 444.6,685.0 444.9,685.3 445.1,685.6 445.4,685.9 445.7,686.2 446.0,686.5 446.3,686.8 446.5,687.0 446.8,687.3 447.1,687.6 447.4,687.9 447.7,688.1 447.9,688.3 448.2,688.5 448.5,688.7 448.8,688.8 449.1,688.8 449.3,688.8 449.6,688.7 449.9,688.5 450.2,688.3 450.5,688.1 450.7,687.8 451.0,687.5 451.3,687.1 451.6,686.7 451.9,686.3 452.1,685.9 452.4,685.5 452.7,685.1 453.0,684.6 453.3,684.2 453.5,683.8 453.8,683.3 454.1,682.9 454.4,682.4 454.7,682.0 454.9,681.5 455.2,681.1 455.5,680.7 455.8,680.2 456.1,679.8 456.3,679.4 456.6,679.0 456.9,678.6 457.2,678.2 457.5,677.9 457.7,677.5 458.0,677.2 458.3,676.9 458.6,676.6 458.9,676.3 459.1,676.0 459.4,675.8 459.7,675.6 460.0,675.4 460.3,675.1 460.5,675.0 460.8,674.8 461.1,674.6 461.4,674.4 461.7,674.3 461.9,674.1 462.2,674.0 462.5,673.9 462.8,673.7 463.1,673.6 463.3,673.5 463.6,673.4 463.9,673.3 464.2,673.2 464.5,673.2 464.7,673.1 465.0,673.0 465.3,673.0 465.6,673.0 465.9,673.0 466.1,672.9 466.4,673.0 466.7,673.0 467.0,673.0 467.3,673.0 467.5,673.1 467.8,673.2 468.1,673.3 468.4,673.4 468.7,673.5 468.9,673.6 469.2,673.7 469.5,673.9 469.8,674.1 470.1,674.3 470.3,674.5 470.6,674.7 470.9,674.9 471.2,675.2 471.5,675.5 471.7,675.7 472.0,676.0 472.3,676.3 472.6,676.7 472.9,677.0 473.1,677.3 473.4,677.7 473.7,678.1 474.0,678.4 474.3,678.8 474.5,679.2 474.8,679.7 475.1,680.1 475.4,680.6 475.7,681.0 475.9,681.5 476.2,682.0 476.5,682.5 476.8,683.0 477.1,683.5 477.3,684.1 477.6,684.6 477.9,685.2 478.2,685.7 478.5,686.3 478.7,686.9 479.0,687.4 479.3,688.0 479.6,688.6 479.9,689.1 480.1,689.7 480.4,690.3 480.7,690.9 481.0,691.4 481.3,692.0 481.5,692.6 481.8,693.2 482.1,693.7 482.4,694.3 482.7,694.8 482.9,695.4 483.2,695.9 483.5,696.5 483.8,697.0 484.1,697.5 484.3,698.0 484.6,698.5 484.9,698.9 485.2,699.4 485.5,699.8 485.7,700.2 486.0,700.5 486.3,700.8 486.6,700.9 486.9,701.0 487.1,700.8 487.4,700.6 487.7,700.3 488.0,699.9 488.3,699.5 488.5,699.1 488.8,698.7 489.1,698.2 489.4,697.8 489.7,697.3 489.9,696.8 490.2,696.3 490.5,695.8 490.8,695.3 491.1,694.9 491.3,694.4 491.6,694.0 491.9,693.5 492.2,693.1 492.5,692.7 492.7,692.2 493.0,691.8 493.3,691.4 493.6,691.0 493.9,690.6 494.1,690.2 494.4,689.8 494.7,689.5 495.0,689.1 495.3,688.7 495.5,688.4 495.8,688.1 496.1,687.8 496.4,687.5 496.7,687.3 496.9,687.1 497.2,686.9 497.5,686.7 497.8,686.6 498.1,686.4 498.3,686.3 498.6,686.2 498.9,686.1 499.2,686.0 499.5,685.9 499.7,685.9 500.0,685.8 500.3,685.7 500.6,685.7 500.9,685.6 501.1,685.6 501.4,685.6 501.7,685.6 502.0,685.6 502.3,685.6 502.5,685.7 502.8,685.7 503.1,685.8 503.4,685.9 503.7,686.1 503.9,686.2 504.2,686.4 504.5,686.6 504.8,686.8 505.1,687.0 505.3,687.2 505.6,687.5 505.9,687.8 506.2,688.0 506.5,688.3 506.7,688.6 507.0,688.9 507.3,689.2 507.6,689.5 507.9,689.8 508.1,690.2 508.4,690.5 508.7,690.9 509.0,691.2 509.3,691.6 509.5,692.0 509.8,692.3 510.1,692.7 510.4,693.1 510.7,693.5 510.9,693.9 511.2,694.3 511.5,694.7 511.8,695.1 512.1,695.5 512.3,695.9 512.6,696.3 512.9,696.6 513.2,697.0 513.5,697.3 513.7,697.7 514.0,698.0 514.3,698.3 514.6,698.6 514.9,698.9 515.1,699.2 515.4,699.4 515.7,699.6 516.0,699.8 516.3,699.9 516.5,700.0 516.8,700.0 517.1,700.0 517.4,699.9 517.7,699.8 517.9,699.7 518.2,699.6 518.5,699.4 518.8,699.3 519.1,699.1 519.3,698.9 519.6,698.7 519.9,698.4 520.2,698.2 520.5,698.0 520.7,697.7 521.0,697.4 521.3,697.2 521.6,696.9 521.9,696.7 522.1,696.4 522.4,696.1 522.7,695.9 523.0,695.6 523.3,695.3 523.5,695.1 523.8,694.8 524.1,694.5 524.4,694.3 524.7,694.0 524.9,693.8 525.2,693.5 525.5,693.3 525.8,693.1 526.1,692.8 526.3,692.6 526.6,692.4 526.9,692.2 527.2,692.0 527.5,691.9 527.7,691.7 528.0,691.6 528.3,691.4 528.6,691.3 528.9,691.2 529.1,691.1 529.4,691.0 529.7,690.9 530.0,690.9 530.3,690.8 530.5,690.8 530.8,690.8 531.1,690.7 531.4,690.7 531.7,690.8 531.9,690.8 532.2,690.8 532.5,690.9 532.8,691.0 533.1,691.1 533.3,691.2 533.6,691.3 533.9,691.4 534.2,691.6 534.5,691.8 534.7,691.9 535.0,692.2 535.3,692.4 535.6,692.6 535.9,692.9 536.1,693.1 536.4,693.4 536.7,693.7 537.0,694.0 537.3,694.4 537.5,694.7 537.8,695.1 538.1,695.4 538.4,695.8 538.7,696.2 538.9,696.6 539.2,697.0 539.5,697.5 539.8,697.9 540.1,698.4 540.3,698.9 540.6,699.3 540.9,699.8 541.2,700.3 541.5,700.8 541.7,701.4 542.0,701.9 542.3,702.5 542.6,703.1 542.9,703.7 543.1,704.2 543.4,704.8 543.7,705.4 544.0,706.0 544.3,706.6 544.5,707.2 544.8,707.7 545.1,708.3 545.4,708.8 545.7,709.4 545.9,709.9 546.2,710.4 546.5,710.9 546.8,711.3 547.1,711.8 547.3,712.2 547.6,712.5 547.9,712.9 548.2,713.1 548.5,713.4 548.7,713.6 549.0,713.7 549.3,713.8 549.6,713.8 549.9,713.7 550.1,713.6 550.4,713.4 550.7,713.2 551.0,712.9 551.3,712.6 551.5,712.2 551.8,711.9 552.1,711.4 552.4,711.0 552.7,710.6 552.9,710.1 553.2,709.6 553.5,709.1 553.8,708.6 554.1,708.1 554.3,707.6 554.6,707.1 554.9,706.6 555.2,706.1 555.5,705.5 555.7,705.0 556.0,704.5 556.3,704.0 556.6,703.6 556.9,703.1 557.1,702.7 557.4,702.2 557.7,701.8 558.0,701.5 558.3,701.1 558.5,700.7 558.8,700.4 559.1,700.0 559.4,699.7 559.7,699.4 559.9,699.1 560.2,698.8 560.5,698.5 560.8,698.2 561.1,698.0 561.3,697.7 561.6,697.5 561.9,697.3 562.2,697.1 562.5,696.8 562.7,696.6 563.0,696.4 563.3,696.3 563.6,696.1 563.9,695.9 564.1,695.8 564.4,695.6 564.7,695.5 565.0,695.4 565.3,695.3 565.5,695.2 565.8,695.1 566.1,695.1 566.4,695.0 566.7,695.0 566.9,695.0 567.2,695.0 567.5,695.0 567.8,695.0 568.1,695.1 568.3,695.1 568.6,695.2 568.9,695.3 569.2,695.4 569.5,695.4 569.7,695.6 570.0,695.7 570.3,695.8 570.6,695.9 570.9,696.1 571.1,696.2 571.4,696.4 571.7,696.6 572.0,696.8 572.3,697.0 572.5,697.2 572.8,697.4 573.1,697.7 573.4,697.9 573.7,698.1 573.9,698.4 574.2,698.6 574.5,698.8 574.8,699.1 575.1,699.3 575.3,699.6 575.6,699.8 575.9,700.1 576.2,700.3 576.5,700.6 576.7,700.8 577.0,701.1 577.3,701.3 577.6,701.5 577.9,701.8 578.1,702.0 578.4,702.2 578.7,702.5 579.0,702.7 579.3,702.9 579.5,703.1 579.8,703.3 580.1,703.5 580.4,703.8 580.7,704.0 580.9,704.2 581.2,704.3 581.5,704.5 581.8,704.7 582.1,704.9 582.3,705.1 582.6,705.2 582.9,705.3 583.2,705.5 583.5,705.6 583.7,705.7 584.0,705.7 584.3,705.8 584.6,705.8 584.9,705.9 585.1,705.9 585.4,705.8 585.7,705.8 586.0,705.8 586.3,705.7 586.5,705.6 586.8,705.5 587.1,705.4 587.4,705.2 587.7,705.1 587.9,704.9 588.2,704.8 588.5,704.6 588.8,704.5 589.1,704.3 589.3,704.1 589.6,704.0 589.9,703.8 590.2,703.7 590.5,703.5 590.7,703.4 591.0,703.2 591.3,703.1 591.6,703.0 591.9,702.9 592.1,702.8 592.4,702.6 592.7,702.5 593.0,702.4 593.3,702.4 593.5,702.3 593.8,702.2 594.1,702.1 594.4,702.0 594.7,702.0 594.9,701.9 595.2,701.9 595.5,701.8 595.8,701.8 596.1,701.7 596.3,701.7 596.6,701.7 596.9,701.7 597.2,701.7 597.5,701.7 597.7,701.8 598.0,701.8 598.3,701.9 598.6,701.9 598.9,702.0 599.1,702.1 599.4,702.2 599.7,702.3 600.0,702.4 600.3,702.6 600.5,702.7 600.8,702.9 601.1,703.1 601.4,703.2 601.7,703.4 601.9,703.6 602.2,703.8 602.5,704.1 602.8,704.3 603.1,704.5 603.3,704.8 603.6,705.0 603.9,705.3 604.2,705.6 604.5,705.8 604.7,706.1 605.0,706.4 605.3,706.7 605.6,707.0 605.9,707.3 606.1,707.7 606.4,708.0 606.7,708.3 607.0,708.7 607.3,709.0 607.5,709.4 607.8,709.7 608.1,710.1 608.4,710.4 608.7,710.8 608.9,711.1 609.2,711.5 609.5,711.9 609.8,712.2 610.1,712.6 610.3,712.9 610.6,713.3 610.9,713.6 611.2,714.0 611.5,714.3 611.7,714.6 612.0,715.0 612.3,715.3 612.6,715.6 612.9,715.9 613.1,716.1 613.4,716.4 613.7,716.7 614.0,716.9 614.3,717.1 614.5,717.4 614.8,717.5 615.1,717.7 615.4,717.8 615.7,717.9 615.9,718.0 616.2,718.0 616.5,717.9 616.8,717.8 617.1,717.7 617.3,717.4 617.6,717.2 617.9,716.9 618.2,716.6 618.5,716.2 618.7,715.9 619.0,715.6 619.3,715.2 619.6,714.9 619.9,714.5 620.1,714.1 620.4,713.8 620.7,713.4 621.0,713.0 621.3,712.7 621.5,712.3 621.8,711.9 622.1,711.6 622.4,711.2 622.7,710.9 622.9,710.5 623.2,710.2 623.5,709.8 623.8,709.5 624.1,709.2 624.3,708.8 624.6,708.5 624.9,708.2 625.2,707.9 625.5,707.6 625.7,707.3 626.0,707.0 626.3,706.7 626.6,706.4 626.9,706.2 627.1,706.0 627.4,705.8 627.7,705.6 628.0,705.4 628.3,705.3 628.5,705.1 628.8,705.0 629.1,704.9 629.4,704.8 629.7,704.7 629.9,704.6 630.2,704.6 630.5,704.5 630.8,704.4 631.1,704.4 631.3,704.4 631.6,704.4 631.9,704.4 632.2,704.4 632.5,704.4 632.7,704.4 633.0,704.5 633.3,704.5 633.6,704.6 633.9,704.7 634.1,704.8 634.4,704.9 634.7,705.0 635.0,705.1 635.3,705.2 635.5,705.4 635.8,705.5 636.1,705.7 636.4,705.9 636.7,706.1 636.9,706.2 637.2,706.4 637.5,706.7 637.8,706.9 638.1,707.1 638.3,707.4 638.6,707.6 638.9,707.9 639.2,708.1 639.5,708.4 639.7,708.7 640.0,709.1 640.3,709.4 640.6,709.7 640.9,710.1 641.1,710.4 641.4,710.8 641.7,711.1 642.0,711.5 642.3,711.8 642.5,712.2 642.8,712.6 643.1,712.9 643.4,713.3 643.7,713.7 643.9,714.0 644.2,714.4 644.5,714.7 644.8,715.0 645.1,715.4 645.3,715.7 645.6,716.0 645.9,716.3 646.2,716.6 646.5,716.9 646.7,717.2 647.0,717.5 647.3,717.7 647.6,718.0 647.9,718.3 648.1,718.5 648.4,718.8 648.7,719.1 649.0,719.3 649.3,719.6 649.5,719.8 649.8,720.1 650.1,720.3 650.4,720.5 650.7,720.8 650.9,721.0 651.2,721.2 651.5,721.4 651.8,721.5 652.1,721.6 652.3,721.7 652.6,721.8 652.9,721.8 653.2,721.7 653.5,721.7 653.7,721.6 654.0,721.5 654.3,721.4 654.6,721.2 654.9,721.1 655.1,720.9 655.4,720.7 655.7,720.6 656.0,720.4 656.3,720.2 656.5,720.0 656.8,719.8 657.1,719.6 657.4,719.4 657.7,719.2 657.9,719.0 658.2,718.8 658.5,718.6 658.8,718.4 659.1,718.2 659.3,718.0 659.6,717.8 659.9,717.6 660.2,717.5 660.5,717.3 660.7,717.1 661.0,716.9 661.3,716.8 661.6,716.6 661.9,716.5 662.1,716.3 662.4,716.2 662.7,716.0 663.0,715.9 663.3,715.8 663.5,715.7 663.8,715.7 664.1,715.6 664.4,715.5 664.7,715.5 664.9,715.5 665.2,715.5 665.5,715.4 665.8,715.5 666.1,715.5 666.3,715.5 666.6,715.6 666.9,715.6 667.2,715.7 667.5,715.8 667.7,715.9 668.0,716.0 668.3,716.2 668.6,716.3 668.9,716.4 669.1,716.6 669.4,716.8 669.7,716.9 670.0,717.1 670.3,717.3 670.5,717.5 670.8,717.7 671.1,717.9 671.4,718.1 671.7,718.3 671.9,718.5 672.2,718.7 672.5,719.0 672.8,719.2 673.1,719.4 673.3,719.7 673.6,719.9 673.9,720.2 674.2,720.4 674.5,720.7 674.7,720.9 675.0,721.2 675.3,721.4 675.6,721.6 675.9,721.9 676.1,722.1 676.4,722.4 676.7,722.6 677.0,722.8 677.3,723.0 677.5,723.2 677.8,723.4 678.1,723.6 678.4,723.7 678.7,723.9 678.9,724.0 679.2,724.2 679.5,724.3 679.8,724.3 680.1,724.4 680.3,724.5 680.6,724.5 680.9,724.5 681.2,724.5 681.5,724.5 681.7,724.4 682.0,724.3 682.3,724.3 682.6,724.2 682.9,724.0 683.1,723.9 683.4,723.8 683.7,723.6 684.0,723.5 684.3,723.3 684.5,723.1 684.8,722.9 685.1,722.7 685.4,722.5 685.7,722.3 685.9,722.0 686.2,721.8 686.5,721.6 686.8,721.3 687.1,721.1 687.3,720.8 687.6,720.6 687.9,720.3 688.2,720.0 688.5,719.8 688.7,719.5 689.0,719.3 689.3,719.0 689.6,718.7 689.9,718.5 690.1,718.2 690.4,718.0 690.7,717.7 691.0,717.5 691.3,717.3 691.5,717.1 691.8,716.9 692.1,716.6 692.4,716.4 692.7,716.3 692.9,716.1 693.2,715.9 693.5,715.7 693.8,715.5 694.1,715.4 694.3,715.2 694.6,715.1 694.9,715.0 695.2,714.8 695.5,714.7 695.7,714.6 696.0,714.5 696.3,714.4 696.6,714.3 696.9,714.3 697.1,714.2 697.4,714.2 697.7,714.2 698.0,714.1 698.3,714.1 698.5,714.2 698.8,714.2 699.1,714.2 699.4,714.3 699.7,714.4 699.9,714.4 700.2,714.5 700.5,714.6 700.8,714.7 701.1,714.9 701.3,715.0 701.6,715.1 701.9,715.3 702.2,715.5" stroke="#fc0208" stroke-width="2.2"/>
</g>
<rect x="52.30" y="562.60" width="650.40" height="164.80" fill="none" stroke="#2a2a2a" stroke-width="1"/>
<text x="28.70" y="567.40" textLength="15.2" lengthAdjust="spacingAndGlyphs" font-size="10.9" fill="#1c1c1c" stroke="#1c1c1c" stroke-width="0.25" font-family='"Liberation Sans", sans-serif'>10<tspan dy="-3.6" font-size="7.6">0</tspan></text>
<text x="21.30" y="596.20" textLength="22.6" lengthAdjust="spacingAndGlyphs" font-size="10.9" fill="#1c1c1c" stroke="#1c1c1c" stroke-width="0.25" font-family='"Liberation Sans", sans-serif'>10<tspan dy="-3.6" font-size="7.6">−1</tspan></text>
<text x="21.30" y="625.00" textLength="22.6" lengthAdjust="spacingAndGlyphs" font-size="10.9" fill="#1c1c1c" stroke="#1c1c1c" stroke-width="0.25" font-family='"Liberation Sans", sans-serif'>10<tspan dy="-3.6" font-size="7.6">−2</tspan></text>
<text x="21.30" y="653.80" textLength="22.6" lengthAdjust="spacingAndGlyphs" font-size="10.9" fill="#1c1c1c" stroke="#1c1c1c" stroke-width="0.25" font-family='"Liberation Sans", sans-serif'>10<tspan dy="-3.6" font-size="7.6">−3</tspan></text>
<text x="21.30" y="682.60" textLength="22.6" lengthAdjust="spacingAndGlyphs" font-size="10.9" fill="#1c1c1c" stroke="#1c1c1c" stroke-width="0.25" font-family='"Liberation Sans", sans-serif'>10<tspan dy="-3.6" font-size="7.6">−4</tspan></text>
<text x="21.30" y="711.40" textLength="22.6" lengthAdjust="spacingAndGlyphs" font-size="10.9" fill="#1c1c1c" stroke="#1c1c1c" stroke-width="0.25" font-family='"Liberation Sans", sans-serif'>10<tspan dy="-3.6" font-size="7.6">−5</tspan></text>
<path d="M52.30 562.60h-3.6 M52.30 582.73h-2 M52.30 577.66h-2 M52.30 574.06h-2 M52.30 571.27h-2 M52.30 568.99h-2 M52.30 567.06h-2 M52.30 565.39h-2 M52.30 563.92h-2 M52.30 591.40h-3.6 M52.30 611.53h-2 M52.30 606.46h-2 M52.30 602.86h-2 M52.30 600.07h-2 M52.30 597.79h-2 M52.30 595.86h-2 M52.30 594.19h-2 M52.30 592.72h-2 M52.30 620.20h-3.6 M52.30 640.33h-2 M52.30 635.26h-2 M52.30 631.66h-2 M52.30 628.87h-2 M52.30 626.59h-2 M52.30 624.66h-2 M52.30 622.99h-2 M52.30 621.52h-2 M52.30 649.00h-3.6 M52.30 669.13h-2 M52.30 664.06h-2 M52.30 660.46h-2 M52.30 657.67h-2 M52.30 655.39h-2 M52.30 653.46h-2 M52.30 651.79h-2 M52.30 650.32h-2 M52.30 677.80h-3.6 M52.30 697.93h-2 M52.30 692.86h-2 M52.30 689.26h-2 M52.30 686.47h-2 M52.30 684.19h-2 M52.30 682.26h-2 M52.30 680.59h-2 M52.30 679.12h-2 M52.30 706.60h-3.6 M52.30 726.73h-2 M52.30 721.66h-2 M52.30 718.06h-2 M52.30 715.27h-2 M52.30 712.99h-2 M52.30 711.06h-2 M52.30 709.39h-2 M52.30 707.92h-2 M170.50 727.40v3.5 M295.70 727.40v3.5 M421.00 727.40v3.5 M546.20 727.40v3.5 M671.40 727.40v3.5" stroke="#2a2a2a" stroke-width="1" fill="none"/>
<text transform="translate(12.60 645.70) rotate(-90)" text-anchor="middle" font-size="11" fill="#1c1c1c" font-family='"Liberation Sans", sans-serif' textLength="77" lengthAdjust="spacingAndGlyphs">Intensity [a.u.]</text>
<text x="169.20" y="357.95" text-anchor="middle" font-size="10.7" fill="#1c1c1c" stroke="#1c1c1c" stroke-width="0.15" font-family='"Liberation Sans", sans-serif'>2</text>
<text x="295.00" y="357.95" text-anchor="middle" font-size="10.7" fill="#1c1c1c" stroke="#1c1c1c" stroke-width="0.15" font-family='"Liberation Sans", sans-serif'>4</text>
<text x="420.80" y="357.95" text-anchor="middle" font-size="10.7" fill="#1c1c1c" stroke="#1c1c1c" stroke-width="0.15" font-family='"Liberation Sans", sans-serif'>6</text>
<text x="546.60" y="357.95" text-anchor="middle" font-size="10.7" fill="#1c1c1c" stroke="#1c1c1c" stroke-width="0.15" font-family='"Liberation Sans", sans-serif'>8</text>
<text x="672.40" y="357.95" text-anchor="middle" font-size="10.7" fill="#1c1c1c" stroke="#1c1c1c" stroke-width="0.15" font-family='"Liberation Sans", sans-serif'>10</text>
<text x="362.50" y="373.75" font-size="12.2" fill="#1c1c1c" textLength="30" lengthAdjust="spacingAndGlyphs" font-family='"Liberation Sans", sans-serif'>2θ [°]</text>
<text x="170.70" y="743.05" text-anchor="middle" font-size="10.7" fill="#1c1c1c" stroke="#1c1c1c" stroke-width="0.15" font-family='"Liberation Sans", sans-serif'>2</text>
<text x="295.90" y="743.05" text-anchor="middle" font-size="10.7" fill="#1c1c1c" stroke="#1c1c1c" stroke-width="0.15" font-family='"Liberation Sans", sans-serif'>4</text>
<text x="421.20" y="743.05" text-anchor="middle" font-size="10.7" fill="#1c1c1c" stroke="#1c1c1c" stroke-width="0.15" font-family='"Liberation Sans", sans-serif'>6</text>
<text x="546.40" y="743.05" text-anchor="middle" font-size="10.7" fill="#1c1c1c" stroke="#1c1c1c" stroke-width="0.15" font-family='"Liberation Sans", sans-serif'>8</text>
<text x="671.60" y="743.05" text-anchor="middle" font-size="10.7" fill="#1c1c1c" stroke="#1c1c1c" stroke-width="0.15" font-family='"Liberation Sans", sans-serif'>10</text>
<text x="363.10" y="758.40" font-size="12.2" fill="#1c1c1c" textLength="30" lengthAdjust="spacingAndGlyphs" font-family='"Liberation Sans", sans-serif'>2θ [°]</text>
<text x="61.30" y="95.50" font-size="17.50" fill="#111" font-family='"Liberation Sans", sans-serif' textLength="103.00" lengthAdjust="spacingAndGlyphs">As-deposited</text>
<text x="61.60" y="157.90" font-size="27.00" fill="#111" font-family='"Liberation Sans", sans-serif' textLength="30.30" lengthAdjust="spacingAndGlyphs">(a)</text>
<text x="61.50" y="272.50" font-size="16.80" fill="#111" font-family='"Liberation Sans", sans-serif' textLength="28.00" lengthAdjust="spacingAndGlyphs">450</text>
<circle cx="93.90" cy="259.90" r="2.25" fill="none" stroke="#111" stroke-width="1.15"/>
<text x="96.90" y="273.10" font-size="22.50" fill="#111" font-family='"Liberation Sans", sans-serif' textLength="12.60" lengthAdjust="spacingAndGlyphs">C</text>
<text x="61.45" y="331.00" font-size="27.00" fill="#111" font-family='"Liberation Sans", sans-serif' textLength="32.00" lengthAdjust="spacingAndGlyphs">(b)</text>
<text x="59.50" y="482.30" font-size="17.50" fill="#111" font-family='"Liberation Sans", sans-serif' textLength="103.50" lengthAdjust="spacingAndGlyphs">As-deposited</text>
<text x="61.20" y="540.30" font-size="27.00" fill="#111" font-family='"Liberation Sans", sans-serif' textLength="30.50" lengthAdjust="spacingAndGlyphs">(c)</text>
<text x="63.75" y="657.50" font-size="16.80" fill="#111" font-family='"Liberation Sans", sans-serif' textLength="28.00" lengthAdjust="spacingAndGlyphs">450</text>
<circle cx="96.15" cy="644.90" r="2.25" fill="none" stroke="#111" stroke-width="1.15"/>
<text x="99.15" y="658.10" font-size="22.50" fill="#111" font-family='"Liberation Sans", sans-serif' textLength="12.60" lengthAdjust="spacingAndGlyphs">C</text>
<text x="59.95" y="715.60" font-size="27.00" fill="#111" font-family='"Liberation Sans", sans-serif' textLength="32.00" lengthAdjust="spacingAndGlyphs">(d)</text>
<rect x="607.25" y="5.50" width="96.95" height="23.40" fill="#ffc000" stroke="#3a3a3a" stroke-width="0.6"/>
<text x="642.05" y="22.20" textLength="25.75" lengthAdjust="spacingAndGlyphs" font-weight="bold" font-size="14" fill="#111" font-family='"Liberation Sans", sans-serif'>Pt 5</text>
<rect x="607.25" y="28.90" width="96.95" height="17.60" fill="#00b050" stroke="#3a3a3a" stroke-width="0.6"/>
<text x="634.18" y="42.70" textLength="41.50" lengthAdjust="spacingAndGlyphs" font-weight="bold" font-size="14" fill="#111" font-family='"Liberation Sans", sans-serif'>Co 0.6</text>
<rect x="607.25" y="46.50" width="96.95" height="23.00" fill="#7030a0" stroke="#3a3a3a" stroke-width="0.6"/>
<text x="640.55" y="63.00" textLength="28.75" lengthAdjust="spacingAndGlyphs" font-weight="bold" font-size="14" fill="#fff" font-family='"Liberation Sans", sans-serif'>Ru 5</text>
<rect x="607.25" y="69.50" width="96.95" height="22.75" fill="#ffc000" stroke="#3a3a3a" stroke-width="0.6"/>
<text x="642.05" y="85.88" textLength="25.75" lengthAdjust="spacingAndGlyphs" font-weight="bold" font-size="14" fill="#111" font-family='"Liberation Sans", sans-serif'>Pt 5</text>
<rect x="607.25" y="92.25" width="96.95" height="22.75" fill="#5b9bd5" stroke="#3a3a3a" stroke-width="0.6"/>
<text x="641.43" y="108.62" textLength="27.00" lengthAdjust="spacingAndGlyphs" font-weight="bold" font-size="14" fill="#111" font-family='"Liberation Sans", sans-serif'>Ta 5</text>
<rect x="606.50" y="392.00" width="97.70" height="23.25" fill="#ffc000" stroke="#3a3a3a" stroke-width="0.6"/>
<text x="641.68" y="408.62" textLength="25.75" lengthAdjust="spacingAndGlyphs" font-weight="bold" font-size="14" fill="#111" font-family='"Liberation Sans", sans-serif'>Pt 5</text>
<rect x="606.50" y="415.25" width="97.70" height="17.50" fill="#00b050" stroke="#3a3a3a" stroke-width="0.6"/>
<text x="633.80" y="429.00" textLength="41.50" lengthAdjust="spacingAndGlyphs" font-weight="bold" font-size="14" fill="#111" font-family='"Liberation Sans", sans-serif'>Co 0.6</text>
<rect x="606.50" y="432.75" width="97.70" height="13.25" fill="#ff0000" stroke="#3a3a3a" stroke-width="0.6"/>
<text x="630.30" y="444.38" textLength="48.50" lengthAdjust="spacingAndGlyphs" font-weight="bold" font-size="14" fill="#fff" font-family='"Liberation Sans", sans-serif'>Re 0.18</text>
<rect x="606.50" y="446.00" width="97.70" height="23.10" fill="#7030a0" stroke="#3a3a3a" stroke-width="0.6"/>
<text x="640.18" y="462.55" textLength="28.75" lengthAdjust="spacingAndGlyphs" font-weight="bold" font-size="14" fill="#fff" font-family='"Liberation Sans", sans-serif'>Ru 5</text>
<rect x="606.50" y="469.10" width="97.70" height="23.15" fill="#ffc000" stroke="#3a3a3a" stroke-width="0.6"/>
<text x="641.68" y="485.68" textLength="25.75" lengthAdjust="spacingAndGlyphs" font-weight="bold" font-size="14" fill="#111" font-family='"Liberation Sans", sans-serif'>Pt 5</text>
<rect x="606.50" y="492.25" width="97.70" height="23.25" fill="#5b9bd5" stroke="#3a3a3a" stroke-width="0.6"/>
<text x="641.05" y="508.88" textLength="27.00" lengthAdjust="spacingAndGlyphs" font-weight="bold" font-size="14" fill="#111" font-family='"Liberation Sans", sans-serif'>Ta 5</text>
</svg>
</body></html>
